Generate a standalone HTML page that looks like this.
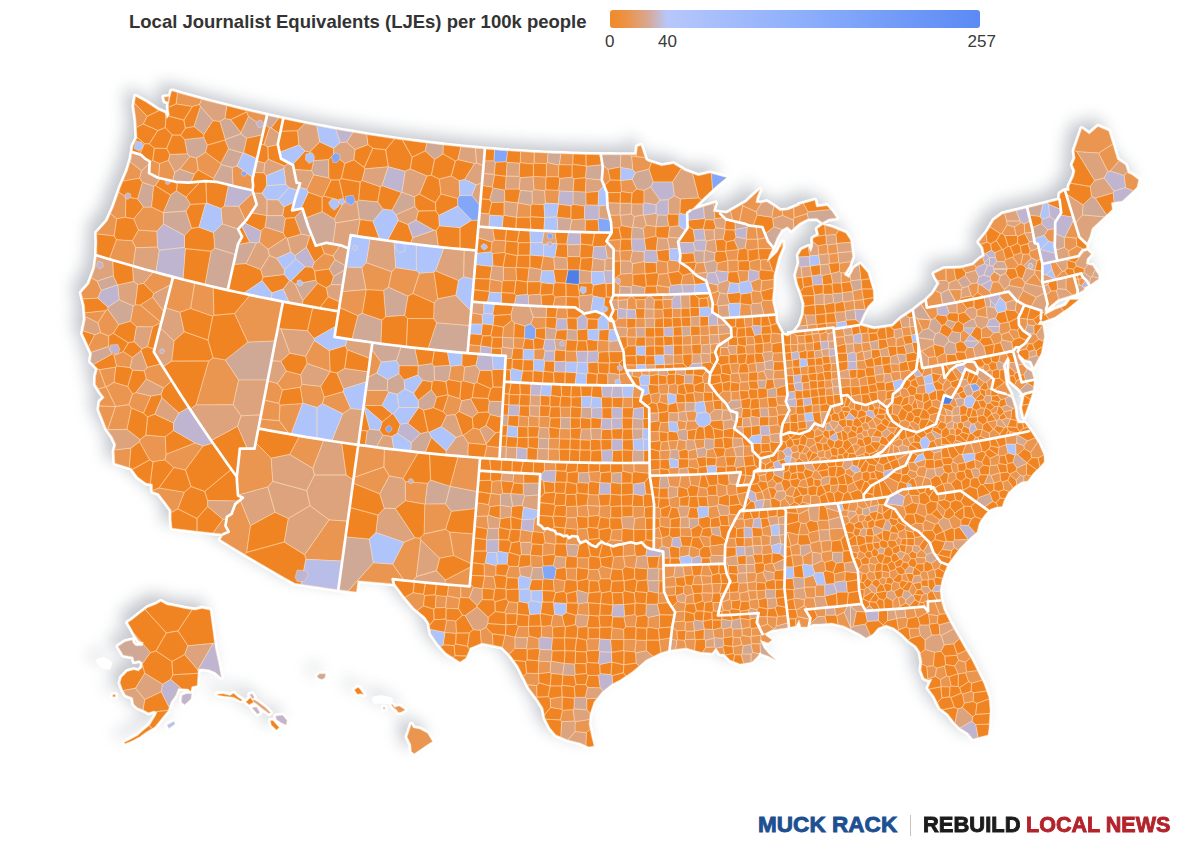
<!DOCTYPE html>
<html><head><meta charset="utf-8"><title>Local Journalist Equivalents per 100k people</title>
<style>
html,body{margin:0;padding:0;background:#fff;width:1200px;height:851px;overflow:hidden}
body{position:relative;font-family:"Liberation Sans",sans-serif}
.t{position:absolute;white-space:nowrap;line-height:1}
#title{left:129px;top:13.2px;font-size:18.5px;font-weight:bold;color:#333}
.tick{font-size:17px;color:#3a3a3a;top:33.2px}
.logo{font-weight:bold;font-size:22.5px;top:813.9px;-webkit-text-stroke:.9px currentColor;transform-origin:0 50%}
</style></head><body>
<svg width="1200" height="851" viewBox="0 0 1200 851" style="position:absolute;left:0;top:0"><defs><filter id="sh" x="-5%" y="-5%" width="110%" height="110%"><feGaussianBlur stdDeviation="8"/></filter><linearGradient id="lg" x1="0" x2="1" y1="0" y2="0"><stop offset="0" stop-color="#f08a2c"/><stop offset=".04" stop-color="#ee9142"/><stop offset=".10" stop-color="#d9a68e"/><stop offset=".155" stop-color="#b7c7fb"/><stop offset=".5" stop-color="#8fb0fb"/><stop offset="1" stop-color="#5b8af5"/></linearGradient></defs><g filter="url(#sh)" opacity=".33" transform="translate(-8,-7.5)"><path d="M172.6,91.1L181.6,93.7L190.7,96.3L199.7,98.7L208.8,101.2L217.9,103.5L227.7,106L237.5,108.5L247.3,110.8L257.1,113.1L267,115.4L283.2,119L291.7,120.7L300.1,122.5L308.5,124.2L317,125.8L325.4,127.4L333.9,129L342.4,130.5L350.9,131.9L359.3,133.3L367.7,134.7L376.1,136L384.5,137.3L392.9,138.5L401.3,139.7L409.7,140.8L418.2,141.9L427.7,143.1L437.2,144.2L446.7,145.3L456.3,146.3L465.8,147.3L475.4,148.2L484.9,149L493.5,149.7L502.1,150.4L510.7,151L519.3,151.5L527.9,152.1L536.5,152.5L545.1,153L553.7,153.4L563.1,153.7L572.5,154L581.9,154.3L591.3,154.5L600.8,154.7L609.6,154.7L618.4,154.8L627.3,154.8L636.1,154.7L636.3,156L637.5,146.5L641,145.5L645.8,160L649,161.7L661.7,165.8L673.3,163.7L685,170.8L698.3,175.8L710,173L726.7,177.5L716.7,185.8L703.3,198.3L690.8,210.8L699,208L712,204L715.5,203L714,208L713.3,211.5L720,212.5L726.7,213.3L746.7,201.7L756,193L760,189.5L757,197L755.8,202.5L761,203L766.7,201.7L775,207L780,210.8L788,210L800,205L799.4,204.5L814.8,200.2L816.5,207L827.1,205.7L832.2,211.5L836.6,217.9L828.7,219.1L822.3,222.5L817,218.5L808,218.7L799.6,223L791.3,230.3L787.4,226.8L781.4,229.9L776.8,238.1L773.1,247.4L769.3,255.5L767.1,262.1L771.3,257.9L777.2,252.2L782.5,241.9L783,246.5L778.5,257.2L775.8,267.8L773.8,275.7L773.7,286L772.2,300.4L775.3,314.3L775.9,322L780.5,330.7L782.3,334.4L787.6,336L794,332.8L799.9,325L803.5,314.2L804.3,303.8L801.4,293.7L797.6,283.8L795.8,274.9L799.2,263L798.4,255.3L801.5,249.8L808.4,246.5L810.8,251.9L812.9,246L812.9,238.3L818.9,235L817.3,228.8L822.6,224.8L832.4,227.4L845.8,233L850.4,240.1L852.6,256.6L849.3,266.1L843.9,274.6L849,277.8L854.2,268.1L860.1,264.1L867.8,272.7L873.1,290.1L873.6,300.4L867.8,306.5L863.3,314.9L859,325.1L867.9,327.3L873.9,329L887.1,327.1L892.7,326.3L901.1,318.5L912.9,310.8L920,304.9L925.8,300.8L933.2,293.5L939.4,283.2L935.5,277.4L934,273.5L943.9,268.8L960.8,268.2L973.3,264.9L979.7,259.1L984.7,256L982.9,247.2L978.9,241.9L987.1,231.8L993.9,220.3L1002.6,213.9L1014.9,210.9L1027.2,207.9L1038,205.2L1048.8,202.5L1059.6,199.7L1059.9,193.8L1065,190.5L1069.3,190.7L1069.1,186.3L1073.8,176.2L1075,170.6L1072.4,164.7L1075.2,158.1L1074.1,150.9L1081.8,128.6L1089.3,133.9L1098,126.5L1108.7,131L1113.1,145.2L1117.4,159.5L1125.5,165.1L1127.9,172.9L1131.6,174.4L1138.6,179.8L1137,187L1131.2,192.8L1122.3,200.9L1111.4,202.8L1112.3,209.2L1108.6,213L1098.1,222.7L1092,228.4L1090.1,235.6L1086.7,244L1086.2,249.5L1091.3,253.9L1086.9,259.1L1086.3,263.9L1092.6,265.6L1096.1,271.3L1098.7,275.2L1098.3,279.5L1095.7,280.8L1090,285L1084.7,287.2L1083.5,290.2L1077.2,293.5L1067.8,296.4L1058.3,299.3L1046,309.5L1044.4,315.2L1054.8,309.5L1065.7,305.5L1070.1,299.5L1078.8,299.4L1068.3,308L1054.7,317.2L1042.9,321.4L1040.6,320.1L1037.7,324.7L1042.7,324.9L1044.4,336.4L1041.3,353.1L1033.8,367.2L1031.1,361.2L1024.6,359.5L1019.6,354.8L1017.9,351.7L1018.1,356.9L1022.8,364.6L1026.2,368.4L1031.8,371.7L1034.2,379.8L1032.9,392.1L1028.5,404.9L1024,417.3L1021.9,407.7L1024.4,395.3L1018.8,388.5L1010.2,381.1L1009,370.8L1009.7,360.1L1008,356.5L1002.9,365.5L1004.4,373.1L1005.8,384.7L1010.9,394.2L1005.7,393.9L997.9,390.3L1011.7,398L1014.8,407.9L1015.7,416.9L1018,423.1L1024.8,422.9L1031.2,431.7L1039,443.7L1043.9,455L1044.2,462L1039,467.7L1033.3,473.3L1027.7,481L1022,481.8L1015,486L1008,493L1003.7,501.5L1002.3,506.5L996.7,507L990.3,509.3L985.4,514L981,520L979,524L977,532L970,538L960,548L954,556L948,564L944,574L942,580L940,590L941,600L944,610L950,622L958,636L966,650L971,658L978,672L984,684L989,698L990,710L989,728L988,735L980,737L973,739L968,733L960,728L954,722L948,714L940,708L934,696L928,688L932,679L928,680L924,678L921,670L922,662L920,652L916,646L909,641L902,634L894,628L886,625L878,628L873,634L866,638L860,634L854,631L844,626L832,623L820,624L813,624L808,627L801,627L799,620L796,626L786,628L772,630L764,634L772,640L768,643L760,640L764,648L769,654L776,660L768,656L762,654L760,652L758,656L752,662L740,664L730,660L724,654L720,654L716,648L712,653L700,652L686,648L670,650L660,653L646,660L632,672L620,680L612,684L602,692L594,702L590,714L589,724L592,738L594,746L589,747L580,743L568,740L556,735L550,728L545,718L543,708L538,700L529,688L524,678L518,666L510,655L502,647L492,645L482,643L470,648L466,658L460,662L446,653L438,644L431,634L429,623L425,617L414,608L404,596L395,584L357.9,580.7L356.4,592.1L338.3,589.7L327.4,588.2L316.5,586.6L305.6,584.9L294.7,583.2L283.9,577.2L273.2,571L262.5,564.8L251.9,558.6L241.3,552.3L230.8,545.9L220.4,539.5L223.5,534.1L210.6,532.7L197.8,531.3L185,529.8L172.1,528.2L171.2,519.5L171.2,510.3L165.4,502.3L158.7,493.6L152.7,491.6L152.3,484.1L146,483.1L137.8,477.1L131.3,468.3L114.9,463.2L114.2,451.1L115.9,444.8L112.5,437.2L106.4,428.4L98.9,409.4L100,401.7L104.3,397.5L100.4,392.4L95.4,384.2L95.6,376.2L97.7,368.8L90.5,361.3L91.7,353.6L82.6,333.4L85.4,319.4L84.5,305.6L81.3,292.7L89,284L94.8,268.3L96.6,255.3L97,242L96.7,232.7L107.3,220.9L113.6,206.7L120.4,187.3L127.4,170.7L131.1,158.4L131.9,152.5L132,154L133,146L137,138L136,120L134,106L135.6,96.4L146,102L158,110L165,113L167,118.5L169.3,115L168.3,106L169.5,99L171.6,91ZM160.9,601.4L167.1,604.9L172.3,605.8L184.6,608.4L195.1,610.1L202.1,608.4L210,610.1L212.6,628.5L215.2,647.8L218.7,663.6L221.4,677.6L215.2,672.3L209.1,669.7L202.1,668.8L198.2,669.2L197.2,685.5L191.9,686.7L190.7,691.6L188.1,689.1L178.4,688.4L177.6,690.7L175.8,695.1L173.7,698.2L170.9,702.1L167.9,710.9L163.6,716.1L160.1,720.5L154.8,727L146,732.2L139.9,736.8L132,741L125,743.8L124.2,742.4L131.2,738.9L137.6,735.4L142.5,731L149.5,725.2L155.2,716.1L157.1,712.3L153.9,710.9L148.7,713L143.4,710L137.6,707.7L133.8,704.2L132.6,697.7L125.6,695.1L122.6,689.8L120.1,682.8L121.5,677.6L127.3,671.6L133.8,669.7L138.5,670.9L142.2,667.4L142.5,662.7L139.4,660.4L134.1,661.5L133.1,656.9L123.3,655.2L118,646.4L125,641.7L132,639.9L133.3,643.4L135.9,645.7L142.5,645.7L143.4,642.5L139,641.3L135.9,636.9L131.3,628.5L127.8,622.6L132,619.8L140.8,612.8L147.8,607.5L156.6,604ZM164,97L169,96.5L168.2,102L165,101ZM182,695.4L186.3,693.7L191.6,693.7L190.9,698.9L184.6,704.7L181.4,702.1ZM167.1,724.9L173.7,721.4L175.1,724L168.8,728.4ZM112.8,694.7L115.4,694.7L115.4,696.8L112.8,696.8ZM217,694.2L223.1,693.7L230.1,695.4L233.6,693.3L238,697.2L242.4,700L240.6,700.9L233.6,697.2L226.6,696.5L218.7,695.4ZM245.9,702.1L250.3,697.7L253.8,702.1L249.4,704.7ZM249.7,694.7L252,693.7L254.3,697.2L252.5,698.9ZM253.8,699.5L258.1,702.1L265.1,707.3L270.4,712.6L269,713.5L262.5,708.7L256.4,703.8L252.9,701.2ZM252,707.7L256.4,707L259.9,712.6L257.3,714ZM270.4,720.5L273,720.5L279.2,727.5L276.5,730.1L271.3,724.9ZM275.7,716.1L282.7,715.2L287,720.5L286.2,724.9L281.8,723.1L276.5,719.6ZM317.2,675.8L319.7,673.8L325.4,673.7L325.1,677.6L321.9,679.5L318,678ZM354.3,690L358.1,687.2L359.9,688.9L363.7,694.5L360.6,693.8L357.5,694.3ZM383.2,707.2L385,707.2L385,708.9L383.2,708.9ZM391.3,704.5L393,704.8L394.2,707.2L397.3,706.5L399.4,706L405.2,709.8L401.5,711.9L398.4,712.6L396.3,709.6L393.3,707.6ZM411.4,724.1L413.1,727.7L419.8,729.1L427.6,733.3L432.5,741.5L427.6,744.6L422.6,748.1L414.2,753.7L411.4,751.6L410.9,744.6L407.1,736.8L409.3,730.5ZM374.7,698.8L381.1,697.8L390.2,699.5L389.5,701.6L381.8,701.2L375.4,701.2ZM98.8,660.9L104,659.7L109.6,663.2L108.4,667.1L102.3,665.7Z" fill="#4a5568" stroke="#4a5568" stroke-width="3" stroke-linejoin="round"/></g><path d="M172.6,91.1L181.6,93.7L190.7,96.3L199.7,98.7L208.8,101.2L217.9,103.5L227.7,106L237.5,108.5L247.3,110.8L257.1,113.1L267,115.4L283.2,119L291.7,120.7L300.1,122.5L308.5,124.2L317,125.8L325.4,127.4L333.9,129L342.4,130.5L350.9,131.9L359.3,133.3L367.7,134.7L376.1,136L384.5,137.3L392.9,138.5L401.3,139.7L409.7,140.8L418.2,141.9L427.7,143.1L437.2,144.2L446.7,145.3L456.3,146.3L465.8,147.3L475.4,148.2L484.9,149L493.5,149.7L502.1,150.4L510.7,151L519.3,151.5L527.9,152.1L536.5,152.5L545.1,153L553.7,153.4L563.1,153.7L572.5,154L581.9,154.3L591.3,154.5L600.8,154.7L609.6,154.7L618.4,154.8L627.3,154.8L636.1,154.7L636.3,156L637.5,146.5L641,145.5L645.8,160L649,161.7L661.7,165.8L673.3,163.7L685,170.8L698.3,175.8L710,173L726.7,177.5L716.7,185.8L703.3,198.3L690.8,210.8L699,208L712,204L715.5,203L714,208L713.3,211.5L720,212.5L726.7,213.3L746.7,201.7L756,193L760,189.5L757,197L755.8,202.5L761,203L766.7,201.7L775,207L780,210.8L788,210L800,205L799.4,204.5L814.8,200.2L816.5,207L827.1,205.7L832.2,211.5L836.6,217.9L828.7,219.1L822.3,222.5L817,218.5L808,218.7L799.6,223L791.3,230.3L787.4,226.8L781.4,229.9L776.8,238.1L773.1,247.4L769.3,255.5L767.1,262.1L771.3,257.9L777.2,252.2L782.5,241.9L783,246.5L778.5,257.2L775.8,267.8L773.8,275.7L773.7,286L772.2,300.4L775.3,314.3L775.9,322L780.5,330.7L782.3,334.4L787.6,336L794,332.8L799.9,325L803.5,314.2L804.3,303.8L801.4,293.7L797.6,283.8L795.8,274.9L799.2,263L798.4,255.3L801.5,249.8L808.4,246.5L810.8,251.9L812.9,246L812.9,238.3L818.9,235L817.3,228.8L822.6,224.8L832.4,227.4L845.8,233L850.4,240.1L852.6,256.6L849.3,266.1L843.9,274.6L849,277.8L854.2,268.1L860.1,264.1L867.8,272.7L873.1,290.1L873.6,300.4L867.8,306.5L863.3,314.9L859,325.1L867.9,327.3L873.9,329L887.1,327.1L892.7,326.3L901.1,318.5L912.9,310.8L920,304.9L925.8,300.8L933.2,293.5L939.4,283.2L935.5,277.4L934,273.5L943.9,268.8L960.8,268.2L973.3,264.9L979.7,259.1L984.7,256L982.9,247.2L978.9,241.9L987.1,231.8L993.9,220.3L1002.6,213.9L1014.9,210.9L1027.2,207.9L1038,205.2L1048.8,202.5L1059.6,199.7L1059.9,193.8L1065,190.5L1069.3,190.7L1069.1,186.3L1073.8,176.2L1075,170.6L1072.4,164.7L1075.2,158.1L1074.1,150.9L1081.8,128.6L1089.3,133.9L1098,126.5L1108.7,131L1113.1,145.2L1117.4,159.5L1125.5,165.1L1127.9,172.9L1131.6,174.4L1138.6,179.8L1137,187L1131.2,192.8L1122.3,200.9L1111.4,202.8L1112.3,209.2L1108.6,213L1098.1,222.7L1092,228.4L1090.1,235.6L1086.7,244L1086.2,249.5L1091.3,253.9L1086.9,259.1L1086.3,263.9L1092.6,265.6L1096.1,271.3L1098.7,275.2L1098.3,279.5L1095.7,280.8L1090,285L1084.7,287.2L1083.5,290.2L1077.2,293.5L1067.8,296.4L1058.3,299.3L1046,309.5L1044.4,315.2L1054.8,309.5L1065.7,305.5L1070.1,299.5L1078.8,299.4L1068.3,308L1054.7,317.2L1042.9,321.4L1040.6,320.1L1037.7,324.7L1042.7,324.9L1044.4,336.4L1041.3,353.1L1033.8,367.2L1031.1,361.2L1024.6,359.5L1019.6,354.8L1017.9,351.7L1018.1,356.9L1022.8,364.6L1026.2,368.4L1031.8,371.7L1034.2,379.8L1032.9,392.1L1028.5,404.9L1024,417.3L1021.9,407.7L1024.4,395.3L1018.8,388.5L1010.2,381.1L1009,370.8L1009.7,360.1L1008,356.5L1002.9,365.5L1004.4,373.1L1005.8,384.7L1010.9,394.2L1005.7,393.9L997.9,390.3L1011.7,398L1014.8,407.9L1015.7,416.9L1018,423.1L1024.8,422.9L1031.2,431.7L1039,443.7L1043.9,455L1044.2,462L1039,467.7L1033.3,473.3L1027.7,481L1022,481.8L1015,486L1008,493L1003.7,501.5L1002.3,506.5L996.7,507L990.3,509.3L985.4,514L981,520L979,524L977,532L970,538L960,548L954,556L948,564L944,574L942,580L940,590L941,600L944,610L950,622L958,636L966,650L971,658L978,672L984,684L989,698L990,710L989,728L988,735L980,737L973,739L968,733L960,728L954,722L948,714L940,708L934,696L928,688L932,679L928,680L924,678L921,670L922,662L920,652L916,646L909,641L902,634L894,628L886,625L878,628L873,634L866,638L860,634L854,631L844,626L832,623L820,624L813,624L808,627L801,627L799,620L796,626L786,628L772,630L764,634L772,640L768,643L760,640L764,648L769,654L776,660L768,656L762,654L760,652L758,656L752,662L740,664L730,660L724,654L720,654L716,648L712,653L700,652L686,648L670,650L660,653L646,660L632,672L620,680L612,684L602,692L594,702L590,714L589,724L592,738L594,746L589,747L580,743L568,740L556,735L550,728L545,718L543,708L538,700L529,688L524,678L518,666L510,655L502,647L492,645L482,643L470,648L466,658L460,662L446,653L438,644L431,634L429,623L425,617L414,608L404,596L395,584L357.9,580.7L356.4,592.1L338.3,589.7L327.4,588.2L316.5,586.6L305.6,584.9L294.7,583.2L283.9,577.2L273.2,571L262.5,564.8L251.9,558.6L241.3,552.3L230.8,545.9L220.4,539.5L223.5,534.1L210.6,532.7L197.8,531.3L185,529.8L172.1,528.2L171.2,519.5L171.2,510.3L165.4,502.3L158.7,493.6L152.7,491.6L152.3,484.1L146,483.1L137.8,477.1L131.3,468.3L114.9,463.2L114.2,451.1L115.9,444.8L112.5,437.2L106.4,428.4L98.9,409.4L100,401.7L104.3,397.5L100.4,392.4L95.4,384.2L95.6,376.2L97.7,368.8L90.5,361.3L91.7,353.6L82.6,333.4L85.4,319.4L84.5,305.6L81.3,292.7L89,284L94.8,268.3L96.6,255.3L97,242L96.7,232.7L107.3,220.9L113.6,206.7L120.4,187.3L127.4,170.7L131.1,158.4L131.9,152.5L132,154L133,146L137,138L136,120L134,106L135.6,96.4L146,102L158,110L165,113L167,118.5L169.3,115L168.3,106L169.5,99L171.6,91ZM160.9,601.4L167.1,604.9L172.3,605.8L184.6,608.4L195.1,610.1L202.1,608.4L210,610.1L212.6,628.5L215.2,647.8L218.7,663.6L221.4,677.6L215.2,672.3L209.1,669.7L202.1,668.8L198.2,669.2L197.2,685.5L191.9,686.7L190.7,691.6L188.1,689.1L178.4,688.4L177.6,690.7L175.8,695.1L173.7,698.2L170.9,702.1L167.9,710.9L163.6,716.1L160.1,720.5L154.8,727L146,732.2L139.9,736.8L132,741L125,743.8L124.2,742.4L131.2,738.9L137.6,735.4L142.5,731L149.5,725.2L155.2,716.1L157.1,712.3L153.9,710.9L148.7,713L143.4,710L137.6,707.7L133.8,704.2L132.6,697.7L125.6,695.1L122.6,689.8L120.1,682.8L121.5,677.6L127.3,671.6L133.8,669.7L138.5,670.9L142.2,667.4L142.5,662.7L139.4,660.4L134.1,661.5L133.1,656.9L123.3,655.2L118,646.4L125,641.7L132,639.9L133.3,643.4L135.9,645.7L142.5,645.7L143.4,642.5L139,641.3L135.9,636.9L131.3,628.5L127.8,622.6L132,619.8L140.8,612.8L147.8,607.5L156.6,604ZM164,97L169,96.5L168.2,102L165,101ZM182,695.4L186.3,693.7L191.6,693.7L190.9,698.9L184.6,704.7L181.4,702.1ZM167.1,724.9L173.7,721.4L175.1,724L168.8,728.4ZM112.8,694.7L115.4,694.7L115.4,696.8L112.8,696.8ZM217,694.2L223.1,693.7L230.1,695.4L233.6,693.3L238,697.2L242.4,700L240.6,700.9L233.6,697.2L226.6,696.5L218.7,695.4ZM245.9,702.1L250.3,697.7L253.8,702.1L249.4,704.7ZM249.7,694.7L252,693.7L254.3,697.2L252.5,698.9ZM253.8,699.5L258.1,702.1L265.1,707.3L270.4,712.6L269,713.5L262.5,708.7L256.4,703.8L252.9,701.2ZM252,707.7L256.4,707L259.9,712.6L257.3,714ZM270.4,720.5L273,720.5L279.2,727.5L276.5,730.1L271.3,724.9ZM275.7,716.1L282.7,715.2L287,720.5L286.2,724.9L281.8,723.1L276.5,719.6ZM317.2,675.8L319.7,673.8L325.4,673.7L325.1,677.6L321.9,679.5L318,678ZM354.3,690L358.1,687.2L359.9,688.9L363.7,694.5L360.6,693.8L357.5,694.3ZM383.2,707.2L385,707.2L385,708.9L383.2,708.9ZM391.3,704.5L393,704.8L394.2,707.2L397.3,706.5L399.4,706L405.2,709.8L401.5,711.9L398.4,712.6L396.3,709.6L393.3,707.6ZM411.4,724.1L413.1,727.7L419.8,729.1L427.6,733.3L432.5,741.5L427.6,744.6L422.6,748.1L414.2,753.7L411.4,751.6L410.9,744.6L407.1,736.8L409.3,730.5ZM374.7,698.8L381.1,697.8L390.2,699.5L389.5,701.6L381.8,701.2L375.4,701.2ZM98.8,660.9L104,659.7L109.6,663.2L108.4,667.1L102.3,665.7Z" fill="#fff" stroke="#fff" stroke-width="5.2" stroke-linejoin="round"/><path d="M159.7,163.4L152.7,160.4L149.7,162.2L149.1,173.1L158,177.8L158.6,177.9ZM174.8,172.2L168.5,160.3L159.7,163.4L158.6,177.9L166.7,179.8L172.7,181.2ZM198.2,170L196.5,158L190,156.4L179.7,169.1L194.5,174.2ZM205.6,152.3L196.5,158L198.2,170L213.7,178.6L221.2,164.7L220.7,163.3ZM237,165.9L232.1,167.4L233,185.8L238.7,187.2L250,189.8L252.5,190.3L252.5,190.3L253.1,186L252.5,179.1L252.8,177.6ZM147.2,116.3L134.5,103L134,106L136,120L136.4,127.6L143.4,124ZM176.1,104L192.4,106.5L199.6,104.5L201.6,99.2L199.7,98.7L190.7,96.3L181.6,93.7L177.4,92.5ZM246.5,112L248.4,116.5L264.2,127.4L267,115.4L257.1,113.1L247.3,110.8L246.6,110.7ZM335,259.7L333,255.8L324.2,253.5L314.4,262.2L312.2,267.2L314.6,271.1L329.2,269ZM259.4,242L268,249.4L285.9,237.7L283.2,232.8L264.9,226.9L261.1,231ZM324.2,253.5L333,255.8L340.5,245.2L326.5,242.8L321,244.3ZM331.3,179.9L328.9,177.9L313.7,174.7L306.8,189.4L308.3,192.3L322.1,197.2L323.6,196.1ZM439.2,179.1L440.9,194L457.7,198.6L459.8,195.7L459.2,180.7L451.3,175.8ZM518,202.8L517.9,202.9L516.4,217.3L516.5,217.4L530.2,217.2L530.6,216.7L530.9,205.3ZM559.4,191.1L558.8,190.3L545.8,189.7L544.6,190.7L545.3,203.2L558.3,203.8ZM544.6,190.7L545.8,189.7L546.1,177L533.4,176.3L533,176.8L534,189.7ZM558.9,165.1L547.5,162.6L546.3,163.6L546.3,176.9L558.3,176.8ZM520.2,162.8L533.4,164L534.2,163.3L534.3,152.4L527.9,152.1L520.6,151.6ZM534.2,163.3L546.3,163.6L547.5,162.6L548.1,153.1L545.1,153L536.5,152.5L534.3,152.4ZM572.9,164.3L573.2,154.1L572.5,154L563.1,153.7L560.8,153.6L559.3,164.7L572.1,165.1ZM620.1,286.1L613.6,279.6L613.4,279.6L613.4,279.8L613.4,295.2L619.5,295.2ZM669.3,287.4L657,285.4L656.2,286L657.3,294.8L661.7,294.7L669.3,294.5ZM632.9,274.5L631.9,273.4L620.6,274.1L613.6,279.6L620.1,286.1L630.9,287.1L633,285ZM669.3,287.4L671,285.4L667.9,273.3L658.7,274.4L657,285.4ZM681.5,284.8L694.9,284.6L695,284.4L692.4,272.7L682.6,275.4L681,284.4ZM644.6,262.2L644.1,261.5L632.5,263.7L631.9,273.4L632.9,274.5L645.2,273.8ZM667.9,273.3L668.2,273L667.4,261.9L658,260.6L656.2,262.7L656.6,272.7L658.7,274.4ZM669.6,259.9L667.4,261.9L668.2,273L678.7,271.4L680.2,262.4L679.7,262.1L679.8,261.4ZM620.5,261L620.6,260.9L619.9,251L613.6,250.5L613.5,261.6ZM630.3,261.2L632.6,250.8L632.1,250.1L620,250.9L619.9,251L620.6,260.9ZM619.9,251L620,250.9L620.8,239.5L607,240.3L606.4,241.2L613.6,249L613.6,250.5ZM656.1,226.9L655.8,226.6L646.3,225L643.1,228.4L644.4,238.8L655.9,236.1ZM621.5,225.5L620.5,215.3L620,214.9L609.3,215.2L611,222.1L611.4,228.1L619.1,227.9ZM620.7,180.5L621.2,191.7L632,193L636.9,189.1L632.2,179.3ZM610.3,179.9L608.1,169.4L602.4,164.5L602.8,167.3L601.8,180L604.2,186.1ZM631.5,156.1L632.7,169.6L635.3,172.5L649.1,169.2L651.6,162.5L649,161.7L645.8,160L645,157.6ZM645,157.6L641,145.5L637.5,146.5L636.3,156L636.1,154.7L629.9,154.8L631.5,156.1ZM750.8,304.9L740.3,303.5L739.6,317.1L743.3,316.9L751.7,316.3ZM763,300.2L760.9,303.1L764.1,315.4L764.6,315.4L775.3,314.6L775.3,314.3L772.2,300.4ZM716.8,304.9L719.8,292.9L718.1,291.2L710.2,293.8L712.7,303.1L712.6,304.7ZM752.2,303.7L760.9,303.1L763,300.2L760.6,291.7L752.9,290.7L750.9,292.7ZM718.1,291.2L717.7,285.1L706.6,282.4L710,293L710.2,293.8ZM752.9,290.7L760.6,291.7L760.8,291.5L761.8,280.6L759.1,278.7L750.5,282.2ZM761.8,280.6L760.8,291.5L773.5,287.9L773.7,286L773.8,279.5ZM738.4,270.5L737.5,271.5L739.9,282.5L748.2,280.7L748.6,270.9ZM706.7,272.4L704.1,262.7L704,262.5L696.2,262.8L693.9,272.9L694.8,273.8ZM717.2,263L716.7,270.7L728.1,272L727.7,260.5ZM727.7,260.4L727.7,260.5L728.1,272L728.2,272.2L737.5,271.5L738.4,270.5L738.2,260.9L737.3,260.1ZM758.9,271.6L760.8,270L760.4,259.9L759.1,259L749.5,261.5L749.8,269.6ZM772.7,271.1L768.9,260.3L767.1,262.1L768,259.3L760.4,259.9L760.8,270ZM738.3,249.5L725.8,250.9L725.5,251.4L727.7,260.4L737.3,260.1L738.5,249.6ZM745,248.1L747.8,250.3L758.3,248.6L758.3,248.6L757.7,239.3L757.6,239.2L746.5,239.3ZM757.7,239.3L758.3,248.6L772.4,248.8L773.1,247.4L768.1,241.4L766.5,237.6ZM782.9,245.6L782.5,241.9L779.7,247.3ZM757.6,239.2L756,226.4L749.7,225.7L749,225.4L747.2,227.3L746.1,238.7L746.5,239.3ZM757.6,239.2L757.7,239.3L766.5,237.6L762.3,227L756,226.4ZM807.2,213.6L794.1,217.8L793.3,220L793.8,228L799.6,223L808,218.7L808.5,218.7ZM732.7,220.9L735.2,221.5L739.3,222.4L742.7,205.8L741.9,204.5L730.5,211.1ZM756.1,211.7L742.7,205.8L739.3,222.4L744.2,223.6L749.7,225.7L753.1,226.1L757.2,215ZM771.8,217.3L772.7,218.6L782.7,215.5L782.4,210.6L780,210.8L775,207L773.6,206.1ZM782.7,215.5L793.3,220L794.1,217.8L793.6,207.7L788,210L782.4,210.6ZM794.1,217.8L807.2,213.6L808.2,211.8L803.4,203.4L799.4,204.5L800,205L793.6,207.7ZM742.7,205.8L756.1,211.7L761.7,202.8L761,203L755.8,202.5L757,197L760,189.5L756,193L746.7,201.7L741.9,204.5ZM770.7,441.8L769.5,435.2L761.6,435.5L760.7,443.6L760.9,443.9L769.7,443.3ZM778.1,424.8L769,425.8L770.1,434.5L781.2,433L782,428.3ZM768.7,425.5L769,425.8L778.1,424.8L777.3,416.2L769,416.8L768.8,416.9ZM776,407.1L768.6,407.3L767.9,408L769,416.8L777.3,416.2L778.1,415.3ZM787.4,414.5L789.5,410.2L787.4,405.3L777.5,405.2L776,407.1L778.1,415.3ZM758.8,398.9L759.7,408.1L759.7,408.1L767.9,408L768.6,407.3L767.7,397.6L767.5,397.4ZM777.5,405.2L787.4,405.3L785.8,401.5L787.2,396L777.1,396.1L776,397.4ZM731.1,400.3L731.1,391.7L730.2,390.9L722.9,391.1L718.2,395.3L725.8,403.2L726.8,405ZM731.1,391.7L731.1,400.3L740.6,399.9L739.3,390.8ZM748.2,381.6L740.8,382.1L739.6,383.3L739.5,390.6L748.3,390.9L749.8,388.9ZM740.8,382.1L738.8,373.1L738.5,372.9L731.6,373.6L730.3,374.9L730.2,381.2L730.8,382L739.6,383.3ZM748.2,381.6L748.6,381.1L748.8,372.8L738.8,373.1L740.8,382.1ZM757.9,380.2L766.5,380.1L767.2,379.4L763.8,371L757.6,372.5ZM786.1,378.6L785.4,369.7L774,370.8L773.1,379L773.3,379.2ZM739.7,364.3L737.8,362.9L729.6,363.9L731.6,373.6L738.5,372.9ZM755.9,363L755.3,362.6L747.6,364.5L749.1,372.5L756.8,372ZM773.2,353L772.1,360.1L773.9,361.7L784.7,361.9L783.9,352.5ZM720.8,347.6L719.9,355.8L728.9,355.7L729.8,354.4L727.6,347.3ZM746.1,353.5L746.9,354.2L754.4,354L755.3,353.3L754.6,344.6L746.5,344.9L745.3,346.3ZM763.2,352.3L772,351.6L772.1,343.9L770.5,342.5L763.3,343.2L763.1,343.4ZM746.1,336.7L746.5,344.9L754.6,344.6L755,344.1L753.8,336.4ZM770.5,342.5L772.1,343.9L783,341.9L782.3,334.4L782.2,334.1L771.6,333L770.9,333.9ZM752.8,325.6L752.6,316.3L743.9,316.8L745.2,327.5L745.3,327.6L751.7,326.7ZM805.3,420.9L804.6,413.8L797.2,414.3L797.8,422.3ZM789.6,415.2L796.2,413.6L796.2,406.9L787.7,406.1L789.5,410.2L787.7,413.8ZM819.3,404.6L812.1,404.9L812,412.5L812.4,412.8L820.3,411.9L819.9,405.1ZM833.2,395.3L833.6,394.8L832.4,387.6L825.6,388.4L825.5,395.9L825.6,396ZM809.2,381.8L802.3,383L802.8,390.2L809.9,389.7L810.3,389.3ZM824.9,380.2L824.8,380.3L824.7,387.7L825.6,388.4L832.4,387.6L832.9,386.8L831.6,379.7ZM839.2,378.5L838.4,371.3L831.3,371.9L831.9,379.4ZM785.3,368.5L785.9,375.7L793.4,375.8L793.7,375.4L792.7,367.6ZM808.3,366.3L807.7,365.8L800,367.1L801,374.6L801.3,374.8L807.9,374.5L808,374.3ZM823.9,371.7L822.6,365.1L815.5,365.1L814.9,365.7L816.3,373L817,373.6L823.3,372.5ZM838.4,371.3L838.1,369.1L837.5,363.2L831.4,363.8L830.8,371.4L831.3,371.9ZM792.7,367.6L793.2,367.1L792.3,360.2L792.1,360.1L784.6,360.5L784.9,364.6L785.3,368.5ZM797.8,351.6L797.5,344.5L790.4,344.4L790.2,344.6L791.1,352.4L791.4,352.6ZM806.1,350.5L805,343.6L798.1,344L797.5,344.5L797.8,351.6L798.8,352.4ZM805.4,343.2L805,343.6L806.1,350.5L807.1,351.3L813.6,350.4L813.4,342.6ZM790.4,344.4L797.5,344.5L798.1,344L796.9,335.6L793.4,333.1L790.5,334.5ZM796.9,335.6L798.1,344L805,343.6L805.4,343.2L804.8,335.5ZM820.5,341.5L820.5,341.5L819.8,333.9L819,333.4L812.4,334.1L811.8,334.7L813.5,342.5ZM827.8,341L828.1,333.8L825.8,332.2L819.8,333.9L820.5,341.5ZM805,335.2L811.8,334.7L812.4,334.1L811.8,329.9L810.9,330L804.7,330.7ZM819,333.4L818.5,329.2L811.8,329.9L812.4,334.1ZM825.8,332.2L828.1,333.8L834,332.2L833.6,329.1L833.5,327.5L825.8,328.4ZM807.8,330.4L810.9,330L817.4,329.3L817,324.5L816.2,323.9L807.4,325.3ZM836.8,322.7L836.6,322.6L826.1,323.1L826.1,323.1L827,328.3L833.5,327.5L833.6,329.1L836.9,328.6ZM803.6,313.5L803.5,314.2L799.9,325L799,326.2L807.2,325.2L805.6,315.1ZM845.4,311.2L854.8,309.5L854.1,300.7L853.8,300.4L843.7,302.1ZM854.8,309.5L854.8,309.5L865.1,309.4L863.3,299.6L854.1,300.7ZM853.8,300.4L854.1,300.7L863.3,299.6L863.5,299.3L861.8,289L852.9,291L852.5,291.6ZM841.1,272.9L841.1,282.9L841.2,282.9L850.3,281.8L851.1,280.6L850.2,275.5L849,277.8L843.9,274.6L845.2,272.5ZM845.2,272.5L849.3,266.1L850.9,261.5L839.5,263.3L839.5,271.6L841.1,272.9ZM828.8,254.2L829.3,263.4L838.9,262.8L837.9,253ZM827.5,245L826.5,244.2L817.8,245.7L818.9,254.9L828.1,253.7ZM838.1,252.7L836.6,243.5L827.5,245L828.1,253.7L828.8,254.2L837.9,253ZM825.5,235L826,235.4L835.8,234.5L839.1,230.2L832.4,227.4L824.6,225.3ZM886.1,399.2L882.6,404.2L886.9,407.5L892.2,402.1L892.6,398.4ZM850.2,397.9L854.2,402L862.4,404.2L861.3,394.7L860.6,394.1L851.5,396.1ZM877.7,390.9L876.9,392L878,400.8L882.6,404.2L886.1,399.2L886.4,391.3L885.3,390.3ZM850.1,386.7L850.5,378.8L850.2,378.6L839.1,377.9L839.6,382.4L840.2,387.6ZM850.5,378.8L850.1,386.7L850.6,387.1L860,386.6L860.1,386.3L858.8,378.8L856.7,377.4ZM858.8,378.8L860.1,386.3L867.9,385.2L866.9,376.6L866.2,376.2ZM876.4,382.4L883.9,382.1L884.3,373.8L884,373.6L875.2,375.2L874.8,375.9ZM892.8,381.4L900.8,379.2L900,371.6L899.8,371.4L892,372L890.5,373.6L892.7,381.3ZM909.1,370.2L900,371.6L900.8,379.2L904.2,381.8L905.7,379.2L912.8,372.7ZM890.2,363.8L892,372L899.8,371.4L899.2,364L890.3,363.7ZM856.3,361.5L857.1,369.2L865,369.5L866.8,367.3L864.4,360.3L856.7,361ZM863.5,351.7L862.6,351.1L856,353.4L856.7,361L864.4,360.3L864.6,359.9ZM854,352L856,353.4L862.6,351.1L861.5,343.3L854.1,343.1L853.5,343.7ZM871.1,350.5L871.6,349.9L869.5,342.1L861.9,342.9L861.5,343.3L862.6,351.1L863.5,351.7ZM896.2,338.6L894.2,337L886.7,338.5L886.1,339.2L888.1,346.6L896,346.3ZM896.5,346.8L904.4,345.7L905.3,344.5L902.8,336.8L896.2,338.6L896,346.3ZM844,336.6L834.6,337.5L835.1,342.4L835.6,346.8L845.6,343.9ZM869.5,342.1L868.9,333.5L867.9,332.7L861.6,333.8L861.9,342.9L869.5,342.1ZM911.5,335.2L909.9,326.8L909.8,326.7L902.1,327.6L901.6,328.4L903.1,336.3ZM911.5,335.2L916.7,334L915.7,327.8L915.4,326.1L909.9,326.8L911.5,335.2ZM844,336.6L844.7,335.6L843,327.6L833.6,329.1L834.6,337.5ZM928.4,357.3L928,367.2L932.4,366.4L938.3,365.4L936.9,357.2L935.4,356.6ZM936.9,357.2L938.3,365.4L942.3,364.7L942.5,364.7L947.3,363.9L946.3,354.6L944.5,353ZM973.2,347.6L967.3,347.4L964.8,352.1L967.1,360.2L972.8,359.1L975.7,358.6ZM933.4,345.3L921.4,351L928.4,357.3L935.4,356.6ZM993.7,332.9L990,337.2L993.7,344.1L994.4,344.4L1000.5,342.6L1001.9,339.9L1001.3,334.5L999,332.2ZM1011.7,342.2L1013.9,339.5L1008.8,332L1001.3,334.5L1001.9,339.9ZM1010.7,329.4L1008.8,332L1013.9,339.5L1019.8,337.5L1017.6,330.1ZM960.3,341.5L963.7,342.5L965.4,341L969.9,335L963.6,330L960.6,332.9ZM981.3,328.8L981.6,338.1L990,337.2L993.7,332.9L986.6,326.5L986.3,326.3ZM999,332.2L1001.3,334.5L1008.8,332L1010.7,329.4L1008.9,322.2L1008.1,322L999.8,323.5L999.4,326.5ZM922.5,330.3L917.4,318.7L913.7,315.7L915.7,327.8L917.1,336.5ZM930.9,319.9L917.4,318.7L922.5,330.3L928.6,328.3ZM987.2,317.7L986.4,307.1L985.6,306.6L976.7,310L976.8,315.8ZM1015.2,310.7L1019.5,315.6L1021.1,312.6L1024.3,305L1016.5,300.5ZM931,319.8L935.1,318.2L937.4,314.7L937,305.9L926.9,307.7L925.8,300.8L921.1,304.2ZM964.8,312.2L967.1,308.5L961.6,301.3L957.7,302.1L956.9,302.2L957.1,312.9L958.3,314.1ZM1015.6,299.4L1008.7,291.6L999.4,293.6L1000,297.2L1005.5,302.8ZM1044.8,313.7L1046,309.5L1043.9,312.5ZM1048.9,319.3L1054.7,317.2L1063.7,311.1L1061.1,307.2L1054.8,309.5L1045.5,314.6ZM1036.4,297.3L1023.1,290.4L1017.5,301.1L1024.3,305L1030.8,307.2ZM935.1,290.5L933.2,293.5L925.8,300.8L926.9,307.7L937.2,305.9L942.7,304.9L940.7,293.2ZM948.9,289.7L956,302.4L957.7,302.1L958.7,301.9L961,297.8L961.4,289.6ZM968,286.5L971.4,295.9L973,296.8L977.6,292.6L978.4,284.2L977.2,282.8L971.2,283.6ZM983.9,296.9L988.3,296L991.6,295.3L989.8,291.3L981,285L978.4,284.2L977.6,292.6ZM989.8,291.3L991.6,295.3L998.5,293.8L1003.8,292.7L1004.5,289.7L998.7,281.8L992.6,282ZM1009,285.4L1023,288.3L1025.3,283.3L1025.2,283L1022.4,279L1018,276.8L1010.2,280.1ZM1034.6,273.5L1025.2,283L1025.3,283.3L1043.6,287.3L1043,284.8ZM1034.9,270.1L1034.9,270.2L1034.6,273.5L1043,284.8L1042.4,282.5L1042.4,271.1ZM994.1,271.6L990,276.7L990.9,280.1L992.6,282L998.7,281.8L1000.4,275.7ZM945.8,268.7L943.9,268.8L934,273.5L935.5,277.4L937.7,280.7L946.2,280.5ZM946.2,280.5L949,283L956,279.7L953.9,268.4L945.8,268.7ZM965.8,273L975.7,270.5L976.2,267.4L974,264.3L973.3,264.9L962.2,267.8ZM1015.4,268.4L1018.5,265.1L1012.8,256.9L1005.7,259.4L1004.3,261.6L1007.4,268.7ZM1013.7,255.2L1012.8,256.9L1018.5,265.1L1020.8,264.6L1023.1,254L1021.2,252.6ZM1023.1,254L1020.8,264.6L1023.8,265.7L1031.4,258L1028.8,254.1ZM1030.3,250.9L1028.8,254.1L1031.4,258L1037.3,260.7L1041.2,258.7L1038.8,248.1ZM982.8,257.1L979.7,259.1L974,264.3L976.2,267.4L984.6,263.7L984.4,262.6ZM996.8,261.5L1004.3,261.6L1005.7,259.4L1003.1,249.5L1002.1,249.3L994.8,252.6L995.3,257.5ZM987.2,242.2L986,233.1L978.9,241.9L980.9,244.5ZM1014.3,226.9L1007.2,224.7L1001.9,233.5L1004.8,235.6L1016.1,235.4ZM1024.7,233.2L1024.3,223.8L1021.1,222.5L1014.3,226.9L1016.1,235.4L1017.7,236.4L1024.7,233.3ZM1024.3,223.8L1024.7,233.2L1032.8,232.2L1032.1,228.1L1030.3,220.7ZM1000.3,233.7L1001.9,233.5L1007.2,224.7L1006.7,221L1004.6,213.4L1002.6,213.9L993.9,220.3L990,226.9ZM1047.8,229.8L1044.1,235.3L1048.7,241.3L1054.8,243.1L1055.1,232.9L1055.1,228.5ZM1069.5,258.1L1078.4,256.1L1082.6,250.4L1085.1,249.8L1077,246.2L1068.4,251ZM1064.2,237.4L1064.6,247.4L1068.4,251L1077,246.2L1076.1,238.1L1064.9,237ZM1064.9,237L1076.1,238.1L1078.9,235.5L1074.6,221.6L1073.9,219.3ZM1077,151.7L1098.6,153.1L1112.7,144.1L1108.7,131L1098,126.5L1089.3,133.9L1081.8,128.6L1074.2,150.6ZM1098.6,153.1L1107.8,171.6L1110.1,171L1119.3,160.8L1117.4,159.5L1113.1,145.2L1112.7,144.1ZM1124.1,175.6L1125.5,187.6L1133.1,190.9L1137,187L1138.6,179.8L1131.6,174.4L1127.9,172.9L1127.6,171.7ZM1064.7,271L1062.1,271.3L1055.7,278.5L1055.4,279.4L1055.5,279.6L1063.3,277.9L1068.8,276.6ZM1062.1,271.3L1055,261.3L1050.2,262.3L1051.9,269.1L1055.7,278.5ZM1074.8,279.5L1076.7,287.1L1079.3,285.1L1078.5,279.1L1078.2,278.9ZM1078.5,279.1L1079.3,285.1L1081.8,285.5L1086,280.2L1083.8,277.9ZM1077.4,274.5L1073.7,275.4L1074.8,279.5L1078.2,278.9ZM1056.4,290.6L1050.9,291.1L1045.6,295.6L1047.6,303.8L1046,309.5L1058.3,299.3L1058.8,299.2ZM1066,289.5L1072.4,295L1077.2,293.5L1077.8,290.9L1073.7,275.4L1066,277.2ZM1026.4,348.9L1028.4,343.9L1026.6,341.3L1025.1,343.5L1019.6,347.4L1018.7,349.7L1018.2,351ZM1038.9,339.2L1036,334.5L1034.2,333.9L1027,333.4L1030.3,335.7L1026.6,341.3L1028.4,343.9L1032.6,344ZM1027.2,319.1L1027.2,319.1L1018.6,317.7L1019,325L1023.2,330.7L1024.7,331.7L1027.4,324.8ZM1036.6,324.1L1033.1,319.5L1027.2,319.1L1027.4,324.8L1033.9,325.8ZM1016.9,365.3L1017.3,366.6L1019.8,375.8L1023.8,374.6L1027.5,369.1L1026.2,368.4L1022.8,364.6L1022.5,364.1ZM993.8,390L997.1,391.7L1003.3,393.3L997.9,390.3L1005.7,393.9L1010.9,394.2L1005.8,384.7L1005.7,383.2L1004.9,382.4L1004.4,382.4ZM1027.3,383L1027.1,381.3L1021.6,382.4L1020.5,378.4L1016.3,381L1014.6,384.9L1018.8,388.5L1020.1,390.1ZM992.4,370.8L990.1,369.6L984.9,372.3L989.9,376L992.1,377.8ZM990.1,369.6L988.6,364.6L984.6,363.8L982.7,367.1L983.6,371.4L984.9,372.3ZM949.6,371.3L950.8,369.8L956.9,365.3L963.6,364L965.1,362.8L964.9,360.6L962.7,361L952.6,362.9L945.3,364.2ZM998.5,361L1003.8,363.8L1007.8,356.7L1005.9,352.4L1002.9,353.1L1000.5,353.6ZM1010.5,362.8L1009.7,360.9L1009.4,364.4ZM952.3,444.8L952.4,445.5L954.6,445.1L965.2,443.3L965.5,443.3L955.5,440.1ZM890.8,443.2L890.2,442.8L881.9,451.8L871.8,457.1L881.9,455.8L887.4,455.1ZM890.8,443.2L887.4,455.1L892,454.5L893.3,454.3L893.4,445.2L891.1,443.3ZM893.3,454.3L900.3,453.3L898.1,447.1L893.4,445.2ZM941.8,444.6L941.2,437.8L936.2,438.8L934,440.8L937.3,447.9L940.9,447.3ZM989.3,433L982.4,429.5L982.1,429.7L980.2,436L987.1,439.4L989.6,439ZM999.8,434L993.8,429.1L993.1,429.3L989.3,433L989.6,439L997,437.6L1000.3,437ZM898.9,438.5L891.1,443.3L893.4,445.2L898.1,447.1L902.2,444.8L902.5,440.3ZM906.5,437.4L902.5,440.3L902.2,444.8L908.5,446.9L910.4,444.3L910.6,443.7L907.5,438.1ZM907.5,438.1L910.6,443.7L913.9,442.1L914.1,436ZM930.2,441.7L934,440.8L936.2,438.8L931.2,431.7L926.4,434.1L925.8,436.2ZM949.9,434.1L955.2,435.3L955.2,430L952.9,428.3L948.6,429.1ZM974.3,423.7L976.8,429.7L982.1,429.7L982.4,429.5L983,424.7L977.7,421ZM996.7,425.5L996.6,420.7L995.8,420.3L987.5,421.9L993.1,429.3L993.8,429.1ZM952.9,428.3L955.2,430L957.6,427.8L957.5,423.3L953.9,422.2ZM991.5,413.9L995.8,420.3L996.6,420.7L999.3,419L999.9,415.8L996.6,412.7L991.6,413.6ZM1010.9,419.1L1011.7,410.1L1004.2,411.8L1003.7,413L1006.8,418L1010.4,419.4ZM940.5,421.6L945,423L945.2,415.9L939,414.1L937.9,417.6ZM947.3,415.2L945.2,415.9L945,423L946.4,424L952.1,420.8L952.2,416L952.1,415.8ZM984.9,408.1L981,407.8L976,410.4L977.5,416.5L983.5,415.2ZM996.6,412.7L998.4,406.3L994.8,406.6L990.5,410.6L991.6,413.6ZM945.2,415.9L947.3,415.2L945,408.9L941.4,405.8L940.5,408.9L939,414.1ZM953.3,397.8L949.7,404.1L953.9,407.5L957.7,406.4L955.2,399.1ZM997.7,395.3L1000.5,399.7L1005,398.8L1008.7,396.3L1003.3,393.3L998.4,392ZM973.3,392L971.7,395.7L975.3,399.4L980.9,394L979.4,389.4ZM988.3,388.6L985.5,390.3L985.9,395.6L990.9,395.6L991.1,389.7ZM975.9,383.6L979.9,387.9L984.4,382.2L978.5,377.7ZM992.1,389.2L991.5,388.9L993.8,379.2L992,377.7L986.5,382L988.3,388.6L991.1,389.7ZM1003.8,489.7L1009.2,491.8L1013.2,487.8L1007.8,480.1L1002.5,481.9ZM1026.5,474.5L1023.8,476.2L1023.7,481.6L1027.7,481L1031.2,476.2ZM943.4,483.9L945.6,492.8L949,492.3L955.8,491.3L951.1,483.5L947.2,482.7ZM994,482.9L994.1,483L1000.5,480.9L1000.1,472.9L999.9,472.8L990.8,475.5ZM1010,475.1L1016.2,480.3L1020.3,475.3L1016,470.8L1010,473.9ZM1020.3,475.3L1023.8,476.2L1026.5,474.5L1026.6,463.5L1016.9,467.9L1016,470.8ZM893,494.4L896.4,492.7L898.8,482.6L887.1,476.7L886.4,477.3L882.7,479.3ZM924.6,477.1L917.4,475.7L914.3,478.7L917.1,487.9L921.3,487.4ZM930.3,479.3L925,477L924.6,477.1L921.3,487.4L930.6,486.4L931,489L932.6,487.8ZM951.1,483.5L956.4,478.6L955.8,473.4L952.5,471.9L948.5,473.5L947.2,482.7ZM989.7,466.2L989.2,474.4L990.8,475.5L999.9,472.8L997.5,465.1L990.6,465.5ZM907.1,474.2L911.4,478.6L914.3,478.7L917.4,475.7L916.5,472.1L909.4,469.9ZM918.5,467.2L916.5,472.1L917.4,475.7L924.6,477.1L925,477L927,468.9L924.9,466.3ZM958.5,471.7L957.6,464.3L952.8,461.7L950.8,464.4L952.5,471.9L955.8,473.4ZM979,469.4L983.2,465.1L981.8,462.1L974.6,459.3L974.5,459.4L975.3,467.9ZM989.8,458.3L990.6,465.5L997.5,465.1L999,463.6L999.5,456.1L998.2,454.9L997.6,454.9ZM1030.7,452.4L1031.6,457.7L1038.1,458L1043.9,455L1043.9,455L1039,443.7L1037.8,441.9ZM901.3,474L901.2,467.2L895.7,469.5L892.4,472.2ZM909.4,469.9L916.5,472.1L918.5,467.2L914.8,463L913.7,462.2L907.9,462.4ZM925.5,459.1L914.8,463L918.5,467.2L924.9,466.3L925.8,459.6ZM957.6,464.3L965.3,462.4L962,454.5L962,454.5L959.2,454.3L953,459.1L952.8,461.7ZM999.5,456.1L1005.1,455.1L1008.2,452.9L1006,444.5L999.5,447L998.8,447.6L998.2,454.9ZM1015.9,454.6L1017.7,454.8L1024.3,448.8L1023.9,445.4L1016.7,443.2L1015.6,444.3ZM1027.5,440.8L1023.9,445.4L1024.3,448.8L1030.7,452.4L1037.8,441.9L1035.2,437.9ZM941.5,459.3L942.1,458L941.2,450.9L934.1,452.9L933.1,459.5L934.2,460.4ZM962,454.5L962,454.5L974.3,453.1L970.1,442.5L966.5,443.1ZM974.3,453.1L975.1,453.8L982.4,451.4L979.3,440.8L975.8,441.5L970.1,442.5ZM1006.2,444.1L1015.6,444.3L1016.7,443.2L1017.1,434.7L1016.8,433.8L1007.6,435.6L1005,436.1ZM917.8,455.6L923,453.5L923.9,449.9L922.8,450.1L912.1,451.7L911.8,452.4ZM923.5,530.8L922.9,523.5L916,522.9L909.7,526L912.6,528.3L918.4,531.4L921.6,534.5ZM922.9,523.5L923.5,530.8L932.6,530.3L935.4,524.2L925.1,520ZM954.3,528.9L959.5,527.2L961.1,525.3L961,520.2L954.1,515.4L948.6,519.2L951.8,527.7ZM935.4,524.2L938.2,523.1L939.8,520L931.3,513.9L927.1,514.3L925.1,517.3L925.1,520ZM906.3,514L904.3,507.3L902.6,506L885.7,503.4L884.9,504.8L895,509.2L903,520.6L903.2,520.8ZM915.7,513.1L925.1,517.3L927.1,514.3L925.5,504.7L919.5,503.5L918.4,504ZM945.6,510.4L937.4,502.3L936.7,509.1L943.3,517.4L943.4,517.4ZM910.7,495.4L908.8,493.4L904.4,496.8L902.6,506L904.3,507.3L912.6,502.8ZM918.4,504L919.5,503.5L919.1,495.4L910.7,495.4L912.6,502.8ZM944.7,499.7L946.4,492.7L938.3,493.8L938.9,500.9ZM909,488.7L902.7,489.3L896.2,492.7L904.4,496.8L908.8,493.4ZM900,606.4L898.4,597.5L896.5,596.9L892.7,600.7L893,609.1L898.3,608.7ZM901.9,596.6L898.4,597.5L900,606.4L905.8,603.1L905.8,599.8ZM922.1,595.2L919.3,602.4L919.4,602.5L923.4,602.7L928.2,599.7L927.4,594L924.7,593.6ZM937.3,600.7L939.8,600.5L941.1,600.4L941,600L940.2,591.7L932.5,591ZM913.2,583.4L912.5,583.2L908.6,591.1L911.8,595.1L913.2,595.5L914.7,594.4L917,589.9ZM872,592L868.2,587.5L866.1,587.5L864.1,589.7L863.8,596.9ZM899,583.1L893.6,581L891.7,584.3L891.2,590.5L894,591.6L900.5,587.9ZM881.9,577.5L878.7,580.1L880.3,583.7L883.3,585.2L885.7,583.4L886.6,578.3ZM901.8,574.8L902,580.3L907.9,582L909.4,581.7L905.5,573.3L905,573ZM920.1,575L922.4,580L928.1,580.1L928.9,579.5L927.2,571.8L923.8,570.6L921.2,572.4ZM933.8,579L935.9,577.2L934.8,570L933.4,569.1L927.2,571.8L928.9,579.5ZM860.7,582.2L862.4,573.1L857.9,570.7L858.6,582.5ZM866.3,573.8L867.3,578.3L872.3,581.5L876.1,579.2L874.2,572.3L869.5,571.5ZM889.8,576.9L889.5,572.2L882.2,571.2L881.9,577.5L886.6,578.3ZM890.1,571.4L889.5,572.2L889.8,576.9L893.2,579.7L898.6,574L895.4,569.2ZM938.8,568.4L941.6,562.4L940.4,561.9L938,558.6L931.3,563.4L933.4,569.1L934.8,570ZM862.4,573.1L866.3,573.8L869.5,571.5L868.4,564.1L862,564.5L857.9,570.5L857.9,570.6L857.9,570.7ZM868.4,564.1L869.5,571.5L874.2,572.3L874.8,571.8L875.9,564.5L869,563.4ZM915.1,558.8L917,564.1L923.9,563.8L926.1,561.2L925.5,557.9L916.6,557.3ZM869.3,558.8L869,563.4L875.9,564.5L878.8,562.7L876.1,556.7L872.6,556.4ZM908.1,562.9L910.9,558.4L908.5,554.3L905.5,553.3L901.6,559.3L903.2,561.9ZM925.5,557.9L926.4,554.5L923.6,550.9L920.9,549.6L916.7,553.4L916.6,557.3ZM856.8,557.8L860.3,559.7L865.6,556.5L864.8,553.7L859.4,550.8L858,553.2ZM906.4,545.3L905.1,552.8L905.5,553.3L908.5,554.3L912.3,551L913,546L906.7,545.1ZM859.4,550.8L858.8,545.9L857.4,545.1L849.5,546.3L851.1,551.8L858,553.2ZM898.3,536.7L895.3,540.5L897.6,545.2L899.1,545.5L900.8,544.6L901.4,539.1ZM919.2,546.5L925.2,538.1L923.1,536L915,537.5L914.2,538.5L914.4,545ZM875.6,535.1L874,535L873.4,536L872.5,542.9L879.1,542.2L881.3,540.4ZM895.3,540.5L898.3,536.7L897.8,533.2L890.8,532.6L889,540.3ZM898.9,532L897.8,533.2L898.3,536.7L901.4,539.1L906.8,538.4L905.8,530.5L904.7,529.2ZM905.8,530.5L912.9,532.2L915,529.6L912.6,528.3L906.9,523.7L905.2,525.8L904.7,529.2ZM864.4,520.1L861.7,522.3L864,527.9L866.8,528.9L868.4,528.4L867.5,522.1ZM849.4,522.3L849.4,519.6L847.8,516.5L841.1,516.2L841.2,516.4L843.8,525.9ZM849.4,519.6L849.4,522.3L853.8,524.2L858.6,521.4L857.9,515.3L856.5,514.2ZM858.6,521.4L861.7,522.3L864.4,520.1L866.1,515.9L862.7,514.3L857.9,515.3ZM847.8,516.5L848.3,511L847.7,510.2L843.5,509.8L839.9,511.9L841.1,516.2ZM857.9,515.3L862.7,514.3L862.5,508.9L857.9,506.2L855.5,511.4L856.5,514.2ZM881.8,504.7L879,504.3L878.6,504.8L877.1,511.4L877.8,512.2L882.6,514.2L883.1,513.4ZM856.9,500.8L850.7,501.6L849.9,501.7L847.7,510.2L848.3,511L855.5,511.4L857.9,506.2ZM857.9,506.2L862.5,508.9L868.3,507.7L863.9,500L856.9,500.8ZM868.3,507.7L868.9,508L870.4,506.7L871.5,499L863.9,500L863.9,500ZM870.4,506.7L878.6,504.8L879,504.3L876.5,498.3L871.5,499ZM964.3,703.3L973.3,701.5L973.5,692.8L971.2,691.3L962.4,694ZM949.1,676.7L946.8,675.9L940.4,679.5L941,686.7L949.9,687.1L951.3,686.1ZM982.2,680.3L978,672L977.3,670.5L966.5,671.9L965.5,672.9L968.6,681.7L971.6,683.3ZM926.7,666.6L927.8,679L935.3,676.5L936.5,668.1L933.4,665.7ZM935.3,676.5L940.4,679.5L946.8,675.9L944.5,666L936.5,668.1ZM958.4,673.9L965.5,672.9L966.5,671.9L965.6,662.2L958.5,660.3L954.6,666L958.1,673.7ZM926.7,666.6L933.4,665.7L934.6,652.2L925.1,649.4L920.2,653L922,662L921.8,664ZM957.2,654.3L956.7,655.3L958.5,660.3L965.6,662.2L970.7,657.5L966.1,650.2ZM920.5,635.7L918.8,627.9L908.9,628.5L910.2,638.3ZM898.5,629.9L906.5,626.9L907.7,618.8L905.8,617.2L896.7,618.2L896.5,618.6ZM928.5,614.3L929.8,624.3L937.4,623L938.1,615.7ZM850.8,627.9L850.5,627.2L844.2,612.2L836.7,615.8L838,624.5L844,626L850,629ZM916.3,616.8L914.2,607.5L912.4,607.7L904.7,608.3L905.8,617.2L907.7,618.8ZM916.3,616.8L918,617.7L926.9,612.9L927,610.1L924.1,606.7L914.2,607.5ZM939.5,614.4L934.5,600.9L927.8,601.5L928.1,611.3L927,610.1L926.9,612.9L928.5,614.3L938.1,615.7ZM945.8,613.7L944,610L941.1,600.4L939.8,600.5L934.5,600.9L939.5,614.4ZM817.2,616.8L825,616.3L825.8,615.3L825.5,607.7L816.5,608.5L814,608.8ZM836.7,615.8L844.2,612.2L848.3,605.3L839.2,606.3L834.5,606.7L835.4,615.2ZM797.5,616.6L795.5,618.7L795.6,626.1L796,626L799,620L801,627L808,627L808.8,626.5L810.1,619.3ZM804.1,605.8L796.2,610L797.5,616.6L810.1,619.3L810.4,618.1L805.2,609.6L808.3,609.3ZM793.6,598.8L795.5,609.5L796.2,610L804.1,605.8L804.3,599.5L794.3,597.9ZM804.1,605.8L808.3,609.3L816.4,608.5L814.1,598L806.2,597.7L804.3,599.5ZM806.2,597.7L814.1,598L815.5,596.4L815.2,587L804.4,587.3L804,587.8ZM817,584.9L815.2,587L815.5,596.4L824.7,596.4L825,596L824.7,585ZM804.4,587.3L815.2,587L817,584.9L813.5,575.4L804.1,577.9L804,578ZM834.2,574L834.8,582.2L845,580.8L845.2,571.5L845.1,571.3ZM812.3,565.4L814.7,573L823.3,572.4L825.7,570.7L824.8,562.5L822.1,560.7L812.3,565.3ZM802.3,564.9L803.3,564.1L802.5,556.5L800.5,554.9L791.8,555.1L791.6,555.5L793.4,566.9ZM812.3,565.4L812.3,565.3L812.3,552.2L811.4,551.4L802.5,556.5L803.3,564.1ZM822.1,560.7L824.8,562.5L832.4,560.2L832.6,552.3L831.2,550.7L822.2,552.3L821.1,553.5ZM800.2,545.2L798,543.8L790.9,545.9L790.1,546.9L791.8,555.1L800.5,554.9ZM821.1,553.5L822.2,552.3L820.8,541.3L819.9,540.8L810.7,543.3L809.9,544.6L811.4,551.4L812.3,552.2ZM831.8,541.3L830.3,540.2L820.8,541.3L822.2,552.3L831.2,550.7ZM787.2,532L790.9,545.9L798,543.8L798.6,535L798.4,534.8ZM808,534.7L810.7,543.3L819.9,540.8L818.7,530.2L809.3,532.4ZM840.7,539.9L846,533.8L844.9,529.8L844.4,528L829.6,529L829.1,529.6L830.3,540.2L831.8,541.3ZM798.6,535L808,534.7L809.3,532.4L805.9,523.5L800.7,523.1L798.4,534.8ZM828.7,520.1L818.7,520.2L817.3,521.7L818.8,530.1L829.1,529.6L829.6,529ZM805.9,523.5L809.9,520.4L808.4,509.4L798.5,514.3L798.5,521.5L800.7,523.1ZM826.3,508L828.8,520L841.2,516.5L841.2,516.4L839.9,512ZM797.5,513.4L798.5,514.3L808.4,509.4L810.3,505.7L805.2,506.2L796.3,507ZM702.6,652.2L712,653L715.9,648.1L714.7,646.9L705.7,647.3ZM722.9,646.7L716.1,648.2L720,654L724,654L724.9,654.9ZM732.8,646.8L733.4,653.5L734.8,654.8L741.2,655L742,654.1L743.4,645.7L742,644.7ZM760.1,643.7L751.5,643.8L750.9,644.5L752.7,652.5L759.1,653.8L760,652L760.5,652.5ZM684.6,640.2L677.5,639.7L676.8,640.3L675.6,649.3L686,648L686.2,648.1ZM695.2,639.3L685.2,639.6L684.6,640.2L686.2,648.1L694.7,650.5L695.5,639.7ZM732.6,646.5L732.8,646.8L742,644.7L740.1,637.7L733,637.2ZM740.1,637.7L742,644.7L743.4,645.7L750.9,644.5L751.5,643.8L750.9,637L742.3,635.3ZM751.5,643.8L760.1,643.7L761.2,642.9L761.1,642.3L760,640L761,640.4L760.7,635.3L751.5,636.2L750.9,637ZM761.6,633.9L760.7,635.3L761,640.4L768,643L772,640L764,634L764.2,633.9ZM676.8,640.3L677.5,639.7L677,631L672.3,626.7L672.2,627.3L671.3,635L670.8,639.4ZM686,631.3L685.2,639.6L695.2,639.3L694.4,631.1ZM723.6,637.8L723.3,629L721.3,627.6L712.9,629.8L714.1,637.8L723.1,638.4ZM732.7,629L731.1,627.2L723.3,629L723.6,637.8L732.7,636.8ZM733,637.2L740.1,637.7L742.3,635.3L741.9,628.8L741.8,628.7L732.7,629L732.7,636.8ZM750.9,637L751.5,636.2L751.6,628.3L750.2,627.1L741.9,628.8L742.3,635.3ZM760.7,635.3L761.6,633.9L759.4,627.5L751.6,628.3L751.5,636.2ZM759.9,626.7L759.4,627.5L761.6,633.9L764.2,633.9L772,630L773.9,629.7L773.9,629.4L767.7,624ZM677,631L685,630.4L685.4,622L684.4,621.2L673.3,621.8L672.3,626.7ZM693.4,621.6L685.4,622L685,630.4L686,631.3L694.4,631.1L694.6,631ZM741.8,628.7L741.9,628.8L750.2,627.1L750,619.5L740.1,618.4ZM767,616.5L757.8,616.8L757.3,617.4L759.9,626.7L767.7,624L767.1,616.6ZM767.1,616.6L767.7,624L773.9,629.4L776.2,626.3L777,617.1ZM777.8,616.3L777,617.1L776.2,626.3L788.5,622.7L787.6,615.6ZM675.1,612L673.3,621.8L684.4,621.2L684.9,611.4L684.6,611ZM684.6,611L685.8,604.2L684.9,603L677.5,601.4L671.9,607L675.1,611.9L675.1,612ZM721.9,602.4L712.8,602.5L713.4,610.9L722,611.8L723.2,610.6ZM731.8,608.7L731.3,601L729.6,599.5L722.3,602L721.9,602.4L723.2,610.6L729.3,610.7ZM756.9,609.7L759.2,607.3L758.5,599.8L757.3,599L749.9,600.1L748.9,601.3L750.1,608.2ZM686.2,595.8L684.9,603L685.8,604.2L694.2,603.5L693.3,593.9ZM702.7,601L704.8,602.6L711.8,601.5L712.9,593.2L702,592.8L701.6,593.2ZM729.7,592.4L719.9,593.3L722.3,602L729.6,599.5ZM739.9,600L739.6,593.2L738.2,591.8L729.8,592.3L729.7,592.4L729.6,599.5L731.3,601ZM748.9,601.3L749.9,600.1L747.9,591.4L739.6,593.2L739.9,600L741.1,601.4ZM747.9,591.4L749.9,600.1L757.3,599L756.6,590.8L756.3,590.5L748.2,590.8ZM756.6,590.8L757.3,599L758.5,599.8L765.9,597.9L765.5,590ZM675.6,595.1L675.6,586.5L663.9,587.5L664,591.5L665.8,595.7ZM685.8,584.8L683.5,586.6L683.7,593.2L686.2,595.8L693.3,593.9L693.5,593.6L691.3,585.6ZM712.9,593.2L712.9,593.2L711.9,583.7L711.9,583.6L702.6,584.6L702.4,584.9L702,592.8ZM712.9,593.2L719.7,593.1L721.7,583.4L721.5,583.3L711.9,583.7ZM747.9,591.4L748.2,590.8L747.2,582.8L747.1,582.7L739,583.1L738.2,591.8L739.6,593.2ZM748.2,590.8L756.3,590.5L756.6,582.3L755.7,581.5L747.2,582.8ZM675.6,586.5L676.3,585.8L675.3,577.7L673.9,576.5L663.7,578.1L663.7,578.4L663.9,587.5ZM702.4,584.9L702.6,584.6L700.9,575.6L700.6,575.3L694.3,575.9L692.5,584.7ZM702.6,584.6L711.9,583.6L711.6,576.1L700.9,575.6ZM747.1,582.7L747.2,582.8L755.7,581.5L756.6,573.7L755.1,572.5L746.6,572.7L746.5,572.8ZM766.7,581.1L762.9,572.2L756.6,573.7L755.7,581.5L756.6,582.3L765.2,583.2ZM673.9,576.5L675.4,565.1L663.5,565.3L663.7,578.1ZM684.5,576.1L692.8,574.9L691.4,564.7L688,564.8L682.5,565ZM711.6,576.1L712.4,574.9L708.1,564.2L702.7,564.4L700.6,575.3L700.9,575.6ZM764.6,564.6L764.1,570.6L774,572.8L775.7,570.4L773.3,563.9L771.8,563ZM772.8,552.9L771.3,545.8L770.2,544.7L762.2,545.8L761.8,554L762.7,554.9L772.1,553.6ZM736,547.2L736.5,546.6L735.3,538.2L727.3,537.7L725.2,545.5L725.2,547.5ZM752.1,537.5L744.3,537.8L744,546.5L744.9,547.3L752.8,545.9L752.9,545.7ZM761.7,545.4L760.7,536.6L752.7,536.8L752.1,537.5L752.9,545.7ZM762.2,545.8L770.2,544.7L770.4,536.4L762.5,535L760.7,536.6L761.7,545.4ZM761.7,528.1L762.5,535L770.4,536.4L771.8,535.3L770.6,525.7L770.2,525.4ZM736.7,528.6L744,527.9L745,527.1L744,519.8L743.1,518.9L735.5,519L735.4,519.1L732.5,525ZM752.5,527.4L754,519L752.6,518.1L744,519.8L745,527.1L751.8,528ZM744.4,510.8L740.1,511.1L735.5,519L743.1,518.9ZM575.1,721.7L574.9,731.7L586.3,732.6L590.1,729.3L589,724L589.5,719.4ZM561.7,721.7L574.6,721.1L573.2,709.7L562.5,710.1L560.4,719.9ZM562.1,709.5L562.4,697L562.1,696.7L550.2,698.6L550.7,707.4ZM537.1,697.2L536.7,685.7L527.4,684.7L529,688L536.4,697.8ZM538.4,673.8L538,673.5L526.6,673L523.1,676.3L524,678L527.4,684.7L536.7,685.7L539.1,682.9ZM538,673.5L538.4,673.8L550.2,672.4L550.9,661.8L538.8,661.1ZM492.4,633.9L486,627.4L480.4,630.2L481.1,643.4L482,643L492,645L493.2,645.2ZM515,637.2L505.5,634.9L504.9,635.4L502.2,647.2L509.3,654.3L515.1,648.3L515,637.2ZM526.5,648.6L527.2,649.3L539,648.5L539,638.6L529.2,636L527.4,637.8ZM586.5,640.1L587.2,650.9L598.6,650.4L599.9,639L599.5,638.6L588.1,638.7ZM623.8,639.7L623.6,650.5L624.1,650.9L634.9,652.1L636.1,639.9L635.6,639.4L624,639.4ZM635.7,652.9L646.4,650.8L646.3,640.4L636.1,639.9L634.9,652.1ZM659.5,639.7L659.2,640.1L660.8,652.8L669.5,650.2L671,637.8ZM446.7,620L444.5,632.3L444.9,632.6L456.2,633.4L456.5,633.1L455.9,620.9ZM529.2,636L528.3,626.5L518.3,626.5L515,637.2L515,637.2L527.4,637.8ZM541.6,626.4L541.2,636.9L552.4,638.3L553,637.8L552.5,627.3L551,625.5ZM623.7,629.3L612.1,627.7L610.9,639.4L623.8,639.7L624,639.4ZM554.6,614.2L552.6,615.7L551,625.5L552.5,627.3L564.6,626.1L562.1,615.6ZM623.8,616.9L625.8,626.9L635.5,627L636.8,616.3L634.8,614.6L624.5,616ZM648.1,617.4L647.9,627.2L658.4,629L659.6,627.8L659.5,615ZM423.5,605.9L424.6,595.5L423.6,594.3L413.1,592.6L405,597.2L414,608L417.2,610.6ZM446.6,596.4L436,595.4L435.3,607.9L445.6,607.6ZM446.2,608.3L458.5,608.8L459.7,598.4L447.3,595.9L446.6,596.4L445.6,607.6ZM505.8,613.8L517.1,613.9L517.8,602.6L508.6,601.7L504.6,612.6ZM588.3,602.8L587.7,602.3L578.3,603.9L577.4,614.5L588.8,615.6L589.1,615.3ZM447.3,595.9L459.7,598.4L460.8,597.5L460.6,585.6L458.7,585.5L448.5,584.7ZM460.8,597.5L469.3,597.9L473.4,587.5L469.9,583.5L469.7,586.3L460.6,585.6ZM658.5,593.2L658,603.4L669.1,602.8L668.4,601.7L664.5,592.7L658.7,593ZM493.8,576.6L484.6,576.1L482.5,588.2L494.6,589.4L495.9,588.2ZM554.5,578.7L553.3,579.5L554.1,591L555.6,592.7L563.9,591.4L565.2,580.8ZM495.9,574.9L496.1,565.6L485.3,562.9L483.9,564.1L484.4,575.9L484.6,576.1L493.8,576.6ZM520.3,575.8L519.5,567.6L518.4,566.4L509,566.3L506,576.1L506.9,577.5L518.2,578.3ZM566.8,579.7L576.3,580.5L576.7,568L565.8,568.1ZM598.5,569.4L588.7,569.5L587.4,578.9L589.3,580.6L598.5,581.2L600.6,578.9ZM601.2,566.2L598.5,569.4L600.6,578.9L610.1,578.8L611.9,568.9L611.7,568.5ZM658.9,569L658.6,580.6L659.2,581.1L663.8,581L663.7,578.4L663.5,568.8ZM543.3,566.1L542.2,556.1L530.5,555.2L530.8,565.8L532.7,567.6L542.2,567.4ZM588.5,569.2L588.8,557.7L577.4,557.7L577,567.7ZM611.7,568.5L611.9,568.9L622.3,569.7L625.2,566.7L623.4,556.4L623,556.1L613.6,556.9ZM625.2,566.7L634.5,568.4L635.3,567.7L637.2,556.5L635.3,555.1L623.4,556.4ZM663.5,568.8L663.5,565.3L663.2,553L659.2,556.3L657.5,568L658.9,569ZM555.2,544.3L545.1,542.7L542.7,544.7L542.6,555.6L554.3,554.5ZM623,556.1L623.4,556.4L635.3,555.1L634.3,543.1L631.2,542.2L626.9,543L623.4,543.9ZM520.6,542.3L531.1,542.4L532.6,531.8L521,529.6L520.6,529.9L519.5,541.4ZM556,543.8L555.9,532.9L554.6,530.8L550.4,529.6L547.7,528.4L543.5,532.9L545.1,542.7L555.2,544.3ZM579.1,545.2L583.7,541.7L580.5,543.1L578.5,540L577.5,536.6L572.3,536L569.1,538L567.8,536.5L566,544L566,544ZM475.4,516.4L474.9,522.1L474.6,526.5L487.6,529.1L488.5,528.3L487.3,516.1ZM534.4,519L533,531.5L543.5,532.9L547.7,528.4L547.3,528.2L544.1,529.1L541.1,525.9L538.1,524.2L538.4,514.9ZM487.3,516.1L488.4,515.3L490.1,506.7L488.5,504.6L476.5,502.6L476,509.3L475.4,516.4ZM490.5,493.6L488.5,504.6L490.1,506.7L500.3,505.4L500.3,505.3L500.5,494.8L491,493.3ZM500.9,480.5L491.9,481.2L491,493.3L500.5,494.8L502.7,493.1L501.1,480.7ZM512.8,481.9L513.7,483L523.2,483.8L524,483.1L523.5,473.4L519.8,473.2L513.9,472.9ZM392.7,564.1L373.4,562.7L348.1,591L356.4,592.1L357.9,580.7L393.8,583.9L392.7,579.2L403.7,580.4L404,580.4ZM445.3,580L444.7,584.3L447.7,584.6L458.7,585.5L469.7,586.3L470.8,573.5L471.3,566.6ZM416.4,576.6L420.8,540.1L420,538L414.8,537.7L403.9,542.3L392.7,564.1L404,580.4L412.4,581.3ZM449.6,532L453.6,555.6L471.5,564L471.8,560.7L472.9,547.8L473.9,535L474,533.9ZM424,534L445.7,529.2L451.4,511.4L445.6,503.8L425.2,503.9L424.8,504.2ZM424.8,504.2L425.2,503.9L427.5,483.3L405.2,481.6L405.4,500.8ZM450,486.2L450.1,486.4L477.4,491.7L478.1,483.5L479.1,470.7L480.1,457.8L469.9,457L459.7,456.2L458.1,456ZM383.9,466.9L384.5,448.3L378.5,447.6L368.4,446.2L358.3,444.9L356.4,458.1L354.6,471.3L353.7,477.6ZM379.8,493.9L389.4,475.9L383.9,466.9L353.7,477.6L353,483.2ZM418.6,452.2L408.9,451.2L398.8,450L388.6,448.8L384.5,448.3L383.9,466.9L389.4,475.9L403.1,478.6ZM449.6,532L445.7,529.2L424,534L420,538L420.8,540.1L439.6,558.2L453.6,555.6ZM246.7,552.4L250.5,525.5L240.2,500L235.2,504.1L231.6,513.9L226.9,516.9L225.5,525.8L228.7,531.7L223.5,534.1L220.4,539.5L230.8,545.9L241.3,552.3L245,554.5ZM329,519.8L304.7,554.7L305.9,559.3L342.2,561.1L343.7,550.3L345.5,537.1L347.3,524L347.7,521.1ZM271.2,458.2L255.7,442.6L254.5,448.7L239.9,448.5L238.4,462.6L236.8,476.8L237,482.1L238,495L238.2,495.1L267.8,487L272.8,481.4ZM289.6,454.5L312.9,468.4L323.9,439.8L318.2,438.9L308.2,437.3L299.6,435.8ZM212.9,533L223.5,534.1L228.7,531.7L225.5,525.8L226.6,519.1L222.9,519.2ZM177.8,508.9L184.4,492.2L159,487.9L152.6,490.5L152.7,491.6L158.7,493.6L165.4,502.3L171.2,510.3L171.2,512.8ZM164.9,459.9L173.7,467.6L185.5,470L203.2,445.9L195.1,442.9L166.2,454.2ZM99.3,406L98.9,409.4L106.4,428.4L107.4,429.9L107.7,429.7L115.5,406.6ZM115.6,406.5L115.5,406.6L107.7,429.7L127,429.4L131.5,408.1L128.9,404.6ZM115.5,406.6L115.6,406.5L106.3,386.9L105.6,386.8L98.4,389.1L100.4,392.4L104.3,397.5L100,401.7L99.3,406ZM115.6,406.5L128.9,404.6L132.5,393.7L127.8,386.6L114.1,382.3L106.3,386.9ZM131.5,408.1L143.5,413.3L151,396L136,392.5L132.5,393.7L128.9,404.6ZM105.6,386.8L99.4,369.6L97.4,368.5L97.7,368.8L95.6,376.2L95.4,384.2L98.4,389.1ZM114.1,382.3L115.8,367.1L99.4,369.6L105.6,386.8L106.3,386.9ZM132.4,357.4L123.2,351.5L113.8,355.1L116.5,366L130.2,367.7ZM146.3,379.1L163.5,388L171.7,380.9L169.4,377.1L161.5,364.5L161,363.8L147.2,367.3L144.2,370.8ZM108.5,346.5L108.7,336.1L100.5,332.6L94.7,334.7L88.6,346.6L91.2,352.4ZM97.9,322.8L106,310.5L85,312.8L85.2,316.6ZM118.8,324.7L107.6,309.1L106,310.5L97.9,322.8L100.5,332.6L108.7,336.1L113.4,333.3ZM152.5,326.9L161.1,322.5L140.3,304.9L135.2,304.7L133.2,305.9L130.4,321.2L136.5,326.7ZM97.9,298.2L101.2,290.5L97.2,281.1L91.3,277.8L89,284L81.3,292.7L82.8,298.9ZM171.2,284.5L173.1,276.9L163.5,274.4L153.9,271.8L153.5,271.7L143.5,283.4L153.7,293.5ZM161.1,322.5L161.4,322.4L163.5,314.4L164.1,312L152.7,297L140.3,304.9ZM114.5,449.9L114.2,451.1L114.9,463.2L129.3,467.7L130.9,448.1ZM149.6,459.9L153,461.8L164.9,459.9L166.2,454.2L165.3,436.7L145.9,435.1L140,439.6L139.5,441.7ZM114.2,236L116.7,218.7L110.5,213.7L107.3,220.9L96.7,232.7L96.7,233.9ZM157.5,247.1L157,231.3L138.4,230.1L132.3,240.7L135.7,247.7ZM116.7,218.7L125.5,217.3L125.9,196.8L118.8,192.1L113.6,206.7L110.5,213.7ZM163.4,212.6L163.3,212.6L151.6,207L143.4,207.1L133.7,218.8L138.4,230.1L157,231.3L163.5,224ZM139.6,178.3L141.5,170.8L130.1,161.7L127.4,170.7L123,181.1ZM238.8,206.2L245.5,220.8L246.9,219.3L256.7,204.4L253.2,192.6ZM135.7,247.7L132.3,240.7L116.4,239.6L109.2,259.1L115.6,261L125.2,263.8L133.1,266.1ZM190.6,308.6L194.8,282.3L184,279.7L173.1,276.9L169.9,289.4L166.7,301.9L165.2,307.8L179.8,312.3ZM190.6,308.6L212.7,316.3L214,315.3L213.2,286.7L205.8,285L194.9,282.4L194.8,282.3ZM234.5,313.5L247.7,342.2L275.3,341L275.6,339.6L278.1,326.9L280.5,314.2L283,301.6L271.9,299.4L260.8,297.2L250.1,294.9ZM208.6,361L196,404.9L233.2,404.8L238.7,380L225.3,359.9L213.1,357.8ZM260.2,419.1L258.4,428.4L268.3,430.3L278.3,432.1L288.3,433.9L289.1,434L279.2,420.7ZM279.2,420.7L279.9,405.1L279,403.4L263.9,400L263.3,403L260.9,415.7L260.2,419.1ZM302.4,403.5L279.9,405.1L279.2,420.7L289.1,434L291.1,434.4ZM279,403.4L282.5,390L277.4,383.5L267.6,380.8L265.8,390.3L263.9,400ZM320.7,386.3L302,384.3L300.2,387.4L302.8,403.2L317,407.5L322.4,403.7L324.3,397ZM324.3,397L322.4,403.7L342.7,413.7L350.7,408.5L343.2,391.6ZM329.3,350.4L314.3,340.5L305.6,356.3L307.1,363.5L330.2,371.6L330.3,371.6ZM300.2,387.4L302,384.3L300.8,374.7L286.2,371L277.4,383.5L282.5,390ZM365.9,289.5L341.7,291.6L341.1,295.6L339.2,307.4L357.8,315.7L362.4,313.3L366.3,289.8ZM388.5,287.3L391.7,271.7L366.2,262.6L361.8,267.6L365.9,289.5L366.3,289.8L383.6,290.5ZM412.9,293.6L419.4,273.2L416.4,270.7L395.8,267.6L391.7,271.7L388.5,287.3L408,296.2ZM434.2,303L437.8,298.9L433.9,272L419.4,273.2L412.9,293.6ZM486.8,445.9L484.1,458L499.5,459.1L500.2,447.6ZM468.2,443.1L486.2,444.7L486.3,443.9L479.7,429.3L473.2,428.1L463.2,435.4ZM443,411.7L446.6,415.5L455.3,414.6L459,411.4L461.7,400.8L459.8,398.6L448.4,395.1ZM376.8,373L381.2,362.1L371.5,349.1L370.6,355.3L368.9,368.1L367.6,377.6ZM461.2,382L463.5,380.7L464.6,367L461.8,365.1L451,366.2L448.7,379.7ZM382,405.5L388.7,392.1L387.3,390.5L365.8,390.3L365.3,393.7L363.7,405.5ZM566.4,296.5L566.1,296.3L555.1,297L552.9,306.7L556.4,306.9L565.7,307.2L566,307.2ZM489,291.4L489.6,292.2L501.5,292.8L501.7,292.6L502.3,281.5L490.1,279.2ZM503.2,280.7L515.8,280.9L516.6,280.2L516,267.7L503.4,267.3ZM543.4,256.1L540.8,269.4L541.8,270.8L553.5,270.7L554.8,269.2L553.8,257.5L543.5,256ZM505.6,241.1L505.2,240.6L494.5,240.1L492,242L490.8,251.9L492.4,253.6L505,252.5ZM619.5,374.3L619.2,374.6L619.7,385.4L625,385.4L635.1,385.4L628.4,375.1L627.5,373ZM480.6,345.9L480.6,345.8L468.3,344.6L467.6,353.1L477.2,353.9L480.2,354.1ZM534,349.4L533.8,349.6L534,359.6L543.6,359.9L545.2,351L543.3,348.7ZM565.3,361.3L565.9,362.1L577.4,362L576.4,351.3L576.2,351.1L565.7,350.9L565.6,350.9ZM524.4,337.9L513.9,337.7L513.4,338.1L513.7,348L522.8,348.8L524.8,338.4ZM597.3,350.9L598.7,352.2L608.8,351.7L609.1,341.4L608.7,341L598.6,340.1L597.9,340.7ZM513.9,337.7L514.4,322.8L511.9,320.3L503.4,327.1L502.5,337.3L513.4,338.1ZM482.1,314.7L471,312.7L470.9,314.5L470.1,324.2L482.3,324L482.5,323.8ZM535.4,328.6L545.4,328L545.9,327.4L546,317.4L533.3,317.2L530.7,323.9ZM608.6,329.3L609.3,329.8L615.4,329.6L615.1,328.7L613.2,321.2L610.4,320.9L608,318.5ZM555.8,317.7L557,318.8L566.8,318.8L567.6,317.9L566.9,307.2L565.7,307.2L557.5,306.9ZM636.6,364.9L624.5,364.8L624.6,366.1L626.4,370.5L635.8,370.3L636.5,370.3ZM673.6,354.9L673.5,354.9L673.4,363.9L673.4,363.9L683.4,363.7L682.6,354.6ZM692.3,354L691.7,344.8L682.5,345.2L682.9,354.4ZM710.3,344.3L710.9,352.9L715.6,353.1L715.2,352L717.8,346L720.4,344.3L719.3,343.3ZM627.3,346.1L635.8,345.9L636.4,337.3L636.4,337.2L626.9,336.9ZM645.6,346.1L645.7,346.3L654.4,346L654.6,345.8L654.7,337L645.2,336.9L645,337.1ZM690.8,335.3L682.5,336.2L682.5,345.2L682.5,345.2L691.7,344.8L691.7,344.7L691.3,335.8ZM700.1,335.1L691.3,335.8L691.7,344.7L700.3,344.2L700.6,335.6ZM700.3,344.2L701.3,345.1L710,344L709.2,335.2L700.6,335.6ZM718.5,334.4L719.3,343.3L720.4,344.3L731.6,336.9L731.3,333.2ZM635.7,327.5L627.4,328L626.7,336.6L626.9,336.9L636.4,337.2L636,327.8ZM709.2,335.2L709.5,334.9L708.8,325.9L708.6,325.7L699.8,326.2L699.8,326.2L700.1,335.1L700.6,335.6ZM718,325.2L717.9,325.1L708.8,325.9L709.5,334.9L718.5,334.4ZM627,327.6L626.9,318.3L626.6,318L617.9,318.4L613.7,323L614.7,327.1ZM636.2,318.2L635.9,318.6L635.7,327.5L636,327.8L645.3,327.6L645.4,327.5L645,318.5L644.6,318.1ZM654,318L654.8,318.8L663.4,318L663.6,317.8L662.9,309.2L653.9,309.1ZM681.1,317.4L681.1,308.4L672.3,308.4L672.4,317.7L681.1,317.4ZM636.6,308.5L635.8,299.7L631.4,295.7L627.6,299.6L627.1,309.3L635.5,309.6ZM645.2,299.5L635.8,299.7L636.6,308.5L645.1,308.9L645.2,308.9ZM663.3,308.8L672,308.1L672.1,299.3L663.1,299.3L662.6,299.9ZM707.4,297.9L708.4,307L712.4,310.2L712.7,303.1L710.4,294.5ZM617.8,300L618.2,300.4L627.6,299.6L631.4,295.7L631.4,295.2L623,295.2L618,295.2ZM559.2,449.3L559,449.1L548.6,449L548,461.6L553,461.8L559.7,462ZM548.7,438.7L548.6,449L548.6,449L559,449.1L559.8,439.1L559,438.2L549.3,438.2ZM559.9,428.6L559,438.2L559.8,439.1L570.3,439.2L570.7,438.8L570.3,428.9L560.3,428.3ZM518.3,426.4L527.9,427L528.4,426.5L528.6,416.9L518.9,415.8ZM529.8,415.8L528.6,416.9L528.4,426.5L538.9,426.9L539.2,416.9ZM539.2,416.9L538.9,426.9L539.4,427.5L548.7,427.9L549.5,427.2L550.3,417.9L549.1,416.5L539.6,416.6ZM560.7,417.7L570.3,417.6L570.9,407L560,407ZM623.1,397.3L622.5,407.9L632.8,407.7L632.5,397.2L632.4,397.2ZM632.4,397.2L632.5,397.2L641.1,397.8L643.1,390.5L635.1,385.4L633.6,385.4ZM745.8,475.2L745.8,475.2L743.1,485.2L750.2,484.6L753.5,477.9L753.7,476ZM659.6,469.1L649.7,470.2L649.8,475.7L660.2,475.5ZM668.4,469.6L669.8,475.3L672.6,475.2L678.6,475.1L679.3,468.6L678.3,467.5L670.2,467.7ZM688.8,459.4L688.3,467.2L698,468.8L699.2,467.3L696.6,458.7ZM724.2,455.9L716.9,457.5L716.3,458.2L715.7,465.6L716.8,467L726.1,467.1L727,466.1L725.4,457.1ZM660,450.8L659.5,451.2L659.9,459.6L660.1,459.8L669,459.2L669.9,458.4L670.2,450.2L669.9,450ZM688.1,450.9L688.4,458.9L688.8,459.4L696.6,458.7L697.6,457.5L696.5,448.9L696.3,448.8ZM716.3,458.2L716.9,457.5L713.4,448.4L706.9,449.7L705.9,456.9L706.2,457.3ZM733.8,447.7L732.9,447L725.2,449L724.2,455.9L725.4,457.1L736.2,456.4ZM753,455.7L754.9,453L752.6,450.7L752.3,445.9L743.6,445.9L743.3,456.5L743.5,456.6ZM661.1,442L660,450.8L669.9,450L668,441ZM669.9,450L670.2,450.2L676.5,449.2L678.1,440.3L668,441L668,441ZM678.8,451L686.1,449.2L686.1,440.7L678.9,439.6L678.1,440.3L676.5,449.2ZM694.2,440.1L696.3,448.8L696.5,448.9L704.6,447.6L704.6,439.2L694.7,439.7ZM658.7,431.4L649.4,431.7L649.4,435.4L649.5,442.1L659.7,440.9L659.2,431.8ZM669.4,431.3L668.4,422.1L660.5,422.6L658.7,431.4L659.2,431.8L667.9,432.6ZM685.5,429.1L686.6,421.7L678.7,420.4L677,422.1L678.5,430.3ZM695.3,420.9L687.7,420.9L686.6,421.7L685.5,429.1L687.3,430.7L696.4,429.2L699.2,426.4ZM694.8,410.8L685.7,411.5L687.7,420.9L695.3,420.9L696.9,413.4ZM685.2,411.2L685.4,402.6L676.5,402.8L678.5,412.5ZM704.2,401.6L706,412L709.6,414.3L714.3,409.8L713.1,400.9L712.8,400.7ZM721.8,399.9L721.8,409.5L722.7,410.2L729.7,409.9L725.8,403.2L722.1,399.5ZM650.4,394.3L651.4,402.7L656.9,403.6L659.1,402L660.5,394.2L659,392.7ZM659.1,402L668.2,404.5L667.5,393.9L660.5,394.2ZM694.3,391.6L693.5,392.6L695.1,402.4L695.3,402.6L703.9,401.3L703.6,392.8ZM659,392.7L660.5,394.2L667.5,393.9L668.3,393.2L668.7,385L667.1,383.7L658.8,384.8L658.4,385.2ZM668.3,393.2L676.1,394.7L677.5,393.6L678.1,385.3L675.4,383.6L668.7,385ZM704.6,383.6L704.2,392.2L712.5,392.4L714.4,390.5L709.1,383.4L709.1,383.3ZM702.3,376.2L703.1,382.3L704.6,383.6L709.1,383.3L710.2,373.5L706.6,370.3ZM631.9,376L639.4,377.6L642,374.7L640.9,370.2L635.8,370.3L632.7,370.4ZM642,374.7L649.2,375.6L649.2,370L645.6,370.1L640.9,370.2ZM649.2,375.6L649.7,376L658.1,374.4L658.4,369.8L655.3,369.9L649.2,370ZM621.9,540.8L610.2,539.8L605.6,543.9L609,544.8L613.2,546.4L618.5,544.6L622.7,544.1L624.4,543.6ZM576.9,536.5L577.5,536.6L578.5,540L580.5,543.1L585.9,540.7L587.1,541.7L588.9,539.6L587,528.2L578.1,528.9L577.4,529.5ZM610.2,539.8L621.9,540.8L622.2,529L611.7,530ZM578.1,528.9L576.5,517.5L566.8,517.8L565.1,528L577.4,529.5ZM633.3,529.2L633.6,529.6L645.6,529.5L645.5,518L644.2,516.8L634.7,518.4ZM577.6,516.3L577.2,506.4L576.8,506L566.5,506.6L565.9,516.7L566.8,517.8L576.5,517.5ZM577.6,516.3L588.1,517.2L588.9,516.4L587.3,505.5L586.9,505.1L577.2,506.4ZM598.9,515.6L599.9,506.2L587.3,505.5L588.9,516.4ZM611.1,506.6L609.6,505.4L600,506L599.9,506.2L598.9,515.6L600.1,517L609.7,518.6L610.7,517.8ZM634.7,518.4L644.2,516.8L644.6,507.3L643.6,506.3L632.9,506.6L632.8,516.6ZM600,506L598.4,494.9L588.4,494.5L586.9,505.1L587.3,505.5L599.9,506.2ZM599.8,482.7L599.9,482.7L600.8,472.8L599.5,471.4L588.7,472.1L588.5,472.4L590.1,481.5ZM555.7,461.8L553,461.8L544.3,461.4L544.5,470.9L556,470.6ZM622.9,471.2L632.3,473.4L634.1,471.8L633.8,462.9L628.2,463L622.5,463ZM634.1,471.8L649.8,473.5L649.6,462.8L638.9,462.9L633.8,462.9ZM681.6,545.8L679.5,547.7L679.7,557.2L688.9,555.2L690,546.4ZM690,546.4L688.9,555.2L692.1,558.1L699.3,555.8L699.9,549.4L690.6,545.9ZM711.3,555.3L724.9,555.7L725.2,545.5L725.7,543.8L710.4,546L709.6,546.8ZM662.1,546.1L661.6,538.5L653.9,537.7L653.8,549.5L657.2,550.3ZM661.6,538.5L662.1,546.1L669.2,548.1L671.7,546.2L672.4,538L669.3,535.4L662.1,537.9ZM703.9,546.4L709.6,546.8L710.4,546L710.1,537.2L700.5,535.8L699.2,537ZM661.6,538.5L662.1,537.9L659.1,527.5L654,528.9L653.9,534.3L653.9,537.7ZM680.1,527.8L680.5,536.3L691.8,536.6L691,529.2L689.2,527.5ZM659.6,518.4L660,526.4L669.9,528L670.2,527.6L670.4,519.2L668.2,517.2L661.2,516.9ZM731.1,527.6L735.4,519.1L737.8,515L729.4,514L727.9,515.3L729.1,525.7ZM659.6,518.4L661.2,516.9L660.4,508.8L658.3,507.1L654.1,507.5L654.1,517.8ZM710.5,518.8L719,516.9L720.2,515.4L717.1,505.8L708.7,507.1L708,516.4ZM677.5,496.2L668.7,498.4L669.7,505.5L671.4,507.2L677.7,508.2L679.8,506.2L679.7,497.8ZM706.9,496.8L708.2,506.8L708.7,507.1L717.1,505.8L718.4,504.2L719.1,497.2L717,495.3L708.2,495.4ZM740.2,504.2L744.3,507.6L746.6,497.8L748.3,491.7L737.3,494.2L736.9,494.7ZM697.2,496.3L697.7,496.8L706.9,496.8L708.2,495.4L706.8,488.1L699,487ZM717,495.3L719.1,497.2L727.3,494.5L726.5,485.9L718,483.6L716.5,485.2ZM729.4,495.6L736.9,494.7L737.3,494.2L736.4,484.5L729.3,483.7L726.5,485.9L727.3,494.5ZM669.5,486.4L677.9,487.4L679.1,486.6L680.9,475L672.6,475.2L667.3,475.4ZM679.1,486.6L687.3,489L690.7,485.1L688.8,474.7L684,474.9L680.9,475ZM701.3,474.3L695.3,474.5L688.8,474.7L690.7,485.1L698.9,486.7ZM820.1,458L817.7,455.8L808.7,462.8L816.4,462.2L819.9,461.9ZM828.9,459.7L824.7,457.2L820.1,458L819.9,461.9L827.5,461.3L829,461.2ZM765.7,464.7L771.3,461.5L768.6,456.4L760.3,458.5L760.2,461.5ZM784.1,459.4L786,456L782.6,451.1L778.1,450.5L777.8,460.6L778.2,460.7ZM800.1,452.9L798.5,451.6L792.4,452.8L790.9,456L791.5,456.9L796.2,459.7L799.1,458.6ZM808.4,461.1L805.9,454.1L801.3,452.7L800.1,452.9L799.1,458.6L805.5,463L808.6,462.8ZM818.2,451.6L817.2,453.4L817.7,455.8L820.1,458L824.7,457.2L824.9,451L823.1,450.2ZM824.9,451L824.7,457.2L828.9,459.7L831.9,455.8L830.2,449.5ZM860.7,446.7L856.8,443.7L852.2,444.7L855,452.9ZM856.8,456.4L863.8,454L865.7,451.8L864.9,446.7L860.7,446.7L855,452.9L854.9,453.3ZM880.6,444.2L876.6,451.2L876.6,451.4L878.5,453.6L881.9,451.8L887.4,445.8ZM798.5,451.6L797.8,445.7L794.1,444.7L790.2,448.1L792.4,452.8ZM809.3,448.1L805.6,445.6L805.5,445.6L801.3,452.7L805.9,454.1L809.5,450ZM809.3,448.1L809.5,450L812.5,452.5L817.2,453.4L818.2,451.6L815.5,443.9ZM852.2,444.7L856.8,443.7L857.9,438.7L856.4,436.4L848.2,438.6L847.8,439.5L852.1,444.7ZM816,442.7L813.8,438.7L807.3,438.1L805.6,445.6L809.3,448.1L815.5,443.9ZM822.5,444.1L826.6,442.9L828.1,439L823.9,436L819,442.6ZM857.9,438.7L862.8,439.4L864.2,437.3L861.5,432.9L857,434.3L856.4,436.4ZM861.5,432.9L864.2,437.3L868.7,435.9L867.1,430.7L863.5,430ZM869.9,428.2L867.1,430.7L868.7,435.9L871.2,437.4L872.2,436.5L876.6,429.4L876.1,428.5ZM893.8,433.6L896.9,427.9L887.4,427L887.2,427.3L886.9,428.6L891.3,432.8ZM817.6,428.6L814.7,430.5L814.5,437.4L823.1,434.5L823.2,432ZM847.7,433.9L851.1,430.2L851.1,426.9L846.5,425.8L843.1,428.2L843,430.1ZM864.9,422.6L862,423.5L861.4,425.9L863.5,430L867.1,430.7L869.9,428.2L867.6,423ZM867.6,423L869.9,428.2L876.1,428.5L876.5,426.3L872.9,419.1ZM814.7,430.5L817.6,428.6L818.2,424.7L814.7,423.4L810.5,429ZM826.3,423.2L824.6,422.4L823,426.4L818.2,424.7L817.6,428.6L823.2,432L825.4,430.3ZM876.5,426.3L881.1,423L881.8,420.3L874.9,416.5L873,418.5L872.9,419.1ZM834.3,412.9L838.2,413.7L841.8,410.2L841.8,407.5L838.5,404.5L833.1,406ZM854.4,409.1L855,402.2L854.2,402L851.5,399.2L848.3,406.6L850.7,409.5ZM861,409.8L866,412L868.7,410.1L869,403.8L865.6,405L862,404.1ZM879.1,408L879.7,407.6L879.9,402.2L878,400.7L871.8,402.8L874.9,408.2ZM790,505.6L784.7,498L780.1,501.3L780.4,508.3L783.7,508L789.3,507.5ZM786,495.5L784.7,498L790,505.6L794.4,502L793.8,497.9L792.5,496.7ZM803.2,495.8L801.9,502.1L810.5,504.2L810.5,495.8L808,494.2ZM810.5,504.2L811.1,505.7L816,505.2L821.2,504.7L819.2,496.7L816.3,495L810.5,495.8ZM762.1,491.6L755.4,493L756.5,500.5L764.3,499.4L764.5,499.3ZM768.1,487.6L768.1,487.6L762.1,491.5L762.1,491.6L764.5,499.3L770.3,499.6L771.5,498.7ZM791.3,486L784.9,491.4L786,495.5L792.5,496.7L795.8,487.7ZM830.7,485.4L830.3,491.8L833.6,493.5L837.7,490.7L838.7,484.7ZM847.7,491.7L849.6,493L858.4,489.7L853.9,482.4L853.6,482.3L847.6,485.2ZM767,482.4L768.1,487.6L768.1,487.6L774.5,488.1L776.8,483.5L772.5,478.8ZM805.9,478.8L805.8,478.7L800.4,480.3L798,486.5L807.8,488L808.3,487.1ZM853.9,482.4L862.2,479L862.2,472.7L860.4,471.2L855,473.1L852.3,477.2L853.6,482.3ZM759,475.7L760,481L766.4,482L765.7,474.4ZM822.3,477.7L817.8,471.3L816.4,470.3L815.2,470.4L813.7,471.6L811.4,476.7L813.8,479.1L820.9,480.1ZM855,473.1L849.6,468.3L845.3,470.1L845,473.3L852.3,477.2ZM884.2,471.1L883.4,464.9L878.2,462.9L878.1,463L875.6,465.6L875.4,470.5L883.5,472.7ZM897.5,459.5L900.3,467.6L905.5,465.4L912.1,451.7L910.9,451.8ZM759,475.7L765.7,474.4L768.4,470.3L755.6,471.3ZM896.5,459.1L897.5,459.5L910.9,451.8L902,453.1L894.3,454.2ZM898.3,425.3L902.7,428.2L906.3,429.3L909.9,425.3L909.7,422.2L905.2,419.6L900.5,421.3ZM918.8,424.9L912.8,421.2L909.7,422.2L909.9,425.3L916.9,432.3L920.6,430.8ZM929.8,415L929.1,419.1L929.4,420L936,423.9L939.5,412.2ZM892.2,413.7L897.6,415.9L902,407.6L901.5,406.3L900.4,405.2L892.8,403.9ZM917.9,408.3L922.6,409.1L923.1,408.9L923.7,403.2L922.7,401.9L915.8,399.2ZM936.8,399.6L931.6,400.5L932,406L940.4,409.4L940.5,408.9L942.2,402.5ZM910.1,395.3L908.9,396.3L908.7,403.7L911.8,405.4L915.3,398.7L914.1,395.6ZM951.4,386.2L944.7,391.4L946.8,396L951.7,397.7L956.8,389.1ZM901,395.5L899.4,389L893,394.1L892.5,398.7ZM901,395.5L903.5,398L908.9,396.3L910.1,395.3L906.8,389L901.3,387.2L901,387.7L899.4,389ZM916.7,387.8L916,393.7L922.9,394.1L926.1,392.6L924.8,384.8L918.6,385.8ZM946.8,379L943,385L942.5,389.8L944.7,391.4L951.4,386.2L950.5,382ZM918.6,385.8L924.8,384.8L925.2,384.2L923.6,376.9L922,375.6L916.3,377.1L915.4,378.9ZM941.4,374.9L937.2,381.1L943,385L946.8,379L946.1,376.1L944.6,378L943.9,374ZM961.5,373.5L955.2,366.5L951.6,369.2L957.9,379.7L960.7,381L962.7,375.9ZM931.5,374.1L932,373.3L931.1,366.7L924.8,367.7L922,375.1L922,375.6L923.6,376.9ZM932,373.3L941.4,374.9L943.9,374L942.3,364.7L942.3,364.7L932.4,366.4L931.1,366.7ZM966.7,368.3L969.8,370.8L976.9,373.9L978.1,368.6L974.2,362L967.1,361.3L963.6,364L962.8,364.2ZM164,97L169,96.5L168.2,102L165,101ZM391.3,704.5L393,704.8L394.2,707.2L397.3,706.5L399.4,706L405.2,709.8L401.5,711.9L398.4,712.6L396.3,709.6L393.3,707.6ZM411.4,724.1L413.1,727.7L419.8,729.1L427.6,733.3L432.5,741.5L427.6,744.6L422.6,748.1L414.2,753.7L411.4,751.6L410.9,744.6L407.1,736.8L409.3,730.5Z" fill="#ea9550" stroke="#ffdcb8" stroke-opacity=".58" stroke-width=".8" stroke-linejoin="round"/><path d="M194.5,174.2L179.7,169.1L174.8,172.2L172.7,181.2L175.5,181.8L188.2,182.6L190.8,182.4ZM232.1,167.4L221.2,164.7L213.7,178.6L214.1,181.7L216.1,181.8L227.4,184.5L233,185.8ZM225.3,139.4L241.1,133.9L240.9,132.5L230.7,119.6L224.8,118.4L219.8,121.4ZM246.7,138.3L262.5,134.9L264.1,128.1L264.2,127.4L248.4,116.5L240.9,132.5L241.1,133.9ZM213.1,120.6L200.4,106.4L193.9,126.5L203.8,134.5ZM184.6,139.5L187.3,153.9L190,156.4L196.5,158L205.6,152.3L207.4,145.1L203.7,137.4ZM228.5,148.8L242.9,153.2L243.6,152.8L246.7,138.3L241.1,133.9L225.3,139.4L225,140ZM220.7,163.3L221.2,164.7L232.1,167.4L237,165.9L242.9,153.2L228.5,148.8ZM315.8,280.1L295,284.1L302.8,300.8L317.6,283.3ZM342.8,285.1L343.6,279.8L345.3,269.6L333.4,276.6L331.2,284.5ZM237.9,244.6L234.6,259.4L233.4,264.5L246.1,263.7L256.4,243L249.8,242.3ZM345.3,269.6L345.8,265.9L335,259.7L329.2,269L333.4,276.6ZM282.6,215.6L266.8,215.6L264.9,226.9L283.2,232.8L285.5,218.4ZM294.7,217.5L301.1,234.2L309.7,235.8L311.6,235L308.2,226.5L302.8,209.6ZM269.5,128L271.2,127.9L278.9,118L267,115.4L264.9,124.7ZM377.7,201.8L358.6,200L356.9,201.7L359.4,219.1L360,219.6L373,221.3L383.2,209.2ZM414.5,196.7L401.9,192.1L401.4,192.4L391.9,210.2L396,214.8L415,206.6ZM313.7,160.6L311.5,170.6L313.7,174.7L328.9,177.9L328.7,159.5ZM443.3,144.9L437.2,144.2L427.7,143.1L426.6,143L425.2,150.9L434.5,159.6L443.1,153.9ZM335.9,222.9L334.3,218.9L322.2,211.6L305.5,218L308.2,226.5L313.3,239.2L315.8,245.7L326.5,242.8L332.9,243.9ZM557.1,217.3L557.8,231.4L564,231.6L569.5,231.8L571.9,219.8L570.8,218.4ZM491.7,202.5L504.2,202.3L504.9,201.6L504.5,190L492.9,187.9L489.5,199.7ZM518,202.8L530.9,205.3L532.4,204L532.1,191.3L520.2,190.3ZM584.7,206.2L586.1,205L585.9,192.3L585.5,191.9L573.1,191.4L573,191.5L573,204.3ZM586.4,166.3L585.4,177.7L586.1,178.4L601.9,180.2L601.8,180L602.8,167.3L602.4,164.6ZM547.5,162.6L558.9,165.1L559.3,164.7L560.8,153.6L553.7,153.4L548.1,153.1ZM619.5,295.2L623,295.2L631.5,295.2L630.9,287.1L620.1,286.1ZM645.3,287.4L633,285L630.9,287.1L631.5,295.2L632.7,295.2L642.4,295.1L644.6,295ZM631.3,239L644.3,239L644.4,238.8L643.1,228.4L632.7,226.9L632,227.5ZM667.1,215.3L657.4,214.8L655.8,226.6L656.1,226.9L668.8,226.1ZM608.1,169.4L620.3,167L620.9,154.8L618.4,154.8L609.6,154.7L600.8,154.7L602.4,164.5ZM653.3,182L649.1,169.2L635.3,172.5L632.2,179.3L636.9,189.1L644,190.5L650.7,187ZM714.6,260.3L704.1,262.7L706.7,272.4L707.5,273.2L715.3,272.2L716.7,270.7L717.2,263ZM704,262.5L704.4,251.1L695.3,250.6L693.5,252.8L695.2,262L696.2,262.8ZM705.4,250.3L704.4,251.1L704,262.5L704.1,262.7L714.6,260.3L715,252.8ZM745,248.1L746.5,239.3L746.1,238.7L736.1,236.9L734.1,240.1L738.3,249.5L738.5,249.6ZM735.1,229.5L747.2,227.3L749,225.4L744.2,223.6L735.2,221.5L735,221.5ZM704.3,218.5L705.4,219.8L713.8,220.1L715.1,218.6L714.5,211.7L713.3,211.5L714,208L714.2,207.5L713.8,203.5L712,204L703.5,206.6ZM773.8,226.8L765.1,233.9L768.1,241.4L773.1,247.4L776.8,238.1L781.4,229.9L782.1,229.6ZM808.5,218.7L817,218.5L822.3,222.5L828.7,219.1L836.6,217.9L832.2,211.5L830.3,209.4L808.2,211.8L807.2,213.6ZM768.8,416.9L769,416.8L767.9,408L759.7,408.1L760.2,417ZM740.8,400.1L740.6,399.9L731.1,400.3L726.8,405L729.7,410L741.6,407.5ZM767.5,397.4L767.7,397.6L776,397.4L777.1,396.1L776.3,388.4L774.8,387.4L767,389.7ZM757.9,380.2L757.3,380.9L758.5,388.3L765.4,388.2L766.5,380.1ZM764.4,362.2L765.2,369.3L773.3,370L773.9,361.7L772.1,360.1L764.7,361.8ZM809,430.6L809.4,430.4L814.7,423.4L819.6,425.2L813.6,420.4L805.8,421.3L806.4,428.3ZM799,326.2L794.8,331.7L799.5,331.2L807.8,330.4L807.4,325.3L807.2,325.2ZM846.3,320.2L856,319.8L854.8,309.5L854.8,309.5L845.4,311.2L845,311.8ZM833.1,293.6L832.6,294.2L833.7,302.6L834.8,303.5L843.2,301.6L842.3,292.8ZM850.3,281.8L852.9,291L861.8,289L861.8,289L861.2,280L860.8,279.6L851.1,280.6ZM899.8,363.2L906.4,361.4L906,354.1L897.2,354.1L896.8,354.7ZM879.1,349.4L878.3,340L869.5,342.1L869.5,342.1L871.6,349.9ZM943.9,346.9L944.5,353L946.3,354.6L955.3,354.4L956.7,351.9L955.5,343.6L948.8,341.3ZM985.6,306.6L986.4,307.1L990.5,307L990.5,300.5L988.2,296L984.1,296.9ZM917.4,318.7L930.9,319.9L931,319.8L921.1,304.2L920,304.9L912.9,310.8L913.7,315.7ZM931,319.8L930.9,319.9L928.6,328.3L935.4,333.7L939.7,332.5L941.8,325.6L935.1,318.2ZM947.6,319.8L945,324.4L951.9,329.2L956,322.3ZM933.4,339.9L935.4,333.7L928.6,328.3L922.5,330.3L917.1,336.5L917.3,337.7ZM947.8,337.4L939.7,332.5L935.4,333.7L933.4,339.9L934.1,344.5L943.9,346.9L948.8,341.3ZM917.4,318.7L930.9,319.9L931,319.8L921.1,304.2L920,304.9L912.9,310.8L913.7,315.7ZM952.1,331.4L947.8,337.4L948.8,341.3L955.5,343.6L960.3,341.5L960.6,332.9ZM974.2,319.3L971.5,319.3L963.1,324.3L963.8,328L974.9,328L977.1,326.5ZM948.3,289.3L940.7,293.2L942.7,304.9L947.4,304L956,302.4L948.9,289.7ZM993.7,269L994.1,271.6L1000.4,275.7L1005.7,273.5L1007.3,269ZM1034.9,270.1L1037.3,260.7L1031.4,258L1023.8,265.7L1026.2,268.4L1034.9,270.2ZM1007.4,268.7L1004.3,261.6L996.8,261.5L992.7,266.1L993.7,269L1007.3,269ZM948.3,289.3L940.7,293.2L942.7,304.9L947.4,304L956,302.4L948.9,289.7ZM993.7,269L994.1,271.6L1000.4,275.7L1005.7,273.5L1007.3,269ZM957.5,280.2L962.4,287.9L968,286.5L971.2,283.6L965.4,275.5ZM993.7,269L994.1,271.6L1000.4,275.7L1005.7,273.5L1007.3,269ZM1032,227.6L1032.1,228.1L1034,238.7L1044.1,235.3L1047.8,229.8L1041.6,223.6ZM1040.1,216.6L1043.3,203.9L1038,205.2L1027.2,207.9L1028.9,215.1ZM1055,233.4L1054.7,246.3L1055.4,250.4L1064.6,247.4L1064.2,237.4ZM1095.3,198.1L1091.7,196.4L1083,205L1082.3,215L1104.3,216.9L1106.6,214.8ZM1090.5,277.3L1084,272.4L1081.7,274.6L1082.2,276.4L1086.9,281L1089.4,285.2L1089.5,285.2ZM1092,276.6L1098.5,278.1L1098.7,275.2L1096.1,271.3L1095.1,269.8ZM1081.8,285.5L1079.3,285.1L1076.7,287.1L1077.8,290.9L1077.2,293.5L1083.5,290.2L1084.2,288.5ZM1027.4,360.2L1031.1,361.2L1033.8,367.2L1039.1,357.3L1036.8,355.4L1029.2,357.5ZM1034.2,333.9L1033.9,325.8L1027.4,324.8L1024.7,331.7L1027,333.4ZM1023.8,374.6L1025.9,381.5L1034.2,379.8L1031.8,371.7L1027.5,369.1ZM998.5,361L996.3,362.8L997.2,369.1L999.7,370.4L1003.6,369.1L1002.9,365.5L1003.8,363.8ZM1027.3,383L1020.1,390.1L1023.7,394.5L1025.1,393.8L1032.8,391.6L1032.9,391.5L1033.5,386.7ZM941.2,437.8L941.7,437.3L941.3,435L932.1,430.3L931.2,431.7L936.2,438.8ZM1005,398.8L1006.5,405L1013,408.7L1014.7,407.8L1011.7,398L1008.7,396.3ZM957.7,406.4L959.7,406.8L964,405L964.6,399L960.8,397.9L955.2,399.1ZM966.7,396.3L971.7,395.7L973.3,392L969.8,384.5L969.8,384.4L968.7,384.2L963.3,387.3L963.8,391ZM1023.9,445.4L1027.5,440.8L1017.1,434.7L1016.7,443.2ZM934.1,452.9L941.2,450.9L943.3,446.9L933.4,448.5L928.8,449.2ZM992.8,501.4L989.8,493.4L978.4,497.6L976.1,501.9L983.9,507.4ZM1012.8,462.3L1016.9,467.9L1026.6,463.5L1027.1,462.8L1027.1,462.8L1017.7,454.8L1015.9,454.6L1015,455ZM903.9,590.5L901.9,596.6L905.8,599.8L911.8,595.1L908.6,591.1ZM862.7,514.3L866.1,515.9L869.5,514.8L870.3,512.6L868.9,508L868.3,507.7L862.5,508.9ZM878.6,504.8L870.4,506.7L868.9,508L870.3,512.6L877.1,511.4ZM889.8,531.3L891.8,525.8L888.5,519.7L886,519.9L882.6,529L883.1,529.9ZM883.5,554L885.4,548.5L880.4,547.3L877.4,549.9L878.7,553.9ZM926.1,561.2L931.3,563.4L938,558.6L933.5,552.5L933.3,551.9L926.4,554.5L925.5,557.9ZM834.5,606.7L827.8,607.4L825.5,607.7L825.8,615.3L835.4,615.2ZM844.2,612.2L850.5,627.2L850.5,605.9L849.8,605.1L848.3,605.3ZM850.5,627.2L850.8,627.9L853.4,626.1L856.5,611.3L850.5,605.9ZM865.5,624.1L853.4,626.1L850.8,627.9L850,629L854,631L860,634L866,638L870.4,635.5ZM794,577.1L792.9,578.3L794.3,589.2L804,587.8L804.4,587.3L804,578ZM842.8,551.9L832.6,552.3L832.4,560.2L836.3,563.3L842.9,562.3ZM811.4,551.4L809.9,544.6L800.2,545.2L800.5,554.9L802.5,556.5ZM742,654.1L751.1,654.3L752.7,652.5L750.9,644.5L743.4,645.7ZM761.2,642.9L760.1,643.7L760.5,652.5L762,654L768,656L776,660L769,654L764,648L761.5,643ZM722.9,646.7L723.9,645.4L723.1,638.4L714.1,637.8L713.8,638.2L714.7,646.9L715.9,648.1L716,648L716.1,648.2ZM694.7,620L693.4,621.6L694.6,631L704.3,629.2L704.4,629.1L703,621.2L703,621.2ZM721.8,619.1L721.1,620.1L721.3,627.6L723.3,629L731.1,627.2L731.9,620.8ZM732.4,620.2L731.9,620.8L731.1,627.2L732.7,629L741.8,628.7L740.1,618.4L740,618.4ZM765.5,590L765.9,597.9L767.1,598.7L775.4,597.8L775.6,589.7L766.1,589.1ZM746.2,556.3L752.9,555.4L754.1,554.2L752.8,545.9L744.9,547.3L744.9,555.3ZM770.2,544.7L771.3,545.8L780.6,543L779.8,535.4L779.4,535.2L771.8,535.3L770.4,536.4ZM778.8,524L779.4,535.2L779.8,535.4L785.5,534.2L785.7,524.5ZM574.3,698.1L573.8,708.9L587,709.9L586.8,698.7L585.4,697.3L575.1,697.3ZM575.3,674.6L574.6,663.9L564.3,663.4L564.2,663.5L562.5,674.3L562.9,675L574.4,675.6ZM659.8,614.7L657.4,604.1L646.4,604.2L645.8,615.1L648.1,617.4L659.5,615ZM577.5,590.1L576.6,591.2L577.3,603.1L578.3,603.9L587.7,602.3L588.4,593.2ZM648.2,591.3L658.5,593.2L658.7,593L659.2,581.1L658.6,580.6L647.6,580.7ZM542.8,579.8L543.8,578.8L542.2,567.4L532.7,567.6L530.4,578.2L531.5,579.8ZM658.6,580.6L658.9,569L657.5,568L648.4,568.2L647.7,568.9L646.8,580L647.6,580.7ZM576.8,557L579.1,545.2L566,544L567.5,556ZM488.5,528.3L487.6,529.1L486.3,539.6L486.6,540L498.8,539.6L498.7,528.2ZM502.7,493.1L500.5,494.8L500.3,505.3L511.7,507.2L512.6,506.4L510.7,493.7ZM524.7,496.1L523.3,494.4L510.8,493.6L510.7,493.7L512.6,506.4L522.2,505.5ZM524,483.1L523.2,483.8L523.3,494.4L524.7,496.1L539.3,494.9L539.5,490.9L539.8,482.9ZM450.1,486.4L445.6,503.8L451.4,511.4L476,508.6L477,496.4L477.4,491.7ZM445.6,503.8L450.1,486.4L450,486.2L430.6,480L427.5,483.3L425.2,503.9ZM345.6,536.8L345.5,537.1L343.7,550.3L341.9,563.5L340.1,576.6L338.3,589.7L348.1,591L373.4,562.7L369.3,539ZM112.3,353.9L108.5,346.5L91.2,352.4L91.7,353.6L90.5,361.3L93.6,364.5ZM113.3,275.7L97.2,281.1L101.2,290.5L117.5,284.8ZM133.2,305.9L119.1,299.6L107.9,307.1L107.6,309.1L118.8,324.7L130.4,321.2ZM137.5,198.9L143.4,207.1L151.6,207L153.7,186.1L142.4,182.4ZM190.5,204.4L186.1,197L176.4,190.8L170.6,195.1L163.3,212.6L163.4,212.6L186,211.1ZM186,211.1L163.4,212.6L163.5,224L184.5,235.5L191.7,228.3ZM222.2,223.8L213.5,232.5L214.7,248.1L235.7,254.6L238,244.1L242.1,236.6L238.2,229.1L238.2,229.1ZM214.7,248.1L211,251.2L204.9,284.8L205.8,285L216.7,287.6L227.7,290.1L231.1,274.7L234.6,259.4L235.7,254.6ZM267.8,380L268.2,377.6L270.7,364.9L273.1,352.3L275.3,341L247.7,342.2L225.3,359.9L238.7,380ZM381.9,320.1L362.4,313.3L357.8,315.7L351.8,339.5L353.4,339.8L362.9,341.1L372.4,342.5L381,343.6ZM436.6,322.8L427.8,349.3L429.5,349.4L439,350.4L448.5,351.4L458.1,352.3L467.6,353.1L468.7,340.2L469.8,327.4L470,325.5ZM404.7,315.4L408,296.2L388.5,287.3L383.6,290.5L385.7,316.7ZM411.3,442.6L410.6,451.4L419.1,452.3L425,452.9L431.5,437.5L429.4,432.3L428,431.6L420.6,433.5ZM489.2,401.1L488.1,412L490.2,414.7L502,417.4L502.6,407.5L503,401.6ZM387.3,390.5L387.6,379.6L376.8,373L367.6,377.6L367.1,380.9L365.8,390.3ZM397.2,394.4L404.8,389L404.2,380.1L398.9,373.7L387.6,379.6L387.3,390.5L388.7,392.1ZM451,366.2L450,365.3L434,366.2L434.6,380.2L445.8,381.8L448.7,379.7ZM381.2,362.1L396.5,360.5L401.3,346.2L400.9,346.2L391.4,345L381.9,343.8L372.4,342.5L371.5,349.1ZM418.1,365.9L418.5,365.4L414.7,347.8L410.4,347.3L401.3,346.2L396.5,360.5L399.1,365.7ZM432.1,363.6L418.5,365.4L418.1,365.9L417.8,375.1L422.6,380.4L432.1,382L434.6,380.2L434,366.2ZM433.6,407.7L436.7,397.1L431.3,389.8L418.1,400.4L418.7,407.5L423.5,410.3ZM383,435.2L379.6,430.3L369.7,429.1L367.1,431L365.1,445.8L368.4,446.2L376.2,447.3ZM555.8,349.9L565.6,350.9L565.7,350.9L566.5,340.3L555,338.9L554.3,339.6ZM554.3,339.6L555,338.9L556.7,330.2L555.7,328.9L545.9,327.4L545.4,328L545.7,339.2ZM567.1,329.5L566.8,340L577.6,340.6L577.1,330.1L567.3,329.3ZM636.4,337.2L636.4,337.3L645,337.1L645.2,336.9L645.3,327.6L636,327.8ZM682.5,336.2L690.8,335.3L690.6,326.3L681.8,326.4L681.7,326.6L682.1,335.8ZM643.8,450.7L643.4,450.4L633.5,449.9L632.8,450.5L632.4,462.9L638.9,462.9L643.7,462.8ZM538.7,438.1L538.2,448.4L548.6,449L548.7,438.7ZM632.9,439.6L633.1,439.7L642.8,438.7L642.9,428.9L632.3,428.9L632.3,428.9ZM507.7,425.6L508.6,415.6L508.2,415.2L502.2,414.7L501.8,420.4L501.5,425.3ZM560.6,417.7L560.3,428.3L570.3,428.9L570.4,428.7L570.4,417.7L570.3,417.6L560.7,417.7ZM642.9,428.9L643.3,428.5L643,419.2L632.8,418.2L632.7,418.2L632.3,428.9ZM590.9,418.7L591.9,417.7L591.6,408.3L590.6,407.4L581.7,407.5L581.5,407.7L580.8,417.8ZM678.3,459.8L679.4,458.7L678.8,451L676.5,449.2L670.2,450.2L669.9,458.4ZM697.6,457.5L705.9,456.9L706.9,449.7L704.6,447.6L696.5,448.9ZM704.6,447.6L706.9,449.7L713.4,448.4L714.1,447.6L714.3,439.1L705.1,438.6L704.6,439.2ZM686.1,440.7L687.7,439.7L687.3,430.7L685.5,429.1L678.5,430.3L677,432.1L678.9,439.6ZM731.8,419.5L736.1,422.3L736.7,420.7L737.2,412.9L730.1,410.7L729.9,410.3ZM695.1,402.4L685.6,402.3L685.4,402.6L685.2,411.2L685.7,411.5L694.8,410.8L695.3,402.6ZM684.4,375.7L684.2,383.5L693,384.1L693.4,374.8L693.2,374.7L685.4,374.8ZM631.9,376L632.7,370.4L626.4,370.5L628.4,375.1L629.9,377.3ZM578,482.7L588.7,483.2L590.1,481.5L588.5,472.4L578.5,472.8ZM622,483.3L621.7,472.3L611.7,473L611.3,482.6L621.5,483.8ZM670.4,558.1L669.2,548.1L662.1,546.1L657.2,550.3L663.2,551.6L663.3,558.2ZM712.1,534.5L721.3,536.6L719.6,526.8L710.6,527.4ZM689.2,527.5L691,529.2L699,524.8L698.6,518.2L689.1,518.1ZM668.1,488.1L669.5,486.4L667.3,475.4L661.2,475.5L660.2,475.5L659.2,488L659.5,488.3ZM833,429.7L829.2,422.6L826.3,423.2L825.4,430.3L828.9,431.1ZM774,474.6L783.3,478.9L783.8,472.3L780.4,469.4L773,470ZM133.7,632.9L135.9,636.9L139,641.3L141.4,642ZM150.5,652.6L143,643.9L142.5,645.7L135.9,645.7L133.3,643.4L132,639.9L125,641.7L118,646.4L123.3,655.2L133.1,656.9L134.1,661.5L139.4,660.4L142.5,662.7L142.5,663.7ZM317.2,675.8L319.7,673.8L325.4,673.7L325.1,677.6L321.9,679.5L318,678Z" fill="#cfa996" stroke="#ffdcb8" stroke-opacity=".58" stroke-width=".8" stroke-linejoin="round"/><path d="M213.7,178.6L198.2,170L194.5,174.2L190.8,182.4L205.2,181.2L214.1,181.7ZM144.5,143.6L137,137.2L137,138L133,146L132.2,152.1L139.6,154.3ZM152.7,160.4L154.4,148.2L149.3,143.8L144.5,143.6L139.6,154.3L140.6,154.6L145,158.6L149.7,161.3L149.7,162.2ZM169.9,154.5L166.7,148.5L154.4,148.2L152.7,160.4L159.7,163.4L168.5,160.3ZM144.5,143.6L149.3,143.8L157.8,130.5L143.4,124L136.4,127.6L137,137.2ZM172.2,135L166.7,148.5L169.9,154.5L187.3,153.9L184.6,139.5L180.6,135.2ZM207.4,145.1L205.6,152.3L220.7,163.3L228.5,148.8L225,140ZM165.3,127.6L172.2,135L180.6,135.2L185.4,128.2L183.9,120.1L168.6,116.1L167,118.5L165.9,115.4ZM193.9,126.5L185.4,128.2L180.6,135.2L184.6,139.5L203.7,137.4L203.8,134.5ZM246.7,138.3L243.6,152.8L257.1,158.8L258.3,153.5L261.2,140.8L262.5,134.9ZM147.2,116.3L159.2,110.5L158,110L146,102L135.6,96.4L134.5,103ZM183.9,120.1L192.4,106.5L176.1,104L168.4,107.3L169.3,115L168.6,116.1ZM185.4,128.2L193.9,126.5L200.4,106.4L199.6,104.5L192.4,106.5L183.9,120.1ZM176.1,104L177.4,92.5L172.6,91.1L171.6,91L169.5,99L168.3,106L168.4,107.3ZM224.8,118.4L230.7,119.6L246.5,112L246.6,110.7L237.5,108.5L227.7,106L226.9,105.8ZM248.4,116.5L246.5,112L230.7,119.6L240.9,132.5ZM203.7,137.4L207.4,145.1L225,140L225.3,139.4L219.8,121.4L213.1,120.6L203.8,134.5ZM147.2,116.3L143.4,124L157.8,130.5L165.3,127.6L165.9,115.4L165,113L159.2,110.5ZM157.8,130.5L149.3,143.8L154.4,148.2L166.7,148.5L172.2,135L165.3,127.6ZM328.2,296.8L319.4,308.2L327.4,309.5L338.6,311.4L340.1,302ZM284.2,274.5L263,277L262.1,280.7L271.9,292.9L283.2,289.1L289.5,280.7ZM328.2,296.8L326.4,287.8L317.6,283.3L302.8,300.8L302.4,305.2L305.2,305.7L316.3,307.7L319.4,308.2ZM312.2,267.2L305.2,266.7L291.1,281L295,284.1L315.8,280.1L314.6,271.1ZM333.4,276.6L329.2,269L314.6,271.1L315.8,280.1L317.6,283.3L326.4,287.8L331.2,284.5ZM249.8,242.3L241.4,225.5L238.2,229.1L242.1,236.6L238,244.1L237.9,244.6ZM309.7,235.8L306.3,247.2L314.4,262.2L324.2,253.5L321,244.3L315.8,245.7L313.3,239.2L311.6,235ZM261.1,231L264.9,226.9L266.8,215.6L266.8,215.6L251.2,212.7L246.9,219.3L243.9,222.7ZM284,206.8L282.6,215.6L285.5,218.4L294.7,217.5L302.8,209.6L302.5,208.5L292.1,210.4L294.3,202.1ZM262,193.2L266.8,185.7L266.3,175.8L263.9,172.8L254,172.5L252.5,179.1L253.1,186L252.5,190.3L252.5,190.3L253.3,193.2ZM268.3,159.2L267.8,146.7L264,144.6L260.4,144.1L258.3,153.5L256.6,160.9L264.7,163.2ZM268.3,159.2L284.8,166.3L288.7,162.8L281,158.7L277.9,144.6L267.8,146.7ZM264,144.6L269.5,128L264.9,124.7L264.1,128.1L261.2,140.8L260.4,144.1ZM271.2,127.9L280,133.9L280.5,131.6L283.2,119L278.9,118ZM301.1,234.2L294.7,217.5L285.5,218.4L283.2,232.8L285.9,237.7L287.3,238.3ZM262.1,280.7L263,277L260.7,269.5L246.1,263.7L233.4,264.5L231.1,274.7L227.7,290.1L238.7,292.5L243.4,293.5ZM373,221.3L360,219.6L357.1,236.2L359.7,236.6L368.6,237.9L377.6,239.2L379.7,239.5ZM412.8,237.7L408,224.5L398.2,220.5L387.4,240.6L395.5,241.7L404.4,242.9L410.3,243.6ZM322.1,197.2L308.3,192.3L300.6,208.9L302.5,208.5L305.5,218L322.2,211.6ZM323.6,196.1L322.1,197.2L322.2,211.6L334.3,218.9L344.2,201.4L344.1,201.3ZM415.9,220.1L434,230.3L436.1,230.4L439.4,225.8L438.8,215.4L435.8,210.7L418.4,211ZM339.1,179.9L331.3,179.9L323.6,196.1L344.1,201.3ZM344.2,201.4L356.9,201.7L358.6,200L360.2,182L341.3,178.6L339.1,179.9L344.1,201.3ZM382,185.6L380.4,186.7L377.7,201.8L383.2,209.2L391.9,210.2L401.4,192.4ZM418.4,211L435.8,210.7L435.4,202.7L419.4,194.1L414.5,196.7L415,206.6ZM435.8,210.7L438.8,215.4L457.9,205.9L457.7,198.6L440.9,194L435.4,202.7ZM311.5,170.6L313.7,160.6L309.7,152L305,151L292.5,164.7L293,165L293.9,169.5ZM341.3,178.6L344.8,163.4L333.7,154.5L328.7,159.5L328.9,177.9L331.3,179.9L339.1,179.9ZM364.3,167.5L353.8,159.8L344.8,163.4L341.3,178.6L360.2,182L362.2,180.4L365,168.9ZM297.7,130.7L280.6,131.3L280.5,131.6L277.8,144.2L279.6,152.4L298.9,144.9ZM333.6,148.3L319.7,141.8L309.7,152L313.7,160.6L328.7,159.5L333.7,154.5ZM353.8,159.8L364.3,167.5L372.8,148.3L367.9,144.6L355,149.5ZM458,159.6L455.4,161L451.3,175.8L459.2,180.7L464.6,179.5L474.6,163.5ZM297.7,130.7L305,123.4L300.1,122.5L291.7,120.7L283.2,119L280.6,131.3ZM372.8,148.3L385.7,149.8L394.7,138.8L392.9,138.5L384.5,137.3L376.1,136L367.7,134.7L366.6,134.5L367.9,144.6ZM412.1,157.2L425.2,150.9L426.6,143L418.2,141.9L409.7,140.8L402.3,139.8ZM443.1,153.9L455.4,161L458,159.6L460.9,146.8L456.3,146.3L446.7,145.3L443.3,144.9ZM385.7,149.8L372.8,148.3L364.3,167.5L365,168.9L388.4,166.8ZM385.7,149.8L388.4,166.8L388.4,166.8L405.1,171.3L410.2,169L412.1,157.2L402.3,139.8L401.3,139.7L394.7,138.8ZM425.2,150.9L412.1,157.2L410.2,169L426.9,176L431.4,175.2L434.5,159.6ZM426.9,176L419.4,194.1L435.4,202.7L440.9,194L439.2,179.1L431.4,175.2ZM434.5,159.6L431.4,175.2L439.2,179.1L451.3,175.8L455.4,161L443.1,153.9ZM360.2,182L358.6,200L377.7,201.8L380.4,186.7L362.2,180.4ZM436.1,230.4L438.4,246.9L440.3,247.1L449.3,248L458.3,248.9L460,249.1L460,227.6L439.4,225.8ZM471.7,220.2L460,227.6L460,249.1L467.3,249.7L476.3,250.5L477.4,237.8L478.4,226.5L478.5,225L478.9,220.2ZM516.5,217.4L516.4,217.3L504.1,215.3L503.2,216L502.1,228.4L506.9,228.7L515.8,229.3ZM516.5,217.4L515.8,229.3L516.4,229.3L525.9,229.9L530.8,230.2L530.2,217.2ZM530.2,217.2L530.8,230.2L535.4,230.4L543.9,230.8L544.7,217.6L530.6,216.7ZM585.1,232.2L592.6,232.4L599,232.5L598.1,219.5L585.3,219.8ZM488.9,213.9L491.7,202.5L489.5,199.7L480.7,198.7L480.6,199.6L479.6,212.3L479.5,213ZM488.9,213.9L489.9,215.2L503.2,216L504.1,215.3L504.2,202.3L491.7,202.5ZM530.9,205.3L530.6,216.7L544.7,217.6L544.8,217.5L544,204.4L532.4,204ZM556.7,216.9L557.1,217.3L570.8,218.4L571,205.8L558.5,204.1ZM571,205.8L570.8,218.4L571.9,219.8L584.5,219L584.7,206.2L573,204.3ZM489.5,199.7L492.9,187.9L492.2,187L481.9,185.4L481.7,186.9L480.7,198.7ZM505.6,189L504.5,190L504.9,201.6L517.9,202.9L518,202.8L520.2,190.3L519.1,189ZM598.2,205.3L598.6,191.4L585.9,192.3L586.1,205ZM494.5,174.9L492.2,187L492.9,187.9L504.5,190L505.6,189L506.2,176.3ZM546.3,176.9L546.1,177L545.8,189.7L558.8,190.3L559.8,178.5L558.3,176.8ZM585.5,191.9L586.1,178.4L585.4,177.7L573.9,178.8L573.1,191.4ZM494.1,174.4L494.5,174.9L506.2,176.3L506.4,176.1L507.2,162.5L506.3,161.7L495.3,162.1ZM533,176.8L533.4,176.3L533.4,164L520.2,162.8L519.7,163.2L519,176.4L520.2,177.7ZM546.1,177L546.3,176.9L546.3,163.6L534.2,163.3L533.4,164L533.4,176.3ZM559.8,178.5L572.1,177.2L572.1,165.1L559.3,164.7L558.9,165.1L558.3,176.8ZM572.1,177.2L573.9,178.8L585.4,177.7L586.4,166.3L586.1,166L572.9,164.3L572.1,165.1ZM494,160.9L494.6,149.8L493.5,149.7L484.9,149L483.9,161ZM506.3,161.7L507.2,162.5L519.7,163.2L520.2,162.8L520.6,151.6L519.3,151.5L510.7,151L507.4,150.7ZM586.1,166L585.9,154.4L581.9,154.3L573.2,154.1L572.9,164.3ZM586.1,166L586.4,166.3L602.4,164.6L600.8,154.7L591.3,154.5L585.9,154.4ZM656.2,286L646.4,286.2L645.3,287.4L644.6,295L652,294.9L657.3,294.8ZM645.2,273.9L645.2,273.8L632.9,274.5L633,285L645.3,287.4L646.4,286.2ZM656.2,286L657,285.4L658.7,274.4L656.6,272.7L645.2,273.9L646.4,286.2ZM681,284.4L682.6,275.4L678.7,271.4L668.2,273L667.9,273.3L671,285.4ZM706.8,283.2L706.1,280.8L696.6,275.6L692.9,272L692.4,272.7L695,284.4ZM613.6,279.6L620.6,274.1L620.5,261L613.5,261.6L613.5,264.4L613.4,279.6ZM656.6,272.7L656.2,262.7L644.6,262.2L645.2,273.8L645.2,273.9ZM692.4,272.7L692.9,272L689,268.2L680.2,262.4L678.7,271.4L682.6,275.4ZM656.5,250.7L658,260.6L667.4,261.9L669.6,259.9L669.1,249.3ZM620.8,239.5L620,250.9L632.1,250.1L631.2,239.1L621.3,239.1ZM655.9,236.1L644.4,238.8L644.3,239L645.7,250.1L656.4,250.6L657.7,237.9ZM620.8,239.5L621.3,239.1L619.1,227.9L611.4,228.1L611.7,232.6L607,240.3ZM631.2,239.1L631.3,239L632,227.5L621.5,225.5L619.1,227.9L621.3,239.1ZM668.5,237.2L669.7,226.9L668.8,226.1L656.1,226.9L655.9,236.1L657.7,237.9L667.4,238.4ZM669.7,226.9L678.8,225.8L679,214.2L668.3,214.1L667.1,215.3L668.8,226.1ZM698.7,197.8L680.3,198.9L679.8,213.4L687.1,214.8L687.1,213L690.3,210.5L693.3,208.3L701.6,200ZM606.8,192.6L606.9,192.8L607.4,202.8L620.2,203.2L620.5,192.5ZM620.2,203.2L620.3,203.3L631.2,203.3L632,193L621.2,191.7L620.5,192.5ZM644,190.5L636.9,189.1L632,193L631.2,203.3L631.8,204L643.1,204L644,202.8ZM610.3,179.9L604.2,186.1L606.8,192.6L620.5,192.5L621.2,191.7L620.7,180.5L620.6,180.4ZM698.7,197.8L701.6,200L703.3,198.3L712.6,189.6L711.5,173.4L710,173L698.3,175.8L692.5,173.6ZM620.3,167L608.1,169.4L610.3,179.9L620.6,180.4L620.8,167.6ZM649.1,169.2L653.3,182L672.5,182L681.3,168.6L673.3,163.7L661.7,165.8L651.6,162.5ZM718.1,305.9L716.8,304.9L712.6,304.7L712.3,312.2L718.8,316.2ZM727,294.2L729.3,303.6L740,303.1L740.9,294L739.6,292.3L727.5,293.8ZM740.3,303.5L750.8,304.9L752.2,303.7L750.9,292.7L740.9,294L740,303.1ZM760.8,291.5L760.6,291.7L763,300.2L772.2,300.4L772.2,300.4L773.5,287.9ZM738.9,283.6L739.9,282.5L737.5,271.5L728.2,272.2L727.4,280.3L730,282.7ZM772.7,271.1L760.8,270L758.9,271.6L759.1,278.7L761.8,280.6L773.8,279.5L773.8,275.7L774.6,272.6ZM695.2,262L681.6,263.3L689,268.2L693.9,272.9L696.2,262.8ZM749.8,269.6L749.5,261.5L748.3,260.6L738.2,260.9L738.4,270.5L748.6,270.9ZM779.7,247.3L777.2,252.2L771.3,257.9L768.9,260.3L772.7,271.1L774.6,272.6L775.8,267.8L778.5,257.2L783,246.5L782.9,245.6ZM695.2,262L693.5,252.8L680.1,253.6L680.4,255.7L679.7,262.1L681.6,263.3ZM725.5,251.4L716.8,251.3L715,252.8L714.6,260.3L717.2,263L727.7,260.5L727.7,260.4ZM737.3,260.1L738.2,260.9L748.3,260.6L747.8,250.3L745,248.1L738.5,249.6ZM759.1,259L758.3,248.6L747.8,250.3L748.3,260.6L749.5,261.5ZM758.3,248.6L758.3,248.6L759.1,259L760.4,259.9L768,259.3L769.3,255.5L772.4,248.8ZM725.8,250.9L726.3,242L723.1,239.1L715.3,239.9L716.8,251.3L725.5,251.4ZM734.1,240.1L726.3,242L725.8,250.9L738.3,249.5ZM693.3,242.7L695.2,240.3L693.2,229.7L687.6,225.6L687.6,227.7L678.1,241.7L678.3,242.4ZM723.1,239.1L726.3,242L734.1,240.1L736.1,236.9L734.7,230.1L725.2,229.6ZM693.2,229.7L703.3,229.1L705.4,219.8L704.3,218.5L687.3,220.2L687.6,225.6ZM713.8,220.1L705.4,219.8L703.3,229.1L703.9,229.8L714.1,230L715.9,227.8ZM724.6,228.9L725.2,229.6L734.7,230.1L735.1,229.5L735,221.5L726.1,219.4L725.5,218.8ZM715.1,218.6L724.3,217.6L720.1,213.6L718.8,212.3L714.5,211.7ZM714.2,207.5L715.5,203L713.8,203.5ZM757.2,215L753.1,226.1L762.3,227L765.1,233.9L773.8,226.8L772.7,218.6L771.8,217.3ZM808.2,211.8L830.3,209.4L827.1,205.7L816.5,207L814.8,200.2L803.4,203.4ZM770.6,451.3L761.4,452.2L757.9,456.1L760.3,458.5L773.2,455.2L774,454ZM761.4,452.2L760.9,443.9L760.7,443.6L751,443.2L752.2,444.3L752.6,450.7L757.9,456.1ZM760.9,443.9L761.4,452.2L770.6,451.3L769.7,443.3ZM770.6,451.3L774,454L781.4,443.4L781.3,442.9L770.7,441.8L769.7,443.3ZM751.7,435.8L751.3,426.5L742.8,427.1L743.4,435.6L743.6,435.8L748.1,440.2ZM751.6,426.2L751.3,426.5L751.7,435.8L760.5,434.5L760,426.1L759.2,425.4ZM742.3,426.6L742.7,418.2L741.5,417L736.9,417.3L736.7,420.7L734.6,427.1ZM759.2,425.4L760,426.1L768.7,425.5L768.8,416.9L760.2,417L759.5,417.8ZM778.1,415.3L777.3,416.2L778.1,424.8L782,428.3L782.7,423.8L787.4,414.5ZM750.9,409.4L749.9,408.5L742.5,408.4L741.5,417L742.7,418.2L749.9,417.7L751.1,416.3ZM760.2,417L759.7,408.1L759.7,408.1L750.9,409.4L751.1,416.3L759.5,417.8ZM749.4,398L740.8,400.1L741.6,407.5L742.5,408.4L749.9,408.5L751,399.1ZM749.9,408.5L750.9,409.4L759.7,408.1L758.8,398.9L757.9,398.3L751,399.1ZM776,407.1L777.5,405.2L776,397.4L767.7,397.6L768.6,407.3ZM739.5,390.6L739.3,390.8L740.6,399.9L740.8,400.1L749.4,398L748.3,390.9ZM748.3,390.9L749.4,398L751,399.1L757.9,398.3L757.6,389.3L749.8,388.9ZM757.9,398.3L758.8,398.9L767.5,397.4L767,389.7L765.4,388.2L758.5,388.3L757.6,389.3ZM776.3,388.4L777.1,396.1L787.2,396L787.5,394.8L786.7,385ZM721.3,382.3L710.3,385L717.4,394.6L718.2,395.3L722.9,391.1L722.2,383ZM730.2,381.2L722.2,383L722.9,391.1L730.2,390.9L730.8,382ZM730.8,382L730.2,390.9L731.1,391.7L739.3,390.8L739.5,390.6L739.6,383.3ZM757.6,389.3L758.5,388.3L757.3,380.9L748.6,381.1L748.2,381.6L749.8,388.9ZM765.4,388.2L767,389.7L774.8,387.4L773.3,379.2L773.1,379L767.2,379.4L766.5,380.1ZM710,375.4L709.1,383.4L710.3,385L721.3,382.3L720.2,374.8ZM730.3,374.9L721.8,373.2L720.2,374.8L721.3,382.3L722.2,383L730.2,381.2ZM756.8,372L749.1,372.5L748.8,372.8L748.6,381.1L757.3,380.9L757.9,380.2L757.6,372.5ZM720.9,365.2L716.3,362L710.2,373.5L710,375.4L720.2,374.8L721.8,373.2ZM731.6,373.6L729.6,363.9L729.1,363.6L720.9,365.2L721.8,373.2L730.3,374.9ZM748.8,372.8L749.1,372.5L747.6,364.5L745.7,363.1L739.7,364.3L738.5,372.9L738.8,373.1ZM773.9,361.7L773.3,370L774,370.8L785.4,369.7L784.9,364.6L784.7,361.9ZM717.2,358.6L717.6,359.7L716.3,362L720.9,365.2L729.1,363.6L728.9,355.7L719.9,355.8ZM728.9,355.7L729.1,363.6L729.6,363.9L737.8,362.9L737.2,354.5L736.7,354.1L729.8,354.4ZM737.2,354.5L737.8,362.9L739.7,364.3L745.7,363.1L746.9,354.2L746.1,353.5ZM754.4,354L746.9,354.2L745.7,363.1L747.6,364.5L755.3,362.6ZM755.9,363L764.4,362.2L764.7,361.8L762.2,353.4L755.3,353.3L754.4,354L755.3,362.6ZM719.9,355.8L720.8,347.6L718.5,345.5L717.8,346L715.2,352L717.2,358.6ZM737.2,354.5L746.1,353.5L745.3,346.3L737.8,344.8L736.9,345.6L736.7,354.1ZM762.2,353.4L763.2,352.3L763.1,343.4L755,344.1L754.6,344.6L755.3,353.3ZM772.1,343.9L772,351.6L773.2,353L783.9,352.5L783.6,349.5L783,341.9ZM736.9,345.6L737.8,344.8L737.4,337.5L736.7,336.9L731.4,337L728.2,339.1L728.9,345.7ZM737.4,337.5L737.8,344.8L745.3,346.3L746.5,344.9L746.1,336.7L745.8,336.5ZM753.8,336.4L755,344.1L763.1,343.4L763.3,343.2L761.4,334.4L761,334.1L754.9,335.2ZM763.3,343.2L770.5,342.5L770.9,333.9L761.4,334.4ZM736.7,336.9L737.3,328.1L735.5,326.6L730.6,327.5L731,327.9L731.6,336.9L731.4,337ZM745.2,327.5L737.3,328.1L736.7,336.9L737.4,337.5L745.8,336.5L745.3,327.6ZM745.3,327.6L745.8,336.5L746.1,336.7L753.8,336.4L754.9,335.2L751.7,326.7ZM761,334.1L761.4,334.4L770.9,333.9L771.6,333L770.4,325.7L761.4,326.4ZM771.6,333L782.2,334.1L780.5,330.7L776.7,323.4L770.7,325.2L770.4,325.7ZM735.5,326.6L735.9,317.3L732.6,317.5L721.9,318.1L730.6,327.5ZM745.2,327.5L743.9,316.8L743.3,316.9L735.9,317.3L735.5,326.6L737.3,328.1ZM752.8,325.6L760.9,325.9L761.2,315.7L754,316.2L752.6,316.3ZM770.4,325.7L770.7,325.2L767.7,315.2L764.6,315.4L761.2,315.7L760.9,325.9L761.4,326.4ZM770.7,325.2L776.7,323.4L775.9,322L775.3,314.6L767.7,315.2ZM795.8,433.3L799.7,434L809,430.6L806.4,428.3L798.5,429.4ZM790.1,422.3L783,423.3L782.7,423.8L780.7,435.6L789.5,432.3L790.4,432.5ZM790.1,422.3L790.1,422.3L790.4,432.5L795.8,433.3L798.5,429.4L797.6,422.6ZM797.6,422.6L798.5,429.4L806.4,428.3L805.8,421.3L805.3,420.9L797.8,422.3ZM797.2,414.3L796.2,413.6L789.6,415.2L790.1,422.3L797.6,422.6L797.8,422.3ZM820.5,412L820.3,411.9L812.4,412.8L813.6,420.4L819.6,425.2L821.7,425.9ZM796.5,406.6L796.2,406.9L796.2,413.6L797.2,414.3L804.6,413.8L805,413.3L803.6,406.1ZM803.7,406.1L803.6,406.1L805,413.3L812,412.5L812.1,404.9L811.8,404.6ZM819.9,405.1L820.3,411.9L820.5,412L828.9,411.5L830.9,406.6L831.2,406.5L826.8,403.7ZM796.1,399.3L796.5,406.6L803.6,406.1L803.7,406.1L803.1,398.4L803,398.3ZM811.8,404.6L812.1,404.9L819.3,404.6L819,396.4L819,396.4L810.8,397.7L810.8,397.8ZM825.6,396L825.5,395.9L819,396.4L819.3,404.6L819.9,405.1L826.8,403.7ZM833.2,395.3L825.6,396L826.8,403.7L831.2,406.5L834.5,405.6ZM833.6,394.8L833.2,395.3L834.5,405.6L842.1,403.5L841.1,395.8L841,394.2ZM795.2,398.6L796.1,399.3L803,398.3L802.1,390.8L795.4,390.5L794.9,391.2ZM803,398.3L803.1,398.4L810.8,397.8L810.8,397.7L809.9,389.7L802.8,390.2L802.1,390.8ZM809.9,389.7L810.8,397.7L819,396.4L817.4,388.6L810.3,389.3ZM817.6,388.3L817.4,388.6L819,396.4L819,396.4L825.5,395.9L825.6,388.4L824.7,387.7ZM794.9,391.2L795.4,390.5L793.9,383.6L786.6,384.1L787.3,392.3ZM816.7,380.6L809.7,380.9L809.2,381.8L810.3,389.3L817.4,388.6L817.6,388.3L817.2,381.1ZM817.2,381.1L817.6,388.3L824.7,387.7L824.8,380.3ZM793.4,375.8L785.9,375.7L786.2,379.7L786.6,384.1L793.9,383.6L794,383.4ZM802.3,383L809.2,381.8L809.7,380.9L807.9,374.5L801.3,374.8L801,382ZM808,374.3L807.9,374.5L809.7,380.9L816.7,380.6L817,373.6L816.3,373ZM823.3,372.5L817,373.6L816.7,380.6L817.2,381.1L824.8,380.3L824.9,380.2ZM831.9,379.4L831.3,371.9L830.8,371.4L823.9,371.7L823.3,372.5L824.9,380.2L831.6,379.7ZM793.2,367.1L792.7,367.6L793.7,375.4L801,374.6L800,367.1L799.9,367.1ZM814.9,365.7L808.3,366.3L808,374.3L816.3,373ZM831.4,363.8L830.4,363.1L823.2,364.3L822.6,365.1L823.9,371.7L830.8,371.4ZM793.2,367.1L799.9,367.1L799.8,358.8L799.6,358.6L792.3,360.2ZM815.5,365.1L815.1,358.3L814.9,358.1L807.1,358.6L806.7,359L807.7,365.8L808.3,366.3L814.9,365.7ZM815.5,365.1L822.6,365.1L823.2,364.3L822,357.3L815.1,358.3ZM823.2,364.3L830.4,363.1L829.6,356.6L829.1,356.1L822.8,356.2L822,357.3ZM792.1,360.1L791.4,352.6L791.1,352.4L784,353.4L784.6,360.5ZM799.6,358.6L799.8,358.8L806.7,359L807.1,358.6L807.1,351.3L806.1,350.5L798.8,352.4ZM814.3,351L813.6,350.4L807.1,351.3L807.1,358.6L814.9,358.1ZM783.3,345.1L783.6,349.5L784,353.4L791.1,352.4L790.2,344.6ZM821.1,350L821.4,349.5L820.5,341.5L813.5,342.5L813.4,342.6L813.6,350.4L814.3,351ZM790.5,334.5L787.6,336L782.3,334.4L783.3,345.1L790.2,344.6L790.4,344.4ZM804.8,335.5L805.4,343.2L813.4,342.6L813.5,342.5L811.8,334.7L805,335.2ZM804.7,330.7L799.5,331.2L794.8,331.7L794,332.8L793.4,333.1L796.9,335.6L804.8,335.5L805,335.2ZM825.8,332.2L825.8,328.4L822.2,328.8L818.5,329.2L819,333.4L819.8,333.9ZM826.1,323.1L817,324.5L817.4,329.3L822.2,328.8L827,328.3ZM856,319.8L846.3,320.2L845.7,321L847.1,327L859,325.1L859.9,322.9ZM815.7,314.8L815.5,315.1L816.2,323.9L817,324.5L826.1,323.1L826.1,323.1L825.8,313.8ZM826,313.5L825.8,313.8L826.1,323.1L836.6,322.6L834.7,312.8ZM805.6,315.1L815.5,315.1L815.7,314.8L814.9,304.7L814.9,304.7L804.1,306.2L803.6,313.5ZM814.9,304.7L815.7,314.8L825.8,313.8L826,313.5L824.2,304.5ZM826,313.5L834.7,312.8L835.3,312.2L834.8,303.5L833.7,302.6L824.2,304.5L824.2,304.5ZM845,311.8L845.4,311.2L843.7,302.1L843.2,301.6L834.8,303.5L835.3,312.2ZM865.1,309.4L865.9,310.1L867.8,306.5L873.6,300.4L873.5,297.6L863.5,299.3L863.3,299.6ZM802,295.9L804.3,303.8L804.1,306.2L814.9,304.7L814.2,295.5ZM863.5,299.3L873.5,297.6L873.1,290.1L872.7,288.9L861.8,289L861.8,289ZM814.2,295.5L814.6,295L812.6,285.7L803.6,287.3L800.5,291.3L801.4,293.7L802,295.9ZM823.1,293.7L823.3,284.9L822.8,284.4L813,285.1L812.6,285.7L814.6,295ZM832,283.9L823.3,284.9L823.1,293.7L824,294.4L832.6,294.2L833.1,293.6ZM842.5,292.6L841.2,282.9L841.1,282.9L832.9,283L832,283.9L833.1,293.6L842.3,292.8ZM852.5,291.6L852.9,291L850.3,281.8L841.2,282.9L842.5,292.6ZM872.7,288.9L869.6,278.7L861.2,280L861.8,289ZM802.1,277.3L796.4,278L797.6,283.8L800.5,291.3L803.6,287.3L802.2,277.4ZM802.2,277.4L803.6,287.3L812.6,285.7L813,285.1L811.7,276.1ZM832.9,283L830.9,273.7L830.8,273.6L821.9,275.5L822.8,284.4L823.3,284.9L832,283.9ZM860.8,279.6L861.2,280L869.6,278.7L867.8,272.7L860.1,264.1L859.2,264.8ZM820,264.6L810.1,266.1L811.7,276.1L820.7,274.6L820.2,264.8ZM830.8,273.6L830.9,273.7L839.5,271.6L839.5,263.3L838.9,262.8L829.3,263.4L828.7,264.1ZM809.3,256.6L809.9,255.9L808.2,246.6L801.5,249.8L798.4,255.3L798.6,257ZM816.3,236.4L812.9,238.3L812.9,241.8L817.8,245.7L826.5,244.2L826,235.4L825.5,235ZM835.8,234.5L836.7,243.4L850.7,242.3L850.4,240.1L845.8,233L839.1,230.2ZM824.6,225.3L822.6,224.8L817.3,228.8L818.9,235L816.3,236.4L825.5,235ZM868.6,393.8L861.3,394.7L862.4,404.2L865.6,405L871.7,402.9ZM871.7,402.9L878,400.7L878,400.8L876.9,392L869.5,392.6L868.6,393.8ZM894.7,390L886.4,391.3L886.1,399.2L892.6,398.4L893,394.1L896.6,391.3ZM850.1,386.7L840.2,387.6L841.1,395.8L847.4,395L850.2,397.9L851.5,396.1L850.6,387.1ZM851.5,396.1L860.6,394.1L860,386.6L850.6,387.1ZM860.6,394.1L861.3,394.7L868.6,393.8L869.5,392.6L868.2,385.3L867.9,385.2L860.1,386.3L860,386.6ZM869.5,392.6L876.9,392L877.7,390.9L875.7,383.7L868.2,385.3ZM875.7,383.7L877.7,390.9L885.3,390.3L885.2,383.2L883.9,382.1L876.4,382.4ZM885.2,383.2L885.3,390.3L886.4,391.3L894.7,390L892.8,381.4L892.7,381.3ZM866.9,376.6L867.9,385.2L868.2,385.3L875.7,383.7L876.4,382.4L874.8,375.9ZM848.8,370L850.2,378.6L850.5,378.8L856.7,377.4L857.1,369.2ZM857.1,369.2L856.7,377.4L858.8,378.8L866.2,376.2L865,369.5L857.1,369.2ZM875.2,375.2L873.9,367L866.8,367.3L865,369.5L866.2,376.2L866.9,376.6L874.8,375.9ZM890.5,373.6L892,372L890.2,363.8L882.4,365.4L884,373.6L884.3,373.8ZM899.8,363.2L899.2,364L899.8,371.4L900,371.6L909.1,370.2L907.2,362L906.4,361.4ZM909.1,370.2L912.8,372.7L916.1,369.7L917.4,360.1L907.2,362ZM847.9,369.4L848.1,361.5L847.7,361.2L837.4,362.3L838.1,369.1L838.5,371.8ZM864.4,360.3L866.8,367.3L873.9,367L874.5,366.2L873.3,358.9L871.8,357.7L864.6,359.9ZM873.3,358.9L874.5,366.2L882.1,365.2L881.4,356.7L880.8,356.2ZM882.1,365.2L882.4,365.4L890.2,363.8L890.3,363.7L890.4,356.8L889.5,356.2L881.4,356.7ZM914.2,352.2L906.5,353.6L906,354.1L906.4,361.4L907.2,362L917.4,360.1L918.2,354.5ZM847.7,361.2L847.4,353.8L846.5,353.1L836.4,353.4L836.6,355.7L837.4,362.3ZM873.3,358.9L880.8,356.2L879.7,349.7L879.1,349.4L871.6,349.9L871.1,350.5L871.8,357.7ZM890.4,356.8L896.8,354.7L897.2,354.1L896.5,346.8L896,346.3L888.1,346.6L887.6,347.3L889.5,356.2ZM906,354.1L906.5,353.6L904.4,345.7L896.5,346.8L897.2,354.1ZM912.7,342.5L912.1,343.4L914.2,352.2L918.2,354.5L918.4,353.6L918.5,344.7L918.1,342.2ZM846.5,353.1L846,344.2L845.6,343.9L835.6,346.8L836.4,353.4ZM879.1,349.4L879.7,349.7L887.6,347.3L888.1,346.6L886.1,339.2L878.7,339.5L878.3,340ZM902.8,336.8L905.3,344.5L912.1,343.4L912.7,342.5L911.5,335.2L911.5,335.2L903.1,336.3ZM878.7,339.5L876.7,332.8L868.9,333.5L869.5,342.1L878.3,340ZM886.1,339.2L886.7,338.5L885.5,327.4L879.2,328.3L876.7,332.8L878.7,339.5ZM886.7,338.5L894.2,337L894.1,329.7L890,326.7L887.1,327.1L885.5,327.4ZM860.4,333.1L859,325.1L859,325.1L851.4,326.3L852.4,334.8L853.2,335.3ZM860.4,333.1L861.6,333.8L867.9,332.7L868.1,327.4L867.9,327.3L859,325.1ZM879.2,328.3L873.9,329L868.1,327.4L867.9,332.7L868.9,333.5L876.7,332.8ZM894.1,329.7L901.6,328.4L902.1,327.6L900,319.5L892.7,326.3L890,326.7ZM909.4,317.8L914,317.3L912.9,310.8L906,315.3ZM947.3,363.9L952.6,362.9L958,361.9L955.3,354.4L946.3,354.6ZM964.8,352.1L956.7,351.9L955.3,354.4L958,361.9L962.7,361L967.1,360.2ZM994.4,344.4L993.7,344.1L983.6,346.2L986.2,356.5L992.9,355.1L993.1,355.1ZM1000.5,342.6L994.4,344.4L993.1,355.1L1002.9,353.1L1004.5,352.7ZM1011.7,342.2L1012.9,350.9L1013,350.9L1016,347.4L1019.6,347.4L1025.1,343.5L1026.9,340.7L1019.8,337.5L1013.9,339.5ZM943.9,346.9L934.1,344.5L933.4,345.3L935.4,356.6L936.9,357.2L944.5,353ZM960.3,341.5L955.5,343.6L956.7,351.9L964.8,352.1L967.3,347.4L963.7,342.5ZM981.6,338.1L979.4,341.6L983.6,346.2L993.7,344.1L990,337.2ZM1017.6,330.1L1019.8,337.5L1026.9,340.7L1030.3,335.7L1023.2,330.7L1020,326.4ZM974.9,328L970.4,335L978.3,341L979.3,341.6L979.4,341.6L981.6,338.1L981.3,328.8L977.1,326.5ZM1008.9,322.2L1010.7,329.4L1017.6,330.1L1020,326.4L1019,325L1018.6,317.3ZM951.9,329.2L945,324.4L941.8,325.6L939.7,332.5L947.8,337.4L952.1,331.4ZM958.4,321.1L956,322.3L951.9,329.2L952.1,331.4L960.6,332.9L963.6,330L963.8,328L963.1,324.3ZM999.8,323.5L1008.1,322L1005,311.1L997.7,312.8L995.5,318.2ZM1015.2,310.7L1006.6,309.7L1005,311.1L1008.1,322L1008.9,322.2L1018.6,317.3L1018.6,317.2L1019.5,315.6ZM946.6,315.9L937.4,314.7L935.1,318.2L941.8,325.6L945,324.4L947.6,319.8ZM958.4,321.1L958.3,314.1L957.1,312.9L949.2,312.8L946.6,315.9L947.6,319.8L956,322.3ZM971.5,319.3L964.8,312.2L958.3,314.1L958.4,321.1L963.1,324.3ZM967.1,308.5L973.9,306.8L974,298.9L967.9,300.1L961.6,301.3ZM973.9,306.8L976.7,310L985.6,306.6L984.1,296.9L978.1,298.1L974,298.9ZM1045.5,314.6L1044.4,315.2L1044.4,315.2L1044.8,313.7L1043.9,312.5L1041.2,312.8L1040.8,318.7L1040.8,320.2L1042.9,321.4L1048.9,319.3ZM1063.7,311.1L1068.3,308L1078.8,299.4L1070.1,299.5L1065.7,305.5L1061.1,307.2ZM961,297.8L958.7,301.9L967.9,300.1L973.5,299L973,296.8L971.4,295.9ZM973.5,299L978.1,298.1L983.9,296.9L977.6,292.6L973,296.8ZM1005.7,273.5L1010.2,280.1L1018,276.8L1015.4,268.4L1007.4,268.7L1007.3,269ZM1022.4,279L1026.2,268.4L1023.8,265.7L1020.8,264.6L1018.5,265.1L1015.4,268.4L1018,276.8ZM1037.3,260.7L1034.9,270.1L1042.4,271.1L1042.4,264L1041.2,258.7ZM956,279.7L957.5,280.2L965.4,275.5L965.8,273L962.2,267.8L960.8,268.2L953.9,268.4ZM1010.2,246.7L1008.1,246.2L1003.1,249.5L1005.7,259.4L1012.8,256.9L1013.7,255.2ZM1017.5,243.3L1010.2,246.7L1013.7,255.2L1021.2,252.6L1020.3,245.7ZM1020.3,245.7L1021.2,252.6L1023.1,254L1028.8,254.1L1030.3,250.9L1028.1,243.7ZM985.5,253.5L991.5,250.2L990.6,243.8L987.2,242.2L980.9,244.5L982.9,247.2L984.3,253.8ZM1002.1,249.3L996.3,240.7L990.6,243.8L991.5,250.2L994.8,252.6ZM1003.1,249.5L1008.1,246.2L1004.8,235.6L1001.9,233.5L1000.3,233.7L996.3,240.7L1002.1,249.3ZM1017.7,236.4L1016.1,235.4L1004.8,235.6L1008.1,246.2L1010.2,246.7L1017.5,243.3ZM1024.7,233.3L1017.7,236.4L1017.5,243.3L1020.3,245.7L1028.1,243.7L1029.4,241.7ZM987.2,242.2L990.6,243.8L996.3,240.7L1000.3,233.7L990,226.9L987.1,231.8L986,233.1ZM1041.6,223.6L1042.2,219.6L1040.1,216.6L1028.9,215.1L1032,227.6ZM1060.8,209.6L1059.6,199.7L1048.8,202.5L1047.3,202.9L1048.5,204.2ZM1076.1,238.1L1077,246.2L1085.1,249.8L1085.9,249.6L1086.2,249.5L1086.2,249.5L1086.7,244L1079.4,237.2L1078.9,235.5ZM1073.3,217.2L1069.8,206.1L1065,190.5L1059.9,193.8L1059.6,199.7L1061.2,212.8L1059.8,215ZM1113.3,192.7L1095.3,198.1L1106.6,214.8L1108.6,213L1112.3,209.2L1111.4,202.8L1114.2,202.3ZM1074.2,150.6L1074.1,150.9L1075.2,158.1L1072.4,164.7L1075,170.6L1073.8,176.2L1070.5,183.2L1090.2,186.5L1094.7,180.5L1077,151.7ZM1083,205L1091.7,196.4L1090.2,186.5L1070.5,183.2L1069.1,186.3L1069.3,190.7L1065,190.5L1066.1,193.9ZM1073.5,269.3L1067.2,268L1064.7,271L1068.8,276.6L1073.7,275.4L1074.7,275.2ZM1084,272.4L1084.4,268.7L1076.3,266L1073.5,269.3L1074.7,275.2L1081.4,273.4L1081.7,274.6ZM1073.5,269.3L1076.3,266L1075.4,262.5L1066.9,260.1L1067.2,268ZM1066.9,260.1L1075.4,262.5L1085.6,249.6L1082.6,250.4L1078.4,256.1L1067.8,258.5L1066.1,258.9ZM1078.2,278.9L1078.5,279.1L1083.8,277.9L1082.2,276.4L1081.4,273.4L1077.4,274.5ZM1047.9,284.6L1050.9,291.1L1056.4,290.6L1057.6,288.7L1056.8,279.3L1052.9,280.2L1049.7,280.9ZM1029.2,357.5L1029,351.6L1026.4,348.9L1018.2,351L1017.9,351.7L1019.6,354.8L1024.6,359.5L1027.4,360.2ZM1036.1,350.7L1036.8,355.4L1039.1,357.3L1041.3,353.1L1042.5,346.6ZM1034.7,349.8L1032.6,344L1028.4,343.9L1026.4,348.9L1029,351.6ZM1038.9,339.2L1032.6,344L1034.7,349.8L1036.1,350.7L1042.5,346.6L1043.5,341.2ZM1036.6,324.1L1033.9,325.8L1034.2,333.9L1036,334.5L1042.7,325.1L1040.8,324.8L1037.7,324.7L1038,324.3ZM1033.1,319.5L1036.6,324.1L1038,324.3L1040.6,320.1L1040.8,320.2L1040.8,318.7L1041.1,313.7ZM1030.3,307L1024.3,305L1021.1,312.6L1018.6,317.2L1018.6,317.7L1027.2,319.1ZM1027.2,319.1L1027.2,319.1L1033.1,319.5L1041.1,313.7L1041.3,310.6L1030.3,307ZM1023.8,374.6L1019.8,375.8L1021.6,382.4L1025.9,381.5ZM1027.3,383L1033.5,386.7L1034.2,379.8L1027.1,381.3ZM1004.4,382.4L999.6,378.3L993.2,378.7L993.8,379.2L991.5,388.9L993.8,390ZM1016.3,381L1013.9,375.6L1009.6,375.9L1010.2,381.1L1014.6,384.9ZM1004.9,382.4L1005.7,383.2L1005.4,381.3ZM1015.3,372.8L1013.9,375.6L1016.3,381L1020.5,378.4L1018.7,371.9ZM992.4,370.8L992.1,377.8L993.2,378.7L999.6,378.3L999.7,370.4L997.2,369.1ZM999.7,370.4L999.6,378.3L1004.4,382.4L1004.9,382.4L1005.4,381.3L1004.4,373.1L1003.6,369.1ZM1009.3,366.7L1009,370.8L1009.6,375.9L1013.9,375.6L1015.3,372.8ZM977.2,367.1L978.1,368.6L982.9,370.8L983.6,371.4L982.7,367.1ZM990.1,369.6L992.4,370.8L997.2,369.1L996.3,362.8L991.8,361.6L988.6,364.6ZM945.3,364.2L942.5,364.7L942.3,364.7L942.3,364.7L944.6,378L949.6,371.3ZM980.7,357.6L972.8,359.1L964.9,360.6L965.1,362.8L967.1,361.3L974.2,362L977.2,367.1L982.7,367.1L984.6,363.8ZM991.8,361.6L990.3,355.7L982.8,357.2L980.7,357.6L984.6,363.8L988.6,364.6ZM998.5,361L1000.5,353.6L992.9,355.1L990.3,355.7L991.8,361.6L996.3,362.8ZM1010.5,362.8L1016,362.1L1013,350.9L1005.9,352.4L1007.8,356.7L1008,356.5L1009.7,360.1L1009.7,360.9ZM1022.5,404.8L1021.9,407.7L1024,417.3L1028.5,404.9L1028.7,404.5ZM1024.3,395.5L1022.5,404.8L1028.7,404.5L1030.3,399.6ZM1030.3,399.6L1032.9,392.1L1032.9,391.5L1032.8,391.6L1025.1,393.8L1023.7,394.5L1024.4,395.3L1024.3,395.5ZM952.3,444.8L951.7,444.4L941.8,444.6L940.9,447.3L944,446.8L952.4,445.5ZM980.2,436L978,437.6L978.7,440.9L986.4,439.6L987.1,439.4ZM1009.6,431.7L1008.1,430.3L1005.5,436L1007.6,435.6L1010.4,435ZM1010.4,435L1018.1,433.5L1019.1,433.3L1009.6,431.7ZM1023.6,428.3L1019.7,431.4L1019.6,433.2L1028.7,431.3L1030.6,430.9L1027.8,427ZM910.4,444.3L908.5,446.9L908.8,452.1L912.1,451.7L919.9,450.5ZM913.9,442.1L910.6,443.7L910.4,444.3L919.9,450.5L922.8,450.1L922.8,450.1L919.7,442.6ZM934,440.8L930.2,441.7L927.1,449.5L933.4,448.5L937.3,447.9ZM951.7,444.4L945,437.5L941.7,437.3L941.2,437.8L941.8,444.6ZM949.9,434.1L945,437.5L951.7,444.4L952.3,444.8L955.5,440.1L955.7,435.9L955.2,435.3ZM955.5,440.1L965.5,443.3L966.5,443.1L966.5,441.7L959,434.9L955.7,435.9ZM966.5,441.7L969.1,434.2L962,432.2L959,434.9ZM975.6,436.8L971.6,433.4L970.3,433.3L969.1,434.2L966.5,441.7L966.5,443.1L973,442ZM971.6,433.4L975.6,436.8L978,437.6L980.2,436L982.1,429.7L976.8,429.7ZM1004.5,427.5L996.7,425.5L993.8,429.1L999.8,434ZM1000.3,437L1005.5,436L1008.1,430.3L1007,426.9L1006.1,426.8L1004.5,427.5L999.8,434ZM1019.7,431.4L1016.9,427.4L1007.2,426.8L1007,426.9L1008.1,430.3L1009.6,431.7L1019.1,433.3L1019.6,433.2ZM1019.7,431.4L1023.6,428.3L1022.7,423L1018,423.1L1017.2,421L1016.9,427.4ZM1023.6,428.3L1027.8,427L1024.8,422.9L1022.7,423ZM915.6,433.7L914.1,436L913.9,442.1L919.7,442.6L921.2,438.6ZM946.2,426.9L941.8,430.5L941.3,435L941.7,437.3L945,437.5L949.9,434.1L948.6,429.1ZM955.7,435.9L959,434.9L962,432.2L961.6,430L957.6,427.8L955.2,430L955.2,435.3ZM962,432.2L969.1,434.2L970.3,433.3L969.3,428.5L963.8,426L961.6,430ZM993.1,429.3L987.5,421.9L987.3,421.9L983,424.7L982.4,429.5L989.3,433ZM1010.9,419.1L1010.4,419.4L1007.2,426.8L1016.9,427.4L1017.2,421L1017,420.6ZM890.8,443.2L891.1,443.3L898.9,438.5L899.1,432.7L897,435.3L890.2,442.8ZM905,428.9L902.7,428.2L899.1,432.7L898.9,438.5L902.5,440.3L906.5,437.4ZM915.6,433.7L915.3,431.9L905,428.9L906.5,437.4L907.5,438.1L914.1,436ZM926.4,434.1L923,429.7L916.9,432.3L915.3,431.9L915.6,433.7L921.2,438.6L925.8,436.2ZM926.4,434.1L931.2,431.7L932.1,430.3L933,427.4L932,425.8L926.5,428.2L923,429.7ZM941.8,430.5L937.1,427.1L933,427.4L932.1,430.3L941.3,435ZM946.4,424L945,423L940.5,421.6L937.1,427.1L941.8,430.5L946.2,426.9ZM963.8,426L962.9,423L960.8,422.1L957.5,423.3L957.6,427.8L961.6,430ZM977.4,416.6L970.3,417.1L968.5,417.8L968.2,420.2L971.5,424L974.3,423.7L977.7,421ZM983,424.7L987.3,421.9L986.9,417.9L983.5,415.2L977.5,416.5L977.4,416.6L977.7,421ZM986.9,417.9L987.3,421.9L987.5,421.9L995.8,420.3L991.5,413.9ZM999.3,419L1001.7,420.2L1006.8,418L1003.7,413L999.9,415.8ZM1010.9,419.1L1017,420.6L1015.7,416.9L1014.8,407.9L1014.7,407.8L1013,408.7L1011.7,410.1ZM933,427.4L937.1,427.1L940.5,421.6L937.9,417.6L936,424L932,425.8ZM960.8,422.1L962.9,423L968.2,420.2L968.5,417.8L966.1,414.8L960.5,415.4ZM966.1,414.8L968.5,417.8L970.3,417.1L972.6,408.3L972,407.7L967.8,407.7ZM977.5,416.5L976,410.4L972.6,408.3L970.3,417.1L977.4,416.6ZM990.5,410.6L985.5,407.7L984.9,408.1L983.5,415.2L986.9,417.9L991.5,413.9L991.6,413.6ZM999.9,415.8L1003.7,413L1004.2,411.8L1001.2,407.4L998.8,406L998.4,406.3L996.6,412.7ZM959.8,414.8L960.5,415.4L966.1,414.8L967.8,407.7L964,405L959.7,406.8ZM975.5,400L972,407.7L972.6,408.3L976,410.4L981,407.8L977.8,400.7ZM981,407.8L984.9,408.1L985.5,407.7L986.6,403.9L983.7,399.9L977.8,400.7ZM994.8,406.6L989.9,402.6L986.6,403.9L985.5,407.7L990.5,410.6ZM991.4,400.4L989.9,402.6L994.8,406.6L998.4,406.3L998.8,406L999.2,402.1ZM999.2,402.1L998.8,406L1001.2,407.4L1006.5,405L1005,398.8L1000.5,399.7ZM941.8,404.1L941.4,405.8L945,408.9L952,411.4L953.9,407.5L949.7,404.1ZM983.7,399.9L984.6,396.5L980.9,394L975.3,399.4L975.5,400L977.8,400.7ZM997.7,395.3L991.5,396.1L991.4,400.4L999.2,402.1L1000.5,399.7ZM964.6,399L966.7,396.3L963.8,391L958.2,393.7L960.8,397.9ZM979.8,388.8L979.4,389.4L980.9,394L984.6,396.5L985.9,395.6L985.5,390.3ZM991.1,389.7L990.9,395.6L991.5,396.1L997.7,395.3L998.4,392L997.1,391.7L992.1,389.2ZM963.8,391L963.3,387.3L958.9,385.4L958.7,386L954.8,392.6L958.2,393.7ZM986.5,382L984.4,382.2L979.9,387.9L979.8,388.8L985.5,390.3L988.3,388.6ZM969.8,384.4L975.9,373.5L969.7,370.7L967,379.7L968.7,384.2ZM977,373.3L976.9,373.9L975.9,373.5L969.8,384.4L969.8,384.5L975.9,383.6L978.5,377.7ZM969.7,370.7L965.5,368.9L961.6,378.7L967,379.7ZM996,502.8L992.8,501.4L983.9,507.4L987.8,510.1L988.7,510.8L990.3,509.3L996.7,507L998.3,506.9ZM1000.1,498.1L996,502.8L998.3,506.9L1002.3,506.5L1003.7,501.5L1005.2,498.6ZM992.8,501.4L996,502.8L1000.1,498.1L998.6,491.6L993.8,490.1L990.1,492.8L989.8,493.4ZM1000.1,498.1L1005.2,498.6L1008,493L1009.2,491.8L1003.8,489.7L998.6,491.6ZM978.4,497.6L977.1,488.8L969.9,486.4L962.9,490.4L962.1,491.9L974,500.4L976.1,501.9ZM977.1,488.8L978.4,497.6L989.8,493.4L990.1,492.8L983.1,484.7L980.5,484.5ZM984.6,483.6L983.1,484.7L990.1,492.8L993.8,490.1L994.1,483L994,482.9ZM994.1,483L993.8,490.1L998.6,491.6L1003.8,489.7L1002.5,481.9L1000.5,480.9ZM1016.2,480.3L1010,475.1L1007.8,480.1L1013.2,487.8L1015,486L1016.8,484.9ZM865.4,492.5L863.7,494.6L863.9,500L874.8,498.5L873.1,494.7ZM943.4,483.9L942.5,483.7L933.9,488.2L937.5,494L945.6,492.8ZM955.8,491.3L960.4,490.6L962.1,491.9L962.9,490.4L961.2,481.5L956.4,478.6L951.1,483.5ZM966.2,477.4L961.2,481.5L962.9,490.4L969.9,486.4L970.6,479.4ZM970.6,479.4L969.9,486.4L977.1,488.8L980.5,484.5L977.8,477.8L973.8,477.7ZM980.5,484.5L983.1,484.7L984.6,483.6L988.2,474.8L980.2,474.7L977.8,477.8ZM1007.6,472.2L1000.1,472.9L1000.5,480.9L1002.5,481.9L1007.8,480.1L1010,475.1L1010,473.9ZM1026.6,463.5L1026.5,474.5L1031.2,476.2L1033.3,473.3L1036.8,469.8L1027.1,462.8ZM873.1,494.7L874.4,483.9L870.9,485.9L865.4,492.5ZM873.1,494.7L874.8,498.5L876.5,498.3L882.5,497.4L879,481.4L874.4,483.9ZM882.5,497.4L889.1,496.5L893,494.4L882.7,479.3L879,481.4ZM906.8,483.7L900.4,481.6L898.8,482.6L896.4,492.7L902.7,489.3L909.2,488.7ZM914.3,478.7L911.4,478.6L906.8,483.7L909.2,488.7L916.7,487.9L917.1,487.9ZM930.3,479.3L932.6,487.8L933.3,487.3L933.9,488.2L942.5,483.7L939.4,476.9L936.1,475.5ZM948.5,473.5L944.5,472.2L939.4,476.9L942.5,483.7L943.4,483.9L947.2,482.7ZM961.2,481.5L966.2,477.4L964.3,471L958.5,471.7L955.8,473.4L956.4,478.6ZM970.9,469.5L966.4,468.4L964.3,471L966.2,477.4L970.6,479.4L973.8,477.7ZM980.2,474.7L988.2,474.8L989.2,474.4L989.7,466.2L983.2,465.1L979,469.4ZM999.9,472.8L1000.1,472.9L1007.6,472.2L1006.6,464.8L999,463.6L997.5,465.1ZM1016,470.8L1016.9,467.9L1012.8,462.3L1007.6,463.8L1006.6,464.8L1007.6,472.2L1010,473.9ZM1038.1,458L1031.6,457.7L1027.1,462.8L1027.1,462.8L1036.8,469.8L1039,467.7L1039.9,466.7ZM1038.1,458L1039.9,466.7L1044.2,462L1043.9,455ZM892.4,472.2L887.1,476.7L898.8,482.6L900.4,481.6L902.1,475.1L901.3,474ZM900.4,481.6L906.8,483.7L911.4,478.6L907.1,474.2L902.1,475.1ZM952.5,471.9L950.8,464.4L943.6,464.9L942.6,466.7L944.5,472.2L948.5,473.5ZM966.4,468.4L965.7,462.7L965.3,462.4L957.6,464.3L958.5,471.7L964.3,471ZM975.3,467.9L974.5,459.4L965.7,462.7L966.4,468.4L970.9,469.5ZM983.2,465.1L989.7,466.2L990.6,465.5L989.8,458.3L985.6,454.4L981.8,462.1ZM1006.6,464.8L1007.6,463.8L1005.1,455.1L999.5,456.1L999,463.6ZM1007.6,463.8L1012.8,462.3L1015,455L1008.2,452.9L1005.1,455.1ZM1017.7,454.8L1027.1,462.8L1031.6,457.7L1030.7,452.4L1024.3,448.8ZM901.3,474L902.1,475.1L907.1,474.2L909.4,469.9L907.9,462.4L907.2,462L905.5,465.4L901.2,467.2ZM933.1,459.5L925.8,459.6L924.9,466.3L927,468.9L934.5,468.7L934.5,468.6L934.2,460.4ZM934.5,468.6L942.6,466.7L943.6,464.9L941.5,459.3L934.2,460.4ZM943.6,464.9L950.8,464.4L952.8,461.7L953,459.1L950.5,457.4L942.1,458L941.5,459.3ZM985.6,454.4L984.8,452.1L982.4,451.4L975.1,453.8L974.6,459.3L981.8,462.1ZM984.8,452.1L985.6,454.4L989.8,458.3L997.6,454.9L988.9,449ZM988.9,449L997.6,454.9L998.2,454.9L998.8,447.6L990.4,445.9ZM907.9,462.4L913.7,462.2L917.8,455.6L911.8,452.4L907.2,462ZM934.1,452.9L928.8,449.2L923.9,449.9L923,453.5L925.5,459.1L925.8,459.6L933.1,459.5ZM941.2,450.9L942.1,458L950.5,457.4L946.9,446.4L944,446.8L943.3,446.9ZM950.5,457.4L953,459.1L959.2,454.3L952.8,445.4L946.9,446.4ZM966.5,443.1L965.2,443.3L954.6,445.1L952.8,445.4L959.2,454.3L962,454.5ZM989.8,438.9L986.4,439.6L979.3,440.8L982.4,451.4L984.8,452.1L988.9,449L990.4,445.9ZM990.4,445.9L998.8,447.6L999.5,447L995.2,437.9L989.8,438.9ZM1006,444.5L1006.2,444.1L1005,436.1L997,437.6L995.2,437.9L999.5,447ZM1017.1,434.7L1027.5,440.8L1035.2,437.9L1031.2,431.7L1030.6,430.9L1028.7,431.3L1018.1,433.5L1016.8,433.8ZM949.8,557.6L937.7,554.7L935.6,555.4L940.4,561.9L947.4,564.7L947.7,564.8L948,564L951.4,559.5ZM949.8,557.6L951.8,550.5L942.3,549.3L937.7,554.7ZM949.8,557.6L951.4,559.5L954,556L958.4,550.1L954.3,547.6L951.8,550.5ZM937.7,554.7L942.3,549.3L945.4,541.9L934.7,539.5L930.1,543.5L933.5,552.5L935.6,555.4ZM934.7,539.5L935.6,535L932.6,530.3L923.5,530.8L921.6,534.5L929.8,542.7L930.1,543.5ZM946.3,541.3L943.8,531.3L943.5,531.2L935.6,535L934.7,539.5L945.4,541.9ZM952.8,541.8L954.5,540.1L954.3,528.9L951.8,527.7L943.8,531.3L946.3,541.3ZM968.3,539.6L959.5,527.2L954.3,528.9L954.5,540.1ZM935.4,524.2L932.6,530.3L935.6,535L943.5,531.2L938.2,523.1ZM961,520.2L961.1,525.3L968.4,525.5L971.5,518.7L964,517ZM975.3,516.7L971.5,518.7L968.4,525.5L975.5,533.3L977,532L979,524L981,520L981.6,519.2ZM903.2,520.8L909.7,526L916,522.9L913.8,514L906.3,514ZM925.1,517.3L915.7,513.1L913.8,514L916,522.9L922.9,523.5L925.1,520ZM939.8,520L943.3,517.4L936.7,509.1L931.3,513.9ZM954.1,515.4L954.7,513L950,507.1L945.6,510.4L943.4,517.4L948.6,519.2ZM954.1,515.4L961,520.2L964,517L963.8,506.8L954.7,513ZM964,517L971.5,518.7L975.3,516.7L970.9,506.4L964.1,506.3L963.8,506.8ZM970.9,506.4L975.3,516.7L981.6,519.2L985.4,514L988.7,510.8L987.8,510.1L976,501.8ZM904.3,507.3L906.3,514L913.8,514L915.7,513.1L918.4,504L912.6,502.8ZM931.3,513.9L936.7,509.1L937.4,502.3L937.4,502.2L930.4,501.1L925.5,504.7L927.1,514.3ZM937.4,502.2L937.4,502.3L945.6,510.4L950,507.1L950.5,502.2L944.7,499.7L938.9,500.9ZM963.8,506.8L964.1,506.3L960.7,501.4L955.6,500L950.5,502.2L950,507.1L954.7,513ZM960.7,501.4L964.1,506.3L970.9,506.4L976,501.8L974,500.4L964.8,493.8ZM919.5,503.5L925.5,504.7L930.4,501.1L929.2,496.9L924.8,492.3L920.1,493.5L919.1,495.4ZM938.3,493.8L937.5,494L934.5,489.2L929.2,496.9L930.4,501.1L937.4,502.2L938.9,500.9ZM944.7,499.7L950.5,502.2L955.6,500L953.8,491.6L949,492.3L946.4,492.7ZM955.6,500L960.7,501.4L964.8,493.8L960.4,490.6L953.8,491.6ZM908.8,493.4L910.7,495.4L919.1,495.4L920.1,493.5L916,488L909,488.7ZM924.8,492.3L926.4,486.9L916.7,487.9L916,488L920.1,493.5ZM924.8,492.3L929.2,496.9L934.5,489.2L933.3,487.3L931,489L930.6,486.4L926.4,486.9ZM898.3,608.7L900.7,608.6L910.5,607.8L909.7,605.6L905.8,603.1L900,606.4ZM915,599.7L909.7,605.6L910.5,607.8L912.4,607.7L918.2,607.2L919.4,602.5L919.3,602.4ZM923.4,602.7L919.4,602.5L918.2,607.2L924.1,606.7L926.9,609.9ZM928.2,599.7L923.4,602.7L926.9,609.9L928.1,611.3L927.8,601.5L930.2,601.3ZM863,598.9L860.9,599.6L861.8,603.8L864.9,609.5L869.6,605.3L869.1,601.8ZM876.2,602.3L869.3,601.7L869.1,601.8L869.6,605.3L873.8,610.3L877.4,610.1L879.9,610ZM883.8,600.3L878.9,598.5L876.2,602.3L879.9,610L884.3,609.7ZM892.7,600.7L886.5,597.3L883.8,600.3L884.3,609.7L889,609.4L893,609.1ZM913.2,595.5L915,599.7L919.3,602.4L922.1,595.2L914.7,594.4ZM932.5,591L932.1,590.8L930.8,590.9L927.4,594L928.2,599.7L930.2,601.3L937.3,600.7ZM872,592L863.8,596.9L863,598.9L869.1,601.8L869.3,601.7L875.2,593.5ZM875.2,593.5L869.3,601.7L876.2,602.3L878.9,598.5L875.9,593.4ZM878.9,598.5L883.8,600.3L886.5,597.3L887.1,592.1L885.5,591.1L876.5,592.7L875.9,593.4ZM900.5,587.9L894,591.6L896.5,596.9L898.4,597.5L901.9,596.6L903.9,590.5L902.3,588.8ZM914.7,594.4L922.1,595.2L924.7,593.6L921,589.3L917,589.9ZM863,598.9L863.8,596.9L864.1,589.7L859,589.1L859.1,589.9L860.9,599.6ZM885.5,591.1L883.3,585.2L880.3,583.7L876.8,588.2L876.5,592.7ZM891.7,584.3L885.7,583.4L883.3,585.2L885.5,591.1L887.1,592.1L891.2,590.5ZM899,583.1L900.5,587.9L902.3,588.8L907.9,582L902,580.3ZM902.3,588.8L903.9,590.5L908.6,591.1L912.5,583.2L911.8,582.3L909.4,581.7L907.9,582ZM921,589.3L921.9,586.3L920.7,582.3L913.2,583.4L917,589.9ZM928.1,580.1L922.4,580L920.7,582.3L921.9,586.3L928.4,586.7ZM932.1,590.8L935.3,585.4L933.8,579L928.9,579.5L928.1,580.1L928.4,586.7L930.8,590.9ZM940.9,585.4L942,580L942.5,578.5L935.9,577.2L933.8,579L935.3,585.4ZM864.1,589.7L866.1,587.5L863.4,582.8L860.7,582.2L858.6,582.5L859,589.1ZM872.3,581.5L867.3,578.3L863.4,582.8L866.1,587.5L868.2,587.5L871.7,583.8ZM880.3,583.7L878.7,580.1L876.1,579.2L872.3,581.5L871.7,583.8L876.8,588.2ZM893.2,579.7L889.8,576.9L886.6,578.3L885.7,583.4L891.7,584.3L893.6,581ZM898.6,574L893.2,579.7L893.6,581L899,583.1L902,580.3L901.8,574.8ZM909.4,581.7L911.8,582.3L914,576L912.5,573.6L905.5,573.3ZM935.9,577.2L942.5,578.5L944,574L944.7,572.2L938.8,568.4L934.8,570ZM860.7,582.2L863.4,582.8L867.3,578.3L866.3,573.8L862.4,573.1ZM874.2,572.3L876.1,579.2L878.7,580.1L881.9,577.5L882.2,571.2L881.8,570.8L874.8,571.8ZM905.2,570.6L900.9,566.3L896.1,567.4L895.4,569.2L898.6,574L901.8,574.8L905,573ZM914.8,567.3L913.7,567.7L912.5,573.6L914,576L920.1,575L921.2,572.4ZM923.8,570.6L923.9,563.8L917,564.1L914.8,567.3L921.2,572.4ZM923.8,570.6L927.2,571.8L933.4,569.1L931.3,563.4L926.1,561.2L923.9,563.8ZM944.7,572.2L947.7,564.8L947.4,564.7L941.6,562.4L938.8,568.4ZM874.8,571.8L881.8,570.8L882.3,563.9L882,563.6L878.8,562.7L875.9,564.5ZM882.3,563.9L881.8,570.8L882.2,571.2L889.5,572.2L890.1,571.4L887.2,564.3ZM891.7,561.2L887.2,564.3L890.1,571.4L895.4,569.2L896.1,567.4L894.2,562.7ZM894.2,562.7L896.1,567.4L900.9,566.3L903.2,561.9L901.6,559.3L900,559ZM900.9,566.3L905.2,570.6L909.4,566.1L908.1,562.9L903.2,561.9ZM917,564.1L915.1,558.8L910.9,558.4L908.1,562.9L909.4,566.1L913.7,567.7L914.8,567.3ZM862,564.5L860.3,559.7L856.8,557.8L853.5,559.2L857.9,570.5ZM862,564.5L868.4,564.1L869,563.4L869.3,558.8L865.6,556.5L860.3,559.7ZM878.8,562.7L882,563.6L884.9,555.8L883.5,554L878.7,553.9L876.1,556.7ZM884.9,555.8L882,563.6L882.3,563.9L887.2,564.3L891.7,561.2L890.9,556.8ZM890.9,556.8L891.7,561.2L894.2,562.7L900,559L896.1,553.7L893.3,553.4ZM916.7,553.4L912.3,551L908.5,554.3L910.9,558.4L915.1,558.8L916.6,557.3ZM851.1,551.8L852.4,556.4L853.5,559.2L856.8,557.8L858,553.2ZM869.3,558.8L872.6,556.4L871.3,551.8L867.6,550.8L864.8,553.7L865.6,556.5ZM876.1,556.7L878.7,553.9L877.4,549.9L874.1,548L871.3,551.8L872.6,556.4ZM883.5,554L884.9,555.8L890.9,556.8L893.3,553.4L891.7,548.6L888.2,546.3L885.4,548.5ZM896.1,553.7L900.4,551.2L899.1,545.5L897.6,545.2L891.7,548.6L893.3,553.4ZM900.8,544.6L899.1,545.5L900.4,551.2L905.1,552.8L906.4,545.3ZM919.2,546.5L920.9,549.6L923.6,550.9L929.2,542L925.2,538.1ZM867.6,550.8L865.9,543.4L858.8,545.9L859.4,550.8L864.8,553.7ZM872.5,543L866,543.3L865.9,543.4L867.6,550.8L871.3,551.8L874.1,548ZM880.4,547.3L879.1,542.2L872.5,542.9L872.5,543L874.1,548L877.4,549.9ZM882.9,539.9L881.3,540.4L879.1,542.2L880.4,547.3L885.4,548.5L888.2,546.3L887.5,541.7ZM888.2,546.3L891.7,548.6L897.6,545.2L895.3,540.5L889,540.3L887.5,541.7ZM906.8,538.4L901.4,539.1L900.8,544.6L906.4,545.3L906.7,545.1L906.8,538.4ZM906.7,545.1L913,546L914.4,545L914.2,538.5L906.8,538.4ZM856.2,536.4L854.5,535.4L848,540.7L848.6,543.1L849.5,546.3L857.4,545.1ZM865.9,543.4L866,543.3L864.9,536.9L859.2,535.2L856.2,536.4L857.4,545.1L858.8,545.9ZM864.9,536.9L866,543.3L872.5,543L872.5,542.9L873.4,536L865.9,535.5ZM875.6,535.1L881.3,540.4L882.9,539.9L882.2,532.2ZM889,540.3L890.8,532.6L889.8,531.3L883.1,529.9L882.2,532.2L882.9,539.9L887.5,541.7ZM914.2,538.5L915,537.5L912.9,532.2L905.8,530.5L906.8,538.4L906.8,538.4ZM912.9,532.2L915,537.5L923.1,536L918.4,531.4L915,529.6ZM854.5,535.4L853.1,533L845.5,532L848,540.7ZM854.8,527.7L853.1,533L854.5,535.4L856.2,536.4L859.2,535.2L861.1,529.4ZM868.4,528.4L866.8,528.9L865.9,535.5L873.4,536L874,535L872.3,528.2ZM890.8,532.6L897.8,533.2L898.9,532L895.2,525.5L891.8,525.8L889.8,531.3ZM905.2,525.8L898.2,522.4L895.2,525.5L898.9,532L904.7,529.2ZM843.8,525.9L844.9,529.8L845.5,532L853.1,533L854.8,527.7L853.8,524.2L849.4,522.3ZM853.8,524.2L854.8,527.7L861.1,529.4L864,527.9L861.7,522.3L858.6,521.4ZM872.9,519.5L867.5,522.1L868.4,528.4L872.3,528.2L874.7,526L874.9,521.1ZM874.7,526L882.6,529L886,519.9L883.9,518.6L875.7,520.6L874.9,521.1ZM891.8,525.8L895.2,525.5L898.2,522.4L897,519.5L890.5,518.1L888.5,519.7ZM906.9,523.7L903,520.6L899.8,516L897,519.5L898.2,522.4L905.2,525.8ZM869.5,514.8L866.1,515.9L864.4,520.1L867.5,522.1L872.9,519.5ZM875.7,520.6L877.8,512.2L877.1,511.4L870.3,512.6L869.5,514.8L872.9,519.5L874.9,521.1ZM883.9,518.6L882.6,514.2L877.8,512.2L875.7,520.6ZM882.6,514.2L883.9,518.6L886,519.9L888.5,519.7L890.5,518.1L892.6,508.1L891.1,507.5L883.1,513.4ZM890.5,518.1L897,519.5L899.8,516L895,509.2L892.6,508.1ZM891.1,507.5L884.9,504.8L885.2,504.2L881.8,504.7L883.1,513.4ZM843.5,509.8L847.7,510.2L849.9,501.7L841.4,502.6ZM879,504.3L881.8,504.7L885.2,504.2L889.1,496.5L876.5,498.3L876.5,498.3ZM975.6,724.6L978.1,737.5L980,737L988,735L989,728L989.2,724.1ZM972.1,721.1L975.6,724.6L989.2,724.1L989.8,713.4L975.6,714.5L972.7,716.8ZM957.9,709L954.3,707.4L942.3,709.8L948,714L954,722L954.9,722.9ZM964.3,703.3L962.3,707.4L972.7,716.8L975.6,714.5L976.9,703.4L973.3,701.5ZM976.9,703.4L975.6,714.5L989.8,713.4L990,710L989.1,698.9ZM954.3,707.4L950.9,697.5L949.5,696.8L941.9,697.9L937.4,702.7L940,708L942.3,709.8ZM950.9,697.5L954.3,707.4L957.9,709L962.3,707.4L964.3,703.3L962.4,694L961.3,693.1ZM973.5,692.8L973.3,701.5L976.9,703.4L989.1,698.9L989,698L986.5,691ZM941.9,697.9L940.9,686.8L928.9,689.2L934,696L937.4,702.7ZM949.9,687.1L941,686.7L940.9,686.8L941.9,697.9L949.5,696.8ZM949.9,687.1L949.5,696.8L950.9,697.5L961.3,693.1L959.6,687.6L958.2,686.5L951.3,686.1ZM968.6,681.7L959.6,687.6L961.3,693.1L962.4,694L971.2,691.3L971.6,683.3ZM971.6,683.3L971.2,691.3L973.5,692.8L986.5,691L984,684L982.2,680.3ZM940.4,679.5L935.3,676.5L927.8,679L927.2,679.6L928,680L932,679L928,688L928.9,689.2L940.9,686.8L941,686.7ZM958.2,686.5L958.4,673.9L958.1,673.7L949.1,676.7L951.3,686.1ZM959.6,687.6L968.6,681.7L965.5,672.9L958.4,673.9L958.2,686.5ZM927.8,679L926.7,666.6L921.8,664L921,670L924,678L927.2,679.6ZM958.1,673.7L954.6,666L945.6,664.5L944.5,666L946.8,675.9L949.1,676.7ZM966.5,671.9L977.3,670.5L971,658L970.7,657.5L965.6,662.2ZM936.5,668.1L944.5,666L945.6,664.5L944.8,656.1L940.9,651.2L934.6,652.2L933.4,665.7ZM954.6,666L958.5,660.3L956.7,655.3L944.8,656.1L945.6,664.5ZM956.7,655.3L957.2,654.3L953.7,643.7L944.2,644.9L940.9,651.2L944.8,656.1ZM953.7,643.7L957.2,654.3L966.1,650.2L966,650L959.6,638.7ZM908.4,640.4L909,641L916,646L920,652L920.2,653L925.1,649.4L925.2,640L920.5,635.7L910.2,638.3ZM910.2,638.3L908.9,628.5L906.5,626.9L898.5,629.9L897.8,630.8L902,634L908.4,640.4ZM940,634.7L939.2,625L937.4,623L929.8,624.3L929.1,625L931.6,635.2ZM883.2,625L878.4,620.7L867.4,621.3L865.5,624.1L870.4,635.5L873,634L878,628L883.4,626ZM898.5,629.9L896.5,618.6L887.4,620.7L883.2,625L883.4,626L886,625L894,628L897.8,630.8ZM918.8,627.9L920.1,625.2L918,617.7L916.3,616.8L907.7,618.8L906.5,626.9L908.9,628.5ZM929.8,624.3L928.5,614.3L926.9,612.9L918,617.7L920.1,625.2L929.1,625ZM939.5,614.4L938.1,615.7L937.4,623L939.2,625L950,621.9L945.8,613.7ZM836.7,615.8L835.4,615.2L825.8,615.3L825,616.3L826.4,623.5L832,623L838,624.5ZM853.4,626.1L865.5,624.1L867.4,621.3L865.4,612L856.5,611.3ZM878.4,620.7L883.2,625L887.4,620.7L887.8,609.4L878.7,610ZM817.2,616.8L814,608.8L805.2,609.6L810.4,618.1L809.1,625.2ZM795.5,618.7L788,618.9L789,627.4L795.6,626.1ZM795.5,618.7L797.5,616.6L796.2,610L795.5,609.5L786.9,609.5L787.5,614.5L788,618.9ZM795.5,609.5L793.6,598.8L785.9,600.6L785.9,601.3L786.9,609.5ZM824.7,596.4L827.7,607.4L827.8,607.4L837.3,606.5L836.4,593.4L825,596ZM837.3,606.5L839.2,606.3L847.1,605.4L848.3,592.8L847.1,592L836.9,592.1L836.4,593.4ZM848.3,592.8L847.1,605.4L850.5,605L861.8,603.8L859.3,591ZM793.6,598.8L794.3,597.9L793.9,589.7L784.5,589.2L785.9,600.6ZM846.4,581.7L847.1,592L848.3,592.8L859.3,591L859.1,589.9L858.4,579.6ZM793.9,589.7L794.3,589.2L792.9,578.3L784.6,578.8L784.4,588.1L784.5,589.2ZM833.9,583.7L834.8,582.2L834.2,574L833.2,572.5L825.7,570.7L823.3,572.4L825.6,584.4ZM845,580.8L846.4,581.7L858.4,579.6L858.1,573L845.2,571.5ZM793.4,566.9L794,577.1L804,578L804.1,577.9L802.3,564.9L793.4,566.9ZM832.4,560.2L824.8,562.5L825.7,570.7L833.2,572.5L836.3,563.3ZM842.9,562.3L836.3,563.3L833.2,572.5L834.2,574L845.1,571.3L844.2,563.2ZM791.6,555.5L785.1,557.3L785,562.2L784.9,567L793.4,566.9L793.4,566.9ZM854.3,561.4L852.4,556.4L850.7,550.5L843.7,551L842.8,551.9L842.9,562.3L844.2,563.2ZM791.8,555.1L790.1,546.9L785.3,546.9L785.2,549.3L785.1,557.3L791.6,555.5ZM832.6,552.3L842.8,551.9L843.7,551L840.7,539.9L831.8,541.3L831.2,550.7ZM840.7,539.9L843.7,551L850.7,550.5L848.6,543.1L846,533.8ZM785.6,530.7L785.5,536.3L785.3,546.9L790.1,546.9L790.9,545.9L787.2,532ZM798,543.8L800.2,545.2L809.9,544.6L810.7,543.3L808,534.7L798.6,535ZM800.7,523.1L798.5,521.5L785.7,524.9L785.6,530.7L787.2,532L798.4,534.8ZM809.3,532.4L818.7,530.2L818.8,530.1L817.3,521.7L809.9,520.4L805.9,523.5ZM798.5,521.5L798.5,514.3L797.5,513.4L785.9,512.6L785.7,523.4L785.7,524.9ZM818.7,520.2L828.7,520.1L828.8,520L826.3,508L823.1,504.5L819.3,504.9ZM797.5,513.4L796.3,507L794.4,507.1L783.7,508L785.9,510.4L785.9,512.6ZM734.8,654.8L733.4,653.5L725.1,655.1L730,660L733.3,661.3ZM733.3,661.3L740,664L743.7,663.4L741.2,655L734.8,654.8ZM733.4,653.5L732.8,646.8L732.6,646.5L723.9,645.4L722.9,646.7L724.9,654.9L725.1,655.1ZM704.2,639.2L695.5,639.7L694.7,650.5L700,652L702.6,652.2L705.7,647.3L705.5,640.3ZM723.6,637.8L723.1,638.4L723.9,645.4L732.6,646.5L733,637.2L732.7,636.8ZM677,631L677.5,639.7L684.6,640.2L685.2,639.6L686,631.3L685,630.4ZM694.6,631L694.4,631.1L695.2,639.3L695.5,639.7L704.2,639.2L704.3,629.2ZM704.4,629.1L712.5,629.5L712.6,619.9L712.1,619.4L703,621.2ZM712.5,629.5L712.9,629.8L721.3,627.6L721.1,620.1L712.6,619.9ZM750.2,627.1L751.6,628.3L759.4,627.5L759.9,626.7L757.3,617.4L750.5,619.1L750,619.5ZM694.1,613.8L684.9,611.4L684.4,621.2L685.4,622L693.4,621.6L694.7,620ZM704.1,611.4L703.9,611.2L696.4,610.9L694.1,613.8L694.7,620L703,621.2ZM703,621.2L712.1,619.4L711.8,612.4L704.1,611.4L703,621.2ZM712.6,619.9L721.1,620.1L721.8,619.1L722,611.8L713.4,610.9L711.8,612.4L712.1,619.4ZM729.3,610.7L723.2,610.6L722,611.8L721.8,619.1L731.9,620.8L732.4,620.2ZM740.3,611.2L739.3,609.8L731.8,608.7L729.3,610.7L732.4,620.2L740,618.4ZM740.1,618.4L750,619.5L750.5,619.1L748.5,610L740.3,611.2L740,618.4ZM756.9,609.7L757.8,616.8L767,616.5L767.9,609L759.2,607.3ZM777.8,616.3L775.1,607.8L768.1,608.7L767.9,609L767,616.5L767.1,616.6L777,617.1ZM777.8,616.3L787.6,615.6L787.5,614.5L786.7,607.4L777.2,605.7L775.1,607.8ZM694.2,603.5L685.8,604.2L684.6,611L684.9,611.4L694.1,613.8L696.4,610.9L694.8,603.8ZM694.8,603.8L696.4,610.9L703.9,611.2L704.8,602.6L702.7,601ZM703.9,611.2L704.1,611.4L711.8,612.4L713.4,610.9L712.8,602.5L711.8,601.5L704.8,602.6ZM741.1,601.4L739.9,600L731.3,601L731.8,608.7L739.3,609.8ZM748.5,610L750.1,608.2L748.9,601.3L741.1,601.4L739.3,609.8L740.3,611.2ZM759.2,607.3L767.9,609L768.1,608.7L767.1,598.7L765.9,597.9L758.5,599.8ZM776,598.3L777.2,605.7L786.7,607.4L785.9,601.3L785.4,596.9ZM665.8,595.7L668.4,601.7L671.9,607L677.5,601.4L676.3,595.7L675.6,595.1ZM693.3,593.9L694.2,603.5L694.8,603.8L702.7,601L701.6,593.2L693.5,593.6ZM711.8,601.5L712.8,602.5L721.9,602.4L722.3,602L719.9,593.3L719.7,593.1L712.9,593.2L712.9,593.2ZM775.7,589.7L775.6,589.7L775.4,597.8L776,598.3L785.4,596.9L784.5,588.9ZM676.3,595.7L683.7,593.2L683.5,586.6L676.3,585.8L675.6,586.5L675.6,595.1ZM691.3,585.6L693.5,593.6L701.6,593.2L702,592.8L702.4,584.9L692.5,584.7ZM719.7,593.1L719.9,593.3L729.7,592.4L729.8,592.3L728.3,583.9L721.7,583.4ZM729.8,592.3L738.2,591.8L739,583.1L737.8,582.1L728.6,583.6L728.3,583.9ZM765.2,583.2L756.6,582.3L756.3,590.5L756.6,590.8L765.5,590L766.1,589.1ZM775.6,589.7L775.7,589.7L775.1,580.1L774,579.3L766.7,581.1L765.2,583.2L766.1,589.1ZM775.1,580.1L775.7,589.7L784.5,588.9L784.4,588.1L784.6,580ZM685.8,584.8L684.3,576.6L675.3,577.7L676.3,585.8L683.5,586.6ZM694.3,575.9L692.8,574.9L684.5,576.1L684.3,576.6L685.8,584.8L691.3,585.6L692.5,584.7ZM711.9,583.7L721.5,583.3L720.3,574.3L718.8,573.4L712.4,574.9L711.6,576.1L711.9,583.6ZM721.7,583.4L728.3,583.9L728.6,583.6L728.8,573.4L728.3,572.8L720.3,574.3L721.5,583.3ZM737.8,582.1L737.3,574.2L728.8,573.4L728.6,583.6ZM775.1,580.1L784.6,580L784.7,575.2L784.8,569.7L775.7,570.4L774,572.8L774,579.3ZM702.7,564.4L700.2,564.5L691.4,564.7L692.8,574.9L694.3,575.9L700.6,575.3ZM712.4,574.9L718.8,573.4L719,563.8L712.4,564.1L708.1,564.2ZM728.3,572.8L728.4,565.4L724.8,560.3L724.7,563.6L719,563.8L718.8,573.4L720.3,574.3ZM728.4,565.4L728.3,572.8L728.8,573.4L737.3,574.2L738.2,573.3L737.3,565.6ZM755.2,563.5L754.5,564.3L755.1,572.5L756.6,573.7L762.9,572.2L764.1,570.6L764.6,564.6L762.8,562.7ZM746.2,564.6L746.2,556.3L744.9,555.3L737.2,556.3L738.1,564.6L746.2,564.6ZM762.7,554.9L761.8,554L754.1,554.2L752.9,555.4L755.2,563.5L762.8,562.7ZM762.7,554.9L762.8,562.7L764.6,564.6L771.8,563L772.1,553.6ZM771.8,563L773.3,563.9L785.1,558.7L785.1,558L779.3,553.6L772.8,552.9L772.1,553.6ZM736,547.2L725.2,547.5L724.9,557.8L736.3,555.7ZM744.3,537.8L744.2,537.7L736.3,537.5L735.3,538.2L736.5,546.6L744,546.5ZM735.3,538.2L736.3,537.5L736.7,528.6L732.5,525L728.8,532.4L727.3,537.7ZM736.7,528.6L736.3,537.5L744.2,537.7L744,527.9ZM752.7,536.8L760.7,536.6L762.5,535L761.7,528.1L761.7,528.1L752.5,527.4L751.8,528ZM767.8,518L760.6,518.7L761.7,528.1L761.7,528.1L770.2,525.4ZM749.8,510.5L744.4,510.8L743.1,518.9L744,519.8L752.6,518.1ZM758.9,517.7L759.5,509.8L751,510.4L749.8,510.5L752.6,518.1L754,519ZM758.9,517.7L760.6,518.7L767.8,518L768.3,517.2L767.5,509.3L761.9,509.7L759.5,509.8ZM777,515.9L777.4,508.5L772.8,508.9L767.5,509.3L768.3,517.2ZM777,515.9L778.2,517.5L785.9,515.8L785.9,510.4L783.7,508L777.4,508.5ZM586.3,732.6L585.8,745.6L589,747L594,746L592,738L590.1,729.3ZM545.6,719.2L550,728L556,735L560.9,737L561.7,721.7L560.4,719.9ZM544.4,715L545,718L545.6,719.2L560.4,719.9L562.5,710.1L562.1,709.5L550.7,707.4ZM550.7,707.4L550.2,698.6L548.1,696.6L537.1,697.2L536.4,697.8L538,700L543,708L544.4,715ZM562.1,709.5L562.5,710.1L573.2,709.7L573.8,708.9L574.3,698.1L562.4,697ZM586.8,698.7L587,709.9L590.1,713.7L594,702L596.9,698.4ZM550.1,685.9L539.1,682.9L536.7,685.7L537.1,697.2L548.1,696.6ZM550.2,685.9L550.1,685.9L548.1,696.6L550.2,698.6L562.1,696.7L561.7,686ZM561.7,686L562.1,696.7L562.4,697L574.3,698.1L575.1,697.3L574.2,686.7L562.2,685.3ZM576.1,684.6L574.2,686.7L575.1,697.3L585.4,697.3L587.6,687.4L585.8,684.6ZM551.2,673.4L550.2,672.4L538.4,673.8L539.1,682.9L550.1,685.9L550.2,685.9ZM562.9,675L562.5,674.3L551.2,673.4L550.2,685.9L561.7,686L562.2,685.3ZM562.9,675L562.2,685.3L574.2,686.7L576.1,684.6L574.4,675.6ZM575.3,674.6L574.4,675.6L576.1,684.6L585.8,684.6L588.2,675.5L586.5,673.4ZM585.8,684.6L587.6,687.4L600.3,687.9L598.6,675.4L588.2,675.5ZM612.5,683.8L620,680L626,676L623.3,672.7L612.1,675.7ZM454.9,655.6L453.1,657.6L460,662L466,658L466.8,656ZM513.9,660.3L518,666L523.1,676.3L526.6,673L525.5,661.5ZM527.2,659.9L525.5,661.5L526.6,673L538,673.5L538.8,661.1L538.5,660.8ZM586.1,663.7L575.2,663.5L574.6,663.9L575.3,674.6L586.5,673.4ZM588.2,675.5L598.6,675.4L600.1,673.7L599.7,664.4L598.5,663.1L587.2,662.5L586.1,663.7L586.5,673.4ZM600.1,673.7L611,674.7L611.9,662.1L611.7,661.9L599.7,664.4ZM611.9,662.1L611,674.7L612.1,675.7L623.3,672.7L623.8,664.8ZM623.3,672.7L626,676L632,672L639.2,665.9L636.2,663.1L623.8,664.8L623.8,664.8ZM443.1,644.8L440.5,646.8L446,653L453.1,657.6L454.9,655.6L454.1,645.5ZM467.5,646.2L455.6,644L454.1,645.5L454.9,655.6L466.8,656L469.5,649.4ZM525.5,661.5L527.2,659.9L527.2,649.3L526.5,648.6L515.1,648.3L509.3,654.3L510,655L513.9,660.3ZM539.9,649.5L539,648.5L527.2,649.3L527.2,659.9L538.5,660.8ZM564.2,663.5L564.3,663.4L565,650.7L564.9,650.6L552.1,650.8L551.4,661.2ZM575.2,663.5L575.6,651.4L575.1,650.9L565,650.7L564.3,663.4L574.6,663.9ZM586.1,663.7L587.2,662.5L586.4,651.9L575.6,651.4L575.2,663.5ZM599.8,651.7L598.6,650.4L587.2,650.9L586.4,651.9L587.2,662.5L598.5,663.1ZM611.9,662.1L623.8,664.8L623.8,664.8L624.1,650.9L623.6,650.5L611.5,652.3L611.5,652.3L611.7,661.9ZM624.1,650.9L623.8,664.8L636.2,663.1L635.7,652.9L634.9,652.1ZM456.2,633.4L444.9,632.6L443.1,644.8L454.1,645.5L455.6,644ZM456.2,633.4L455.6,644L467.5,646.2L469.4,632.9L456.5,633.1ZM480.4,630.2L473.4,629.7L469.4,632.9L467.5,646.2L469.5,649.4L470,648L481.1,643.4ZM493.2,645.2L502,647L502.2,647.2L504.9,635.4L492.4,633.9ZM552.1,650.8L564.9,650.6L564.5,638L553,637.8L552.4,638.3L551.3,649.8ZM575.1,650.9L576.6,638.3L564.8,637.7L564.5,638L564.9,650.6L565,650.7ZM577.1,638L576.6,638.3L575.1,650.9L575.6,651.4L586.4,651.9L587.2,650.9L586.5,640.1ZM610.9,639.4L610.5,639.8L611.5,652.3L623.6,650.5L623.8,639.7ZM653.1,656.5L660,653L660.8,652.8L659.2,640.1L646.5,640.2L646.3,640.4L646.4,650.8ZM434.1,619.7L429.4,625.4L430.2,629.5L444.5,632.3L446.7,620L445.8,619.1ZM455.9,620.9L456.5,633.1L469.4,632.9L473.4,629.7L465.3,615.7L462.5,615.2ZM487.8,623.5L486,627.4L492.4,633.9L504.9,635.4L505.5,634.9L505.9,624.8ZM505.9,624.8L505.5,634.9L515,637.2L518.3,626.5L516.3,624.3L506,624.7ZM541.2,626L528.4,626.4L528.3,626.5L529.2,636L539,638.6L541.2,636.9L541.6,626.4ZM552.5,627.3L553,637.8L564.5,638L564.8,637.7L565.3,626.8L564.6,626.1ZM577.1,638L577.9,627.2L575.2,624.6L565.3,626.8L564.8,637.7L576.6,638.3ZM588.2,627.8L586.8,626.5L577.9,627.2L577.1,638L586.5,640.1L588.1,638.7ZM599.5,638.6L599.7,627.8L588.2,627.8L588.1,638.7ZM611.7,627.1L600,627.3L599.7,627.8L599.5,638.6L599.9,639L610.5,639.8L610.9,639.4L612.1,627.7ZM635.6,639.4L636.2,627.6L635.5,627L625.8,626.9L623.7,629.3L624,639.4ZM646.5,640.2L646.8,628.1L636.2,627.6L635.6,639.4L636.1,639.9L646.3,640.4ZM647.9,627.2L646.8,628.1L646.5,640.2L659.2,640.1L659.5,639.7L658.4,629ZM659.5,639.7L671,637.8L671.3,635L672.2,627.3L672.3,627L659.6,627.8L658.4,629ZM423.5,605.9L417.2,610.6L425,617L429,623L429.4,625.4L434.1,619.7L433.7,609.1ZM435.3,607.9L433.7,609.1L434.1,619.7L445.8,619.1L446.2,608.3L445.6,607.6ZM458.5,608.8L446.2,608.3L445.8,619.1L446.7,620L455.9,620.9L462.5,615.2ZM495.2,611.5L488.2,617.4L487.8,623.5L505.9,624.8L506,624.7L505.8,613.8L504.6,612.6ZM506,624.7L516.3,624.3L517.3,614.1L517.1,613.9L505.8,613.8ZM528.4,626.4L529,615.5L517.3,614.1L516.3,624.3L518.3,626.5L528.3,626.5ZM540.1,613.7L529.9,614.5L529,615.5L528.4,626.4L541.2,626ZM540.5,613.4L540.1,613.7L541.2,626L541.6,626.4L551,625.5L552.6,615.7ZM564.6,626.1L565.3,626.8L575.2,624.6L576.2,615.4L566.2,612.5L562.1,615.6ZM589.1,615.3L588.8,615.6L586.8,626.5L588.2,627.8L599.7,627.8L600,627.3L598.9,616ZM611.7,615.4L599.7,615.3L598.9,616L600,627.3L611.7,627.1L612.8,616.8ZM611.7,627.1L612.1,627.7L623.7,629.3L625.8,626.9L623.8,616.9L612.8,616.8ZM645.8,615.1L636.8,616.3L635.5,627L636.2,627.6L646.8,628.1L647.9,627.2L648.1,617.4ZM659.6,627.8L672.3,627L674.5,615.1L659.8,614.7L659.5,615ZM436,595.4L435.3,594.8L424.6,595.5L423.5,605.9L433.7,609.1L435.3,607.9ZM460.8,597.5L459.7,598.4L458.5,608.8L462.5,615.2L465.3,615.7L477.1,606.9L477.2,605.4L469.3,597.9ZM482.2,599.6L477.2,605.4L477.1,606.9L488.2,617.4L495.2,611.5L495,601.8L493.3,599.8ZM495,601.8L495.2,611.5L504.6,612.6L508.6,601.7L506.1,598.7ZM519.2,601.5L517.8,602.6L517.1,613.9L517.3,614.1L529,615.5L529.9,614.5L528,603.1ZM553.6,602.8L553.1,602.2L542.7,602L542,602.6L540.5,613.4L552.6,615.7L554.6,614.2ZM576.2,615.4L577.4,614.5L578.3,603.9L577.3,603.1L567,602.8L566.4,603.5L566.2,612.5ZM599.7,615.3L600.4,603.7L588.3,602.8L589.1,615.3L598.9,616ZM613,605L600.5,603.6L600.4,603.7L599.7,615.3L611.7,615.4L613,605ZM624.5,616L634.8,614.6L634.9,603.4L623.7,604.6ZM646.4,604.2L646,603.8L635.3,603L634.9,603.4L634.8,614.6L636.8,616.3L645.8,615.1ZM674.5,615.1L675.1,611.9L669.1,602.8L658,603.4L657.4,604.1L659.8,614.7ZM413.1,592.6L414.4,581.5L403.7,580.4L392.7,579.2L393.8,583.9L395,584L404,596L405,597.2ZM425.5,582.6L414.7,581.5L414.4,581.5L413.1,592.6L423.6,594.3ZM423.6,594.3L424.6,595.5L435.3,594.8L436.4,583.6L425.7,582.6L425.5,582.6ZM447.3,595.9L448.5,584.7L447.7,584.6L436.7,583.6L436.4,583.6L435.3,594.8L436,595.4L446.6,596.4ZM482.5,588.2L482,588.6L482.2,599.6L493.3,599.8L494.6,589.4ZM494.6,589.4L493.3,599.8L495,601.8L506.1,598.7L506.2,589.5L505.6,588.9L495.9,588.2ZM519.2,589.6L518.6,589.1L506.2,589.5L506.1,598.7L508.6,601.7L517.8,602.6L519.2,601.5ZM542.7,602L553.1,602.2L555.6,592.7L554.1,591L542.2,590.5ZM567,602.8L566.4,593.5L563.9,591.4L555.6,592.7L553.1,602.2L553.6,602.8L566.4,603.5ZM567,602.8L577.3,603.1L576.6,591.2L566.4,593.5ZM600.4,603.7L600.5,603.6L601.6,592.9L600.1,591.7L588.7,592.9L588.4,593.2L587.7,602.3L588.3,602.8ZM601.6,592.9L600.5,603.6L613,605L612.2,592.7L610.6,591.3ZM622.7,592.5L612.2,592.7L613,605L613,605L623.6,604.5ZM634.9,603.4L635.3,603L634.2,592.8L624.5,590.9L622.7,592.5L623.6,604.5L623.7,604.6ZM634.2,592.8L635.3,603L646,603.8L646.9,592.6L635.6,591.5ZM646.9,592.6L646,603.8L646.4,604.2L657.4,604.1L658,603.4L658.5,593.2L648.2,591.3ZM473.4,587.5L482,588.6L482.5,588.2L484.6,576.1L484.4,575.9L470.6,575.4L469.9,583.5ZM505.6,588.9L506.9,577.5L506,576.1L495.9,574.9L493.8,576.6L495.9,588.2ZM518.2,578.3L506.9,577.5L505.6,588.9L506.2,589.5L518.6,589.1ZM531,590.8L542.2,590.5L542.8,579.8L531.5,579.8L529,588.7ZM542.2,590.5L542.2,590.5L554.1,591L553.3,579.5L543.8,578.8L542.8,579.8ZM565.2,580.8L563.9,591.4L566.4,593.5L576.6,591.2L577.5,590.1L577,581.1L576.3,580.5L566.8,579.7ZM577.5,590.1L588.4,593.2L588.7,592.9L589.3,580.6L587.4,578.9L577,581.1ZM598.5,581.2L589.3,580.6L588.7,592.9L600.1,591.7ZM600.6,578.9L598.5,581.2L600.1,591.7L601.6,592.9L610.6,591.3L611.9,581.1L610.1,578.8ZM612.2,592.7L622.7,592.5L624.5,590.9L624,580.8L623.7,580.6L611.9,581.1L610.6,591.3ZM637.2,580.8L634.7,578.8L624,580.8L624.5,590.9L634.2,592.8L635.6,591.5ZM646.8,580L637.2,580.8L635.6,591.5L646.9,592.6L648.2,591.3L647.6,580.7ZM664.5,592.7L664,591.5L663.8,581L659.2,581.1L658.7,593ZM484.4,575.9L483.9,564.1L471.6,562.7L470.8,573.5L470.6,575.4ZM509,566.3L507,564L497.7,564.1L496.1,565.6L495.9,574.9L506,576.1ZM556.2,568.5L554.5,578.7L565.2,580.8L566.8,579.7L565.8,568.1L565.1,567.5ZM576.3,580.5L577,581.1L587.4,578.9L588.7,569.5L588.5,569.2L577,567.7L576.7,568ZM610.1,578.8L611.9,581.1L623.7,580.6L622.3,569.7L611.9,568.9ZM622.3,569.7L623.7,580.6L624,580.8L634.7,578.8L634.5,568.4L625.2,566.7ZM647.7,568.9L635.3,567.7L634.5,568.4L634.7,578.8L637.2,580.8L646.8,580ZM483.9,564.1L485.3,562.9L487.2,552.2L486.2,551L472.6,551.1L471.8,560.7L471.6,562.7ZM509.1,552.4L508,553.1L507,564L509,566.3L518.4,566.4L520,555.6ZM520,555.6L518.4,566.4L519.5,567.6L530.8,565.8L530.5,555.2L530.1,554.8L521.5,554.6ZM542.6,555.6L542.2,556.1L543.3,566.1L553.4,565.7L555.5,556.2L554.3,554.5ZM565.1,567.5L565.8,568.1L576.7,568L577,567.7L577.4,557.7L576.8,557L567.5,556L566,557.3ZM599.9,558L599,557.1L590.4,556.2L588.8,557.7L588.5,569.2L588.7,569.5L598.5,569.4L601.2,566.2ZM612.5,556L599.9,558L601.2,566.2L611.7,568.5L613.6,556.9ZM659.2,556.3L647,556.6L648.4,568.2L657.5,568ZM486.3,539.6L473.7,537.8L472.9,547.8L472.6,551.1L486.2,551L486.6,540ZM508.5,539.9L498.8,539.6L498.6,551.3L508,553.1L509.1,552.4L511.4,542.8ZM509.1,552.4L520,555.6L521.5,554.6L520.6,542.3L519.5,541.4L511.4,542.8ZM532.2,543.9L530.1,554.8L530.5,555.2L542.2,556.1L542.6,555.6L542.7,544.7ZM555.5,556.2L566,557.3L567.5,556L566,544L566,544L556,543.8L555.2,544.3L554.3,554.5ZM579.1,545.2L576.8,557L577.4,557.7L588.8,557.7L590.4,556.2L587.7,542.2L585.9,540.7L583.7,541.7ZM590.4,556.2L599,557.1L602.8,542.4L601.6,541.6L598.5,544.2L596.3,547L591.1,544.9L587.7,542.2ZM599,557.1L599.9,558L612.5,556L609.9,545.1L609,544.8L604.8,543.7L602.8,542.4ZM612.5,556L613.6,556.9L623,556.1L623.4,543.9L622.7,544.1L618.5,544.6L613.2,546.4L609.9,545.1ZM635.3,555.1L637.2,556.5L645.9,555.6L647.2,547.5L646,547L641.7,542.4L636.4,543.8L634.3,543.1ZM474.6,526.5L473.9,535L473.7,537.8L486.3,539.6L487.6,529.1ZM510.3,529.8L499.3,527.6L498.7,528.2L498.8,539.6L498.8,539.6L508.5,539.9ZM519.5,541.4L520.6,529.9L511.2,529.2L510.3,529.8L508.5,539.9L511.4,542.8ZM545.1,542.7L543.5,532.9L533,531.5L532.6,531.8L531.1,542.4L532.2,543.9L542.7,544.7ZM567.8,536.5L567,535.6L563.9,536.3L559.7,534.1L556.6,534L555.9,532.9L556,543.8L566,544ZM510.6,516.9L500.1,518.7L499.3,527.6L510.3,529.8L511.2,529.2ZM520.6,529.9L521,529.6L522.1,519.8L521.9,519.6L510.9,516.6L510.6,516.9L511.2,529.2ZM490.1,506.7L488.4,515.3L500.1,518.7L500.3,505.4ZM521.9,519.6L523.5,507.1L522.2,505.5L512.6,506.4L511.7,507.2L510.9,516.6ZM488.5,504.6L490.5,493.6L477.4,491.5L477,496.4L476.5,502.6ZM490.5,493.6L491,493.3L491.9,481.2L490.6,480.3L478.3,480.7L478.1,483.5L477.4,491.5ZM502.7,493.1L510.7,493.7L510.8,493.6L513.7,483L512.8,481.9L501.1,480.7ZM510.8,493.6L523.3,494.4L523.2,483.8L513.7,483ZM490.6,480.3L490.6,471.5L489.3,471.4L479.1,470.7L478.3,480.7ZM490.6,480.3L491.9,481.2L500.9,480.5L502.5,472.2L499.5,472L490.6,471.5ZM524,483.1L539.8,482.9L540.2,474.2L530,473.7L523.5,473.4ZM451.4,511.4L445.7,529.2L449.6,532L474,533.9L474.9,522.1L476,509.3L476,508.6ZM403.1,478.6L405.2,481.6L427.5,483.3L430.6,480L429.5,453.4L429.2,453.3L419.1,452.3L418.6,452.2ZM430.6,480L450,486.2L458.1,456L449.5,455.3L439.4,454.3L429.5,453.4ZM439.6,558.2L436.5,570.7L445.3,580L471.3,566.6L471.5,564L453.6,555.6ZM414.8,537.7L420,538L424,534L424.8,504.2L405.4,500.8L395.3,508.5ZM378,515.1L384.4,508.3L379.8,493.9L353,483.2L352.8,484.4L351,497.6L349.6,507.4ZM369.3,539L376,532.6L378,515.1L349.6,507.4L349.2,510.8L347.3,524L345.6,536.8ZM271.2,458.2L289.6,454.5L299.6,435.8L298.2,435.6L288.3,433.9L278.3,432.1L268.3,430.3L258.4,428.4L255.7,442.6ZM346.1,475L353.4,480.2L354.6,471.3L356.4,458.1L358.3,444.9L348.2,443.5L341.5,442.5ZM275,512.2L250.5,525.5L246.7,552.4L284.3,542L288.4,518.4ZM305.9,559.3L304.7,554.7L284.3,542L246.7,552.4L245,554.5L251.9,558.6L262.5,564.8L273.2,571L283.9,577.2L294.7,583.2L301,584.2ZM153,461.8L149.6,459.9L132.2,469.5L137.8,477.1L146,483.1L150.2,483.8ZM184.4,492.2L191,486.5L185.5,470L173.7,467.6L159,487.9ZM204.7,491.4L207.7,500.6L238.8,501.1L242.9,497.7L238,495.5L237,482.1L236.8,476.8L231.4,469.3ZM149.6,459.9L139.5,441.7L130.9,448.1L129.3,467.7L131.3,468.3L132.2,469.5ZM166.2,454.2L195.1,442.9L173.5,430.4L165.3,436.7ZM147.6,416.8L154.8,414.2L161.9,397.8L161,394.2L151,396L143.5,413.3ZM116.5,366L115.8,367.1L114.1,382.3L127.8,386.6L132.5,370.1L130.2,367.7ZM127.8,386.6L132.5,393.7L136,392.5L146.3,379.1L144.2,370.8L132.5,370.1ZM161.9,397.8L179,413L188.8,407.4L185.5,402.3L177.4,389.7L171.7,380.9L163.5,388L161,394.2ZM99.4,369.6L115.8,367.1L116.5,366L113.8,355.1L112.3,353.9L93.6,364.5L97.4,368.5ZM94.7,334.7L83.1,330.8L82.6,333.4L88.6,346.6ZM113.4,333.3L108.7,336.1L108.5,346.5L112.3,353.9L113.8,355.1L123.2,351.5L128.4,342.8ZM141,350.8L141.6,348.7L134,341.6L128.4,342.8L123.2,351.5L132.4,357.4ZM161,363.8L153.8,351.9L154.5,349.3L147.5,346.7L141.6,348.7L141,350.8L147.2,367.3ZM136.5,326.7L130.4,321.2L118.8,324.7L113.4,333.3L128.4,342.8L134,341.6ZM154.5,349.3L157,339.4L160.2,326.9L161.4,322.4L161.1,322.5L152.5,326.9L147.5,346.7ZM106,310.5L107.6,309.1L107.9,307.1L97.9,298.2L82.8,298.9L84.5,305.6L85,312.8ZM152.7,297L153.7,293.5L143.5,283.4L137.7,284.3L135.2,304.7L140.3,304.9ZM133.5,281.5L132.7,266L125.2,263.8L115.6,261L112.7,260.2L113.3,275.7L117.5,284.8L117.7,285.1ZM203.2,445.9L185.5,470L191,486.5L204.7,491.4L231.4,469.3L227.9,464.5L219.2,452.1L212.8,442.9ZM173.5,430.4L173.5,422.9L154.8,414.2L147.6,416.8L145.9,435.1L165.3,436.7ZM127,429.4L140,439.6L145.9,435.1L147.6,416.8L143.5,413.3L131.5,408.1ZM177.8,508.9L197,518.5L207.7,506.4L207.7,500.6L204.7,491.4L191,486.5L184.4,492.2ZM197,518.5L177.8,508.9L171.2,512.8L171.2,519.5L172.1,528.2L185,529.8L197,531.2ZM222.9,519.2L207.7,506.4L197,518.5L197,531.2L197.8,531.3L210.6,532.7L212.9,533ZM159,487.9L173.7,467.6L164.9,459.9L153,461.8L150.2,483.8L152.3,484.1L152.6,490.5ZM116.4,239.6L114.2,236L96.7,233.9L97,242L96.6,255.3L106.1,258.2L109.2,259.1ZM125.5,217.3L116.7,218.7L114.2,236L116.4,239.6L132.3,240.7L138.4,230.1L133.7,218.8ZM125.5,217.3L133.7,218.8L143.4,207.1L137.5,198.9L125.9,196.8ZM137.5,198.9L142.4,182.4L139.6,178.3L123,181.1L120.4,187.3L118.8,192.1L125.9,196.8ZM153.7,186.1L151.6,207L163.3,212.6L170.6,195.1L155.3,185.5ZM205.7,203.6L190.5,204.4L186,211.1L191.7,228.3L199,227.2ZM155.3,185.5L170.6,195.1L176.4,190.8L177.6,181.9L175.5,181.8L166.7,179.8L160.3,178.3ZM176.4,190.8L186.1,197L200.3,181.6L188.2,182.6L177.6,181.9ZM206.7,203.1L205.9,181.2L205.2,181.2L200.3,181.6L186.1,197L190.5,204.4L205.7,203.6ZM221,208.6L224.4,206L228.7,184.8L227.4,184.5L216.1,181.8L205.9,181.2L206.7,203.1ZM191.7,228.3L184.5,235.5L184.5,247.4L185.3,248.6L211,251.2L214.7,248.1L213.5,232.5L199,227.2ZM183,279.4L184,279.7L194.9,282.4L204.9,284.8L211,251.2L185.3,248.6ZM237.6,426.2L211.2,440.6L219.2,452.1L227.9,464.5L236.8,476.8L238.4,462.6L239.9,448.5L247.3,448.6ZM162.9,366.7L169.4,377.1L177.4,389.7L185.5,402.3L190.1,409.3L196,404.9L208.6,361L171.6,361.1ZM208.6,361L213.1,357.8L208,340.1L184.1,331.7L174,340.9L171.6,361.1ZM225.3,359.9L247.7,342.2L234.5,313.5L214,315.3L212.7,316.3L208,340.1L213.1,357.8ZM214,315.3L234.5,313.5L250.1,294.9L249.7,294.9L238.7,292.5L227.7,290.1L216.7,287.6L213.2,286.7ZM208,340.1L212.7,316.3L190.6,308.6L179.8,312.3L184.1,331.7ZM279,403.4L279.9,405.1L302.4,403.5L302.8,403.2L300.2,387.4L282.5,390ZM344.7,368.5L347.3,349.7L345.4,345.6L329.3,350.4L330.3,371.6L337,373ZM347.3,349.7L344.7,368.5L368.3,371.9L368.9,368.1L370.2,358.5ZM307.5,330.7L314.1,338.6L336.3,325.9L336.5,324.1L338.6,311.4L327.4,309.5L316.3,307.7L312.9,307.1ZM281,328.9L307.5,330.7L312.9,307.1L305.2,305.7L294.1,303.7L283,301.6L280.5,314.2L278.1,326.9L278,327.2ZM300.8,374.7L307.1,363.5L305.6,356.3L289.7,353.1L280.8,361.4L286.2,371ZM337,373L330.3,371.6L330.2,371.6L320.7,386.3L324.3,397L343.2,391.6L343.7,389ZM357.8,315.7L339.2,307.4L338.6,311.4L336.5,324.1L334.5,336.8L344,338.3L351.8,339.5ZM381,343.6L381.9,343.8L391.4,345L400.9,346.2L406.4,346.8L407.6,318.5L404.7,315.4L385.7,316.7L381.9,320.1ZM436.6,322.8L433.8,318.6L407.6,318.5L406.4,346.8L410.4,347.3L419.9,348.4L427.8,349.3ZM385.7,316.7L383.6,290.5L366.3,289.8L362.4,313.3L381.9,320.1ZM404.7,315.4L407.6,318.5L433.8,318.6L434.2,303L412.9,293.6L408,296.2ZM435.5,270.8L433.9,272L437.8,298.9L455.9,295.3L458.6,280.5ZM360.3,430.2L360,432.1L358.3,444.9L365.1,445.8L367.1,431ZM467.7,456.8L469.9,457L480.1,457.8L484.1,458L486.8,445.9L486.2,444.7L468.2,443.1ZM367.1,431L369.7,429.1L363.8,406.1L363.7,405.9L363.6,406.5L361.8,419.3L360.3,430.2ZM382.2,421.9L379.6,430.3L383,435.2L391.8,436.5L397.5,433.3L400.2,424.3L393.5,414L392.2,413.9ZM486.8,445.9L500.2,447.6L500.2,446.2L501,433.3L501.1,431.7L495.5,432.9L486.3,443.9L486.2,444.7ZM363.8,406.1L382.2,421.9L392.2,413.9L382,405.5L363.7,405.5L363.7,405.9ZM443,411.7L433.6,407.7L423.5,410.3L428,431.6L429.4,432.3L441.3,426.6L446.6,415.5ZM462.4,435.3L463.2,435.4L473.2,428.1L472.3,417.6L459,411.4L455.3,414.6ZM479.7,429.3L485.9,425.5L490.2,414.7L488.1,412L478,412.5L472.3,417.6L473.2,428.1ZM490.2,414.7L485.9,425.5L495.5,432.9L501.1,431.7L501.8,420.4L502,417.4ZM448,394.7L436.7,397.1L433.6,407.7L443,411.7L448.4,395.1ZM472.2,397.7L470.6,399L478,412.5L488.1,412L489.2,401.1L488,398.5ZM418.1,400.4L431.3,389.8L432.1,382L422.6,380.4L413.6,393.2ZM434.6,380.2L432.1,382L431.3,389.8L436.7,397.1L448,394.7L445.8,381.8ZM445.8,381.8L448,394.7L448.4,395.1L459.8,398.6L461.2,382L448.7,379.7ZM459.8,398.6L461.7,400.8L470.6,399L472.2,397.7L474.4,383.7L463.5,380.7L461.2,382ZM490.7,388.7L476.7,382.4L474.4,383.7L472.2,397.7L488,398.5ZM493,387L490.7,388.7L488,398.5L489.2,401.1L503,401.6L503.4,394.6L503.8,387.3ZM398.9,373.7L404.2,380.1L417.8,375.1L418.1,365.9L399.1,365.7ZM493,387L491.8,370.6L479.9,370.3L476.7,382.4L490.7,388.7ZM493.2,369.4L491.8,370.6L493,387L503.8,387.3L504.2,381.7L505,369.4ZM450,365.3L447.3,351.2L439,350.4L434.5,350L432.1,363.6L434,366.2ZM461.8,365.1L464.6,367L475.9,365.5L478.6,354L477.2,353.9L467.6,353.1L462.2,352.6ZM418.5,365.4L432.1,363.6L434.5,350L429.5,349.4L419.9,348.4L414.7,347.8ZM428,431.6L423.5,410.3L418.7,407.5L418.7,407.5L407.7,423.2L420.6,433.5ZM446.1,450.9L431.5,437.5L425,452.9L429.2,453.3L439.4,454.3L446.2,455ZM489.6,292.2L489,291.4L473,289.6L472,301.7L481.3,302.5L487.4,303ZM501.5,292.8L501.3,304L509.4,304.5L514.3,304.8L516.3,295.5L514.4,293.3L501.7,292.6ZM555.1,297L552.9,294.3L540.9,295.2L541.9,306.3L547,306.5L552.9,306.7ZM578.8,297L566.4,296.5L566,307.2L575.1,307.4L579.7,310.5ZM603.7,314.3L603.9,314.4L610.4,320.9L613.2,321.2L610.4,317L613.3,310.6L610.5,301.6L612.3,297.5L606.4,296.8L604.3,298.3ZM489,291.4L490.1,279.2L489.9,279L474,278.4L473.1,288.9L473,289.6ZM503.2,280.7L502.3,281.5L501.7,292.6L514.4,293.3L515.8,280.9ZM514.4,293.3L516.3,295.5L527.4,294.5L527.4,282L516.6,280.2L515.8,280.9ZM528.2,295.2L540.1,294.3L541.1,282.6L540.2,281.6L527.7,281.8L527.4,282L527.4,294.5ZM541.1,282.6L540.1,294.3L540.9,295.2L552.9,294.3L553.8,283.9ZM555.4,282.6L553.8,283.9L552.9,294.3L555.1,297L566.1,296.3L565.8,283.2L565.7,283.2ZM566.1,296.3L566.4,296.5L578.8,297L579.7,295.9L578.1,284.4L565.8,283.2ZM579.7,295.9L592.1,294.7L593.4,285.3L591.4,282.9L579.3,283.1L578.1,284.4ZM592.1,294.7L593.3,296.1L604.3,298.3L606.4,296.8L606,283.7L605.1,283L593.4,285.3ZM606,283.7L606.4,296.8L612.3,297.5L613.4,295.2L613.4,283.1ZM489.9,279L492,266.5L475.1,264.4L474.2,276.1L474,278.4ZM516.6,280.2L527.4,282L527.7,281.8L529.2,268.1L516.3,267.4L516,267.7ZM568.2,269.9L567.6,269.3L554.8,269.2L553.5,270.7L555.4,282.6L565.7,283.2ZM492.4,253.6L492.9,265.8L503.1,267L505.6,253.3L505,252.5ZM516,267.7L516.3,267.4L517.3,255.7L505.6,253.3L503.1,267L503.4,267.3ZM517.3,255.7L516.3,267.4L529.2,268.1L529.8,267.6L530,255.2L517.8,255.3ZM530.1,255.1L530,255.2L529.8,267.6L540.8,269.4L543.4,256.1ZM566.9,257.9L567.6,269.3L568.2,269.9L579.3,270.1L579.5,269.9L581,258.1L579.8,256.6L567.9,256.6ZM579.5,269.9L591.6,271.6L591.7,271.5L593.1,258L592.6,257.4L581,258.1ZM490.8,251.9L492,242L477.4,237.5L477.4,237.8L476.3,250.5L476.1,253.5ZM505.6,253.3L517.3,255.7L517.8,255.3L518.3,242.7L517.4,241.9L505.6,241.1L505,252.5ZM530,255.2L530.1,255.1L530.5,242.6L530.4,242.6L518.3,242.7L517.8,255.3ZM566.8,244.2L557.2,243.9L554.8,256.8L566.9,257.9L567.9,256.6L567.4,244.8ZM579.8,256.6L581,258.1L592.6,257.4L593.7,246.8L592.4,245.3L580.7,244L580.3,244.5ZM506.7,228.7L497.4,228L492.5,227.7L494.5,240.1L505.2,240.6ZM519.5,229.5L516.4,229.3L506.9,228.7L506.7,228.7L505.2,240.6L505.6,241.1L517.4,241.9ZM530.4,242.6L529.8,230.1L525.9,229.9L519.5,229.5L517.4,241.9L518.3,242.7ZM568.6,231.8L564,231.6L554.9,231.3L556.5,243.3L557.2,243.9L566.8,244.2ZM592.4,245.3L594.7,232.4L592.6,232.4L583.1,232.2L580.4,232.1L580.7,244ZM592.4,245.3L593.7,246.8L605.2,246.2L607.9,242.8L606.4,241.2L611.7,232.6L602.2,232.5L594.7,232.4ZM510.3,369.9L505,369.4L504.2,381.7L510.7,382.1ZM522.5,371L520.7,382.7L524.3,382.9L532.8,383.3L533.1,370.9L522.6,371ZM543.3,371.6L533.5,370.6L533.1,370.9L532.8,383.3L534.4,383.4L542.5,383.7ZM553.6,372.4L543.8,371.2L543.3,371.6L542.5,383.7L544.4,383.8L553.9,384.2ZM565.2,372.1L554.4,371.7L553.6,372.4L553.9,384.2L554.5,384.2L564.6,384.6L564.8,384.6ZM576.4,372.8L565.3,371.9L565.2,372.1L564.8,384.6L574.6,384.8L575.2,384.9ZM597.4,374.2L588,372.8L586.4,374.2L586.2,385.1L594.8,385.2L596.7,385.3ZM607.8,374L598.5,373.2L597.4,374.2L596.7,385.3L604.9,385.4L607.9,385.4ZM510.3,369.9L512,368.5L512.4,359.4L511.6,358.4L505.7,358.4L505,368.8L505,369.4ZM523,359.4L512.4,359.4L512,368.5L522.5,371L522.6,371L523.3,359.7ZM523.3,359.7L522.6,371L533.1,370.9L533.5,370.6L533.7,360ZM544.6,361L543.8,371.2L553.6,372.4L554.4,371.7L554.8,361.7L554.3,361.2ZM588,372.8L597.4,374.2L598.5,373.2L598.2,362.6L597.8,362.2L587.7,362.8ZM598.5,373.2L607.8,374L609,373L609.4,363.1L598.2,362.6ZM609,373L619.2,374.6L619.5,374.3L619.3,362.6L609.8,362.7L609.4,363.1ZM619.5,374.3L627.5,373L626.4,370.5L624.6,366.1L624,358.7L619.3,362.6ZM501.2,348.3L491.9,348.2L490.6,354.9L496.3,355.3L501.9,355.7ZM513.7,348L512.9,348.7L511.6,358.4L512.4,359.4L523,359.4L523.3,349.3L522.8,348.8ZM554.8,350.9L554.3,361.2L554.8,361.7L565.3,361.3L565.6,350.9L555.8,349.9ZM609.4,363.1L609.8,362.7L608.8,351.7L608.8,351.7L598.7,352.2L597.8,362.2L598.2,362.6ZM608.8,351.7L609.8,362.7L619.3,362.6L624,358.7L623.6,351.9L623.5,351.6ZM480.6,345.8L482.7,335.8L481.3,334.4L469.3,333.7L468.7,340.2L468.3,344.6ZM492.3,337.2L490.8,335.7L482.7,335.8L480.6,345.8L480.6,345.9L491.4,347.6ZM502.5,337.4L492.3,337.2L491.4,347.6L491.9,348.2L501.2,348.3L502.5,347.1ZM524.8,338.4L522.8,348.8L523.3,349.3L533.8,349.6L534,349.4L533.3,339.5ZM535.6,337.6L533.3,339.5L534,349.4L543.3,348.7L545,339.7ZM565.7,350.9L576.2,351.1L577.7,340.7L577.6,340.6L566.8,340L566.5,340.3ZM576.2,351.1L576.4,351.3L587.8,351.2L586.5,340.8L577.7,340.7ZM588.1,339.4L586.5,340.8L587.8,351.2L588,351.4L597.3,350.9L597.9,340.7ZM492.9,324.9L482.5,323.8L482.3,324L481.3,334.4L482.7,335.8L490.8,335.7L493,325ZM502.5,337.3L503.4,327.1L493,325L490.8,335.7L492.3,337.2L502.5,337.4ZM514.4,322.8L513.9,337.7L524.4,337.9L525,326ZM545.7,339.2L545.4,328L535.4,328.6L535.6,337.6L545,339.7ZM566.5,340.3L566.8,340L567.1,329.5L556.7,330.2L555,338.9ZM577.6,340.6L577.7,340.7L586.5,340.8L588.1,339.4L587.8,329.7L587,329L577.4,329.9L577.1,330.1ZM608.7,341L609.3,329.8L608.6,329.3L599.1,330.1L598.6,340.1ZM511,314.3L494,315.5L492.9,324.9L493,325L503.4,327.1L511.9,320.3ZM546.1,317.3L546,317.4L545.9,327.4L555.7,328.9L557,318.8L555.8,317.7ZM577.1,330.1L577.4,329.9L577.2,318.2L567.6,317.9L566.8,318.8L567.3,329.3ZM598,319.3L587.3,318.8L587,329L587.8,329.7L598.1,329.2ZM492.7,314.1L494,315.5L511,314.3L513.7,304.8L509.4,304.5L500.1,303.9L494.5,303.5ZM546.1,317.3L555.8,317.7L557.5,306.9L556.4,306.9L547,306.5L546.4,306.5ZM577.2,318.2L583.3,314L583.4,312.9L575.1,307.4L566.9,307.2L567.6,317.9ZM598,319.3L603.3,314.2L595.6,311.2L584.3,313.6L583.4,312.9L583.3,314L587.3,318.8ZM664.4,364.4L664.3,364.3L655.2,364.8L655.1,364.8L655.2,369.9L655.3,369.9L664.5,369.6ZM673.4,363.9L673.4,363.9L664.4,364.4L664.5,369.6L665,369.6L673.9,369.2ZM673.4,363.9L673.9,369.2L674.8,369.2L684.5,368.8L688,368.6L688,368.1L683.4,363.7ZM710.4,362L701.8,363.2L702.1,367.9L703.9,367.8L710.2,373.5L714.5,365.5ZM636.6,364.9L636.7,364.8L635.9,355.5L623.9,355.9L624.5,364.8ZM645.4,355.3L636.4,355L635.9,355.5L636.7,364.8L645.3,364.5L645.9,355.8ZM654.6,355.5L645.9,355.8L645.3,364.5L645.8,365L655.1,364.8L655.2,364.8ZM692.3,354.1L692.3,354L682.9,354.4L682.6,354.6L683.4,363.7L688,368.1L692,363.8ZM710.9,352.9L710.1,353.8L710.4,362L714.5,365.5L717.6,359.7L715.6,353.1ZM635.9,355.5L636.4,355L636.2,346.3L635.8,345.9L627.3,346.1L623,350.4L623.6,351.9L623.9,355.9ZM645.7,346.3L645.4,355.3L645.9,355.8L654.6,355.5L654.9,355.2L654.4,346ZM654.9,355.2L663.7,355L664.2,354.5L664,346.1L654.6,345.8L654.4,346ZM682.5,345.2L682.5,345.2L673.5,345.2L673.6,354.9L682.6,354.6L682.9,354.4ZM701.3,353.3L701.3,345.1L700.3,344.2L691.7,344.7L691.7,344.8L692.3,354L692.3,354.1L700.6,354ZM627.3,346.1L626.9,336.9L626.7,336.6L618.1,337L619.8,341.6L623,350.4ZM645.6,346.1L645,337.1L636.4,337.3L635.8,345.9L636.2,346.3ZM654.9,336.8L654.7,337L654.6,345.8L664,346.1L664.1,346L663.5,336.7ZM664,336.1L663.5,336.7L664.1,346L673.3,345L672.8,336.6ZM672.8,336.6L673.3,345L673.5,345.2L682.5,345.2L682.5,336.2L682.1,335.8L673.2,336.1ZM654.7,337L654.9,336.8L654.4,327.6L645.4,327.5L645.3,327.6L645.2,336.9ZM663.9,327.7L663.6,327.5L654.4,327.6L654.4,327.6L654.9,336.8L663.5,336.7L664,336.1ZM682.1,335.8L681.7,326.6L673.1,327.3L673.2,336.1ZM699.8,326.2L691,326L690.6,326.3L690.8,335.3L691.3,335.8L700.1,335.1ZM635.9,318.6L626.9,318.3L627,327.6L627.4,328L635.7,327.5ZM654.8,318.8L654.4,327.6L663.6,327.5L663.4,318ZM672.7,326.9L672.1,318.1L663.6,317.8L663.4,318L663.6,327.5L663.9,327.7ZM681.7,326.6L681.8,326.4L681.1,317.4L672.4,317.7L672.1,318.1L672.7,326.9L673.1,327.3ZM681.1,317.4L681.1,317.4L681.8,326.4L690.6,326.3L691,326L690.6,317.1L690.5,317ZM708.5,316.5L699.8,316.3L699.8,326.2L708.6,325.7ZM617.9,318.4L617.5,309.6L612.9,309.3L613.3,310.6L610.4,317L613.2,321.2L613.7,323ZM645.1,308.9L636.6,308.5L635.5,309.6L636.2,318.2L644.6,318.1ZM663.6,317.8L672.1,318.1L672.4,317.7L672.3,308.4L672,308.1L663.3,308.8L662.9,309.2ZM689.7,307.9L681.2,308.3L681.1,308.4L681.1,317.4L690.5,317ZM690.6,317.1L699.6,316.1L699.3,307.6L699.2,307.5L690,307.6L689.7,307.9L690.5,317ZM653.9,309.1L662.9,309.2L663.3,308.8L662.6,299.9L654.3,299.8L653.9,309.1ZM699.2,307.5L699,298.7L693.3,293.7L690.7,293.8L689.6,293.9L690,307.6ZM699.3,307.6L708.4,307L707.4,297.9L699,298.7L699.2,307.5ZM617.8,300L618,295.2L613.4,295.2L611.2,300.1ZM649.5,295L642.4,295.1L632.7,295.2L631.4,295.2L631.4,295.7L635.8,299.7L645.2,299.5L649.5,295.2ZM649.5,295.2L654.3,299.8L662.6,299.9L663.1,299.3L662.9,294.7L661.7,294.7L652,294.9L649.5,295ZM699,298.7L707.4,297.9L710.4,294.5L710,293L700.3,293.4L693.3,293.7ZM537.7,448.8L528.2,447.5L527.1,448.5L526.8,460.6L531.6,460.9L537.1,461.1ZM569.9,449.3L569.8,449.2L559.2,449.3L559.7,462L563.8,462.1L569.4,462.3ZM579.9,450.1L569.9,449.3L569.4,462.3L574.5,462.4L579.4,462.5ZM591,450.9L590.3,450.1L580.1,449.9L579.9,450.1L579.4,462.5L585.2,462.6L590.3,462.7ZM601.7,450.3L601.4,449.9L591,450.9L590.3,462.7L596,462.8L602.1,462.9ZM622.2,450.1L612.7,450.5L611.9,462.9L617.4,463L622.7,463ZM632.8,450.5L622.5,449.8L622.2,450.1L622.7,463L628.2,463L632.4,462.9ZM643.8,450.7L643.7,462.8L649.6,462.8L649.5,450.1ZM506,446.7L507,436.4L506.7,436L500.9,435.8L500.2,446.2L500.2,446.4ZM517.8,437.5L517.5,437.3L507,436.4L506,446.7L506.4,447.1L516.8,447.4ZM517.8,437.5L516.8,447.4L516.9,447.5L527.1,448.5L528.2,447.5L528.2,437.4L528.1,437.4ZM528.2,437.4L528.2,447.5L537.7,448.8L538.2,448.4L538.7,438.1L538,437.2ZM559,449.1L559.2,449.3L569.8,449.2L570.3,439.2L559.8,439.1ZM579.9,450.1L580.1,449.9L580.3,439.7L580.1,439.5L570.7,438.8L570.3,439.2L569.8,449.2L569.9,449.3ZM590.5,440.1L580.3,439.7L580.1,449.9L590.3,450.1ZM591,450.9L601.4,449.9L600.8,439.8L591.4,439.2L590.5,440.1L590.3,450.1ZM601.4,449.9L601.7,450.3L611.9,449.7L611.8,439.6L601,439.6L600.8,439.8ZM622.5,449.8L632.8,450.5L633.5,449.9L633.1,439.7L632.9,439.6L622.6,439.8ZM501.5,425.3L501,433.3L500.9,435.8L506.7,436L507.8,425.7L507.7,425.6ZM518.3,426.4L517.7,426.8L517.5,437.3L517.8,437.5L528.1,437.4L527.9,427ZM538.9,426.9L528.4,426.5L527.9,427L528.1,437.4L528.2,437.4L538,437.2L539.4,427.5ZM549.3,438.2L559,438.2L559.9,428.6L549.5,427.2L548.7,427.9ZM570.7,438.8L580.1,439.5L581.5,429L580.4,428L570.4,428.7L570.3,428.9ZM601,439.6L611.8,439.6L612.2,439.2L611.6,429.4L601.8,429.3ZM611.6,429.4L612.2,439.2L622.2,439.4L622.8,429.1L622.2,428.5L611.9,429.1ZM622.6,439.8L632.9,439.6L632.3,428.9L622.8,429.1L622.2,439.4ZM518.8,415.7L508.6,415.6L507.7,425.6L507.8,425.7L517.7,426.8L518.3,426.4L518.9,415.8ZM549.5,427.2L559.9,428.6L560.3,428.3L560.6,417.7L550.3,417.9ZM570.4,428.7L580.4,428L580.4,418.1L570.4,417.7ZM581.5,429L590.5,428.9L590.9,428.6L590.9,418.7L580.8,417.8L580.4,418.1L580.4,428ZM600.9,428.4L601.8,418.5L591.9,417.7L590.9,418.7L590.9,428.6ZM632.3,428.9L632.3,428.9L632.7,418.2L622.4,417.9L622,418.3L622.2,428.5L622.8,429.1ZM643.3,428.5L649.4,428.9L649.3,421.7L649.3,418.4L643.6,418.6L643,419.2ZM502.8,404.5L502.6,407.5L502.2,414.7L508.2,415.2L509,404.9L508.9,404.7ZM519.6,405.7L518.8,415.7L518.9,415.8L528.6,416.9L529.8,415.8L529.5,406ZM549.1,416.5L550.5,406.8L549.8,406L540.3,405.7L539.7,406.2L539.6,416.6ZM550.3,417.9L560.6,417.7L560.7,417.7L560,407L559.8,406.7L550.5,406.8L549.1,416.5ZM570.3,417.6L570.4,417.7L580.4,418.1L580.8,417.8L581.5,407.7L571.1,406.7L570.9,407ZM611.9,407.6L602,407.8L602,418.3L611.4,418.7L612,418.2ZM622.3,408L622.4,417.9L632.7,418.2L632.8,418.2L633.6,408.5L632.8,407.7L622.5,407.9ZM649.3,418.4L649.2,408L645.7,405.2L643.3,407.6L643.6,418.6ZM508.9,404.7L509.2,394.4L509,394.2L503.5,393.4L503.4,394.6L502.8,404.5ZM509,404.9L519.1,405.2L520,394.8L509.2,394.4L508.9,404.7ZM519.1,405.2L519.6,405.7L529.5,406L530.1,405.5L530.4,395L520.3,394.4L520,394.8ZM540.2,395.3L540.3,405.7L549.8,406L550.1,396.1ZM550.1,396.1L549.8,406L550.5,406.8L559.8,406.7L560.7,397L550.8,395.4ZM559.8,406.7L560,407L570.9,407L571.1,406.7L571.1,397.2L570.8,396.9L561.6,396.2L560.7,397ZM571.1,406.7L581.5,407.7L581.7,407.5L581.4,396.5L581.4,396.5L571.1,397.2ZM601.7,407.5L602,407.8L611.9,407.6L612.4,407.2L612.2,397.7L611.5,397L602.4,397L601.3,398ZM623,397.2L612.2,397.7L612.4,407.2L622.3,408L622.5,407.9L623.1,397.3ZM632.5,397.2L632.8,407.7L633.6,408.5L643.3,407.6L645.7,405.2L640.3,400.9L641.1,397.8ZM511.3,382.1L504.2,381.7L503.5,393.4L509,394.2ZM509,394.2L509.2,394.4L520,394.8L520.3,394.4L519.7,382.6L514.2,382.3L511.3,382.1ZM530.4,394.9L531,383.2L524.3,382.9L519.7,382.6L520.3,394.4L530.4,395ZM550.8,395.4L560.7,397L561.6,396.2L561.2,384.4L554.5,384.2L551.5,384.1ZM570.8,396.9L571.6,384.8L564.6,384.6L561.2,384.4L561.6,396.2ZM570.8,396.9L571.1,397.2L581.4,396.5L580.6,385L574.6,384.8L571.6,384.8ZM581.4,396.5L581.4,396.5L591.3,396.3L592.3,385.2L584.7,385.1L580.6,385ZM591.3,396.3L592,397L601.3,398L602.4,397L601.6,385.3L594.8,385.2L592.3,385.2ZM745.8,475.2L740.1,474.8L737.1,485.7L743.1,485.2ZM660,468.6L659.6,469.1L660.2,475.5L661.2,475.5L669.8,475.3L668.4,469.6ZM698,468.8L688.3,467.2L687.7,467.8L688.6,474.7L695.3,474.5L698,474.4ZM706.6,466.1L706.6,466.1L699.2,467.3L698,468.8L698,474.4L706.7,474L707.9,474ZM726.1,467.1L716.8,467L715.9,473.6L718.1,473.5L726.3,473.1ZM726.1,467.1L726.3,473.1L729.5,472.9L736.4,472.5L736.4,467.6L734.3,465.8L727,466.1ZM745.8,475.2L745.8,475.2L745,466.4L744.6,466.1L736.4,467.6L736.4,472.5L740.8,472.2L740.1,474.8ZM753.7,476L754.1,471.4L759,468.9L754.7,465.3L745,466.4L745.8,475.2ZM659.6,469.1L660,468.6L660.1,459.8L659.9,459.6L649.6,459.7L649.6,462.8L649.7,470.2ZM660.1,459.8L660,468.6L668.4,469.6L670.2,467.7L669,459.2ZM678.3,467.5L679.3,468.6L687.7,467.8L688.3,467.2L688.8,459.4L688.4,458.9L679.4,458.7L678.3,459.8ZM705.9,456.9L697.6,457.5L696.6,458.7L699.2,467.3L706.6,466.1L706.2,457.3ZM706.6,466.1L706.6,466.1L715.7,465.6L716.3,458.2L706.2,457.3ZM736.2,456.4L725.4,457.1L727,466.1L734.3,465.8L736.4,456.6ZM744.6,466.1L745,466.4L754.7,465.3L753,455.7L743.5,456.6ZM753,455.7L754.7,465.3L759,468.9L760,468.4L760.3,458.5L754.9,453ZM659.9,459.6L659.5,451.2L649.5,448.6L649.5,449.1L649.6,459.7ZM688.4,458.9L688.1,450.9L686.1,449.2L678.8,451L679.4,458.7ZM716.9,457.5L724.2,455.9L725.2,449L724,447.8L714.1,447.6L713.4,448.4ZM659.7,440.9L649.5,442.1L649.5,448.6L659.5,451.2L660,450.8L661.1,442ZM724,447.8L722.8,437.8L714.7,438.7L714.3,439.1L714.1,447.6ZM732.9,447L732.8,438.1L723.5,437.1L722.8,437.8L724,447.8L725.2,449ZM743.6,445.9L752.3,445.9L752.2,444.3L743.8,436L742.1,438.3L743.5,445.8ZM668,441L667.9,432.6L659.2,431.8L659.7,440.9L661.1,442L668,441ZM678.1,440.3L678.9,439.6L677,432.1L669.4,431.3L667.9,432.6L668,441ZM687.3,430.7L687.7,439.7L694.2,440.1L694.7,439.7L696.4,429.2ZM696.4,429.2L694.7,439.7L704.6,439.2L705.1,438.6L703.9,427.1L699.2,426.4ZM705.1,438.6L714.3,439.1L714.7,438.7L713,428.2L709.5,424.3L703.9,427.1ZM713,428.2L714.7,438.7L722.8,437.8L723.5,437.1L723.4,430.4ZM723.5,437.1L732.8,438.1L733.1,437.9L734.2,427.7L723.9,429.6L723.4,430.4ZM743.8,436L743.6,435.8L734.2,428.6L734.6,427.2L734.2,427.7L733.1,437.9L742.1,438.3ZM658.7,420.7L649.3,422.4L649.4,431.7L658.7,431.4L660.5,422.6ZM723.9,429.6L722.9,420.8L721.7,420L711,421L709.5,424.3L713,428.2L723.4,430.4ZM667.7,411.5L658.7,412.8L658.6,412.9L658.7,420.7L660.5,422.6L668.4,422.1L668.7,421.8L668.9,412.8ZM658.6,412.9L658.7,412.8L656.9,403.6L651.4,402.7L646.6,405.9L649.2,408L649.2,413.2ZM668.2,404.5L659.1,402L656.9,403.6L658.7,412.8L667.7,411.5L668.3,404.6ZM676.5,402.8L676.1,402.4L668.3,404.6L667.7,411.5L668.9,412.8L678.2,412.8L678.5,412.5ZM714.3,409.8L721.8,409.5L721.8,399.9L713.1,400.9ZM651.4,402.7L650.4,394.3L649.3,393.5L641.6,396.1L640.3,400.9L646.6,405.9ZM685.4,402.6L685.6,402.3L685,394.9L677.5,393.6L676.1,394.7L676.1,402.4L676.5,402.8ZM693.5,392.6L686.6,393.5L685,394.9L685.6,402.3L695.1,402.4ZM712.5,392.4L704.2,392.2L703.6,392.8L703.9,401.3L704.2,401.6L712.8,400.7ZM712.5,392.4L712.8,400.7L713.1,400.9L721.8,399.9L722.1,399.5L717.4,394.6L714.4,390.5ZM649.4,384.4L648.1,385.6L649.3,393.5L650.4,394.3L659,392.7L658.4,385.2ZM678.1,385.3L677.5,393.6L685,394.9L686.6,393.5L684.1,383.6ZM694.3,391.6L694.1,385.3L693,384.1L684.2,383.5L684.1,383.6L686.6,393.5L693.5,392.6ZM704.2,392.2L704.6,383.6L703.1,382.3L694.1,385.3L694.3,391.6L703.6,392.8ZM631.9,376L629.9,377.3L635.1,385.4L638,387.3L640.3,385.2L639.4,377.6ZM658.8,384.8L658.3,374.7L658.1,374.4L649.7,376L649.4,384.4L658.4,385.2ZM667.1,383.7L666.8,376L658.3,374.7L658.8,384.8ZM675.4,383.6L675.2,374.1L668.5,374.6L666.8,376L667.1,383.7L668.7,385ZM675.5,373.8L675.2,374.1L675.4,383.6L678.1,385.3L684.1,383.6L684.2,383.5L684.4,375.7ZM694.1,385.3L703.1,382.3L702.3,376.2L693.4,374.8L693,384.1ZM668.5,374.6L675.2,374.1L675.5,373.8L676,369.2L674.8,369.2L667,369.5ZM685.4,374.8L693.2,374.7L694,368.4L685,368.8ZM693.2,374.7L693.4,374.8L702.3,376.2L706.6,370.3L703.9,367.8L694.2,368.3L694,368.4ZM599.2,538.4L588.9,539.6L587.1,541.7L591.1,544.9L596.3,547L598.5,544.2L601.6,541.6L603.5,542.9ZM645.8,539.7L642.3,543.1L646,547L649.6,548.5L653.8,549.5L653.9,541ZM551.5,529.9L554.6,530.8L556.6,534L559.7,534.1L563.9,536.3L564.6,536.1L565.1,528.1L554.3,526.9ZM577.4,529.5L565.1,528L565.1,528.1L564.6,536.1L567,535.6L569.1,538L572.3,536L576.9,536.5ZM587,528.2L588.9,539.6L599.2,538.4L599,529.6L597.6,528.2L588.1,527.3ZM610.2,539.8L611.7,530L609.8,527.9L599,529.6L599.2,538.4L603.5,542.9L604.8,543.7L605.6,543.9ZM633.6,529.6L633.3,529.2L622.8,528.4L622.2,529L621.9,540.8L624.4,543.6L626.9,543L631.2,542.2L633.8,543ZM645.8,539.7L645.9,529.7L645.6,529.5L633.6,529.6L633.8,543L636.4,543.8L641.7,542.4L642.3,543.1ZM645.9,529.7L645.8,539.7L653.9,541L653.9,534.3L654,529.3ZM538.4,515.3L538.1,524.2L541.1,525.9L544.1,529.1L547.3,528.2L550.4,529.6L551.5,529.9L554.3,526.9L552.9,516.5ZM565.9,516.7L553.4,516L552.9,516.5L554.3,526.9L565.1,528.1L565.1,528L566.8,517.8ZM587,528.2L588.1,527.3L588.1,517.2L577.6,516.3L576.5,517.5L578.1,528.9ZM588.1,517.2L588.1,527.3L597.6,528.2L600.1,517L598.9,515.6L588.9,516.4ZM600.1,517L597.6,528.2L599,529.6L609.8,527.9L609.7,518.6ZM609.7,518.6L609.8,527.9L611.7,530L622.2,529L622.8,528.4L621.3,517.9L610.7,517.8ZM645.5,518L645.6,529.5L645.9,529.7L654,529.3L654,519.2L654.1,517.8ZM555.4,505.7L554.1,504.2L539,502.5L538.8,507.6L538.4,515.3L552.9,516.5L553.4,516ZM565.9,516.7L566.5,506.6L565.2,505.4L555.4,505.7L553.4,516ZM621.3,517.9L622,517.1L621.7,506L621.6,505.9L611.1,506.6L610.7,517.8ZM632.9,506.6L632.2,505.9L621.7,506L622,517.1L632.8,516.6ZM645.5,518L654.1,517.8L654.1,506L644.6,507.3L644.2,516.8ZM554.1,504.2L555.7,493.2L554.7,492.2L544.8,493L539.1,498.7L539,502.5ZM555.4,505.7L565.2,505.4L566.1,494.6L564.9,493.4L555.7,493.2L554.1,504.2ZM575.9,494.2L566.1,494.6L565.2,505.4L566.5,506.6L576.8,506ZM586.9,505.1L588.4,494.5L588.2,494.2L577.1,493L575.9,494.2L576.8,506L577.2,506.4ZM610.7,494.3L610.5,494.1L599,494.3L598.4,494.9L600,506L609.6,505.4ZM621.6,505.9L621.3,495.2L610.7,494.3L609.6,505.4L611.1,506.6ZM621.7,506L632.2,505.9L633.2,494.2L621.4,495.1L621.3,495.2L621.6,505.9ZM643.6,506.3L643.2,495.8L633.3,494.1L633.2,494.2L632.2,505.9L632.9,506.6ZM643.6,506.3L644.6,507.3L654.1,506L654.1,504.1L652.7,494.6L645.4,494L643.2,495.8ZM544.8,493L543.6,481.2L540,478L539.5,490.9L539.1,498.7ZM554.7,492.2L554.6,482.5L543.6,481.2L544.8,493ZM554.6,482.5L554.7,492.2L555.7,493.2L564.9,493.4L566.2,482.4L555.1,482ZM566.2,482.4L564.9,493.4L566.1,494.6L575.9,494.2L577.1,493L576.6,484.2L566.8,481.9ZM577.1,493L588.2,494.2L588.7,483.2L578,482.7L576.6,484.2ZM588.7,483.2L588.2,494.2L588.4,494.5L598.4,494.9L599,494.3L599.8,482.7L590.1,481.5ZM621.3,495.2L621.4,495.1L621.5,483.8L611.3,482.6L610.6,483.3L610.5,494.1L610.7,494.3ZM633.2,494.2L633.3,494.1L633.2,484.2L632,483L622,483.3L621.5,483.8L621.4,495.1ZM652.7,494.6L652,489.9L649.8,475.9L644.5,482.4L645.4,494ZM565.9,471.3L556,470.7L555.1,482L566.2,482.4L566.8,481.9L567.3,472.7ZM566.8,481.9L576.6,484.2L578,482.7L578.5,472.8L577,471.6L567.3,472.7ZM611.3,482.6L611.7,473L610.6,471.8L600.8,472.8L599.9,482.7L610.6,483.3ZM622,483.3L632,483L632.3,473.4L622.9,471.2L621.7,472.3ZM649.8,475.9L649.8,475.7L649.8,473.5L634.1,471.8L632.3,473.4L632,483L633.2,484.2L644.5,482.4ZM489.7,458.4L480.1,457.8L479.1,470.7L489.3,471.4L490.9,471.5ZM490.9,471.5L499.5,472L501,472.1L501.8,459.2L499.5,459.1L489.7,458.4ZM501,472.1L509.6,472.7L511.9,472.8L512.4,459.9L510.2,459.7L501.8,459.2ZM511.9,472.8L519.8,473.2L520.7,473.3L523.4,460.5L520.9,460.3L512.4,459.9ZM520.7,473.3L530,473.7L533.2,473.9L533.7,461L531.6,460.9L523.4,460.5ZM544.5,470.9L544.3,461.4L542.3,461.3L533.7,461L533.2,473.9L540.2,474.2L540.1,475.3ZM567.3,462.2L563.8,462.1L555.7,461.8L556,470.6L556,470.7L565.9,471.3ZM577,471.6L577.6,462.5L574.5,462.4L567.3,462.2L565.9,471.3L567.3,472.7ZM588.5,472.4L588.7,472.1L588.9,462.7L585.2,462.6L577.6,462.5L577,471.6L578.5,472.8ZM599.5,471.4L599.8,462.9L596,462.8L588.9,462.7L588.7,472.1ZM610.6,471.8L610.6,462.9L606.7,462.9L599.8,462.9L599.5,471.4L600.8,472.8ZM610.6,471.8L611.7,473L621.7,472.3L622.9,471.2L622.5,463L617.4,463L610.6,462.9ZM663.3,558.2L663.5,565.3L669.7,565.2L670.4,558.1L670.4,558.1ZM669.7,565.2L675.7,565.1L681.5,565L679.1,558L670.4,558.1ZM700.8,564.5L711.2,564.1L709.7,557.8L701.8,557.9ZM670.4,558.1L679.1,558L679.7,557.2L679.5,547.7L671.7,546.2L669.2,548.1L670.4,558.1ZM703.9,546.4L699.9,549.4L699.3,555.8L701.8,557.9L709.7,557.8L711.3,555.3L709.6,546.8ZM691.8,536.6L680.5,536.3L679.9,537L681.6,545.8L690,546.4L690.6,545.9L692.5,537.3ZM692.5,537.3L690.6,545.9L699.9,549.4L703.9,546.4L699.2,537ZM721.3,536.6L712.1,534.5L710.1,537.2L710.4,546L725.7,543.8L726.4,541.3ZM662.1,537.9L669.3,535.4L669.9,528L660,526.4L659.1,527.5ZM670.2,527.6L669.9,528L669.3,535.4L672.4,538L679.9,537L680.5,536.3L680.1,527.8L680.1,527.7ZM700.5,535.8L702.8,528.5L699,524.8L691,529.2L691.8,536.6L692.5,537.3L699.2,537ZM710.1,537.2L712.1,534.5L710.6,527.4L710.4,527.2L702.8,528.5L700.5,535.8ZM729.1,525.7L720.8,525.5L719.6,526.8L721.3,536.6L726.4,541.3L728.8,532.4L731.1,527.6ZM659.1,527.5L660,526.4L659.6,518.4L654.1,517.8L654,519.2L654,528.9ZM670.4,519.2L670.2,527.6L680.1,527.7L680.5,517.4L680.3,517.3ZM710.4,527.2L710.5,518.8L708,516.4L698.7,518.2L698.6,518.2L699,524.8L702.8,528.5ZM719.6,526.8L720.8,525.5L719,516.9L710.5,518.8L710.4,527.2L710.6,527.4ZM729.1,525.7L727.9,515.3L720.2,515.4L719,516.9L720.8,525.5ZM661.2,516.9L668.2,517.2L671.4,507.2L669.7,505.5L660.4,508.8ZM677.7,508.2L671.4,507.2L668.2,517.2L670.4,519.2L680.3,517.3ZM689.1,518.1L698.6,518.2L698.7,518.2L697.4,507.9L689.7,507.5L687.5,516.9ZM729.4,514L737.8,515L740.1,511.1L744.1,508.3L744.3,507.6L740.2,504.2L729.4,505.8L728.9,506.4ZM659.3,497.9L658.8,497.5L653.1,497.1L654.1,504.1L654.1,507.5L658.3,507.1ZM669.7,505.5L668.7,498.4L668.4,498.1L659.3,497.9L658.3,507.1L660.4,508.8ZM688.7,495.9L679.7,497.8L679.8,506.2L688.5,506.2L689.5,496.6ZM688.5,506.2L689.7,507.5L697.4,507.9L699,506.5L697.7,496.8L697.2,496.3L689.5,496.6ZM697.7,496.8L699,506.5L708.2,506.8L706.9,496.8ZM718.4,504.2L728.9,506.4L729.4,505.8L729.4,495.6L727.3,494.5L719.1,497.2ZM729.4,505.8L740.2,504.2L736.9,494.7L729.4,495.6ZM658.8,497.5L659.5,488.3L659.2,488L651.6,487.2L652,489.9L653.1,497.1ZM668.4,498.1L668.1,488.1L659.5,488.3L658.8,497.5L659.3,497.9ZM687.3,489L679.1,486.6L677.9,487.4L677.5,496.2L679.7,497.8L688.7,495.9ZM697.2,496.3L699,487L698.9,486.7L690.7,485.1L687.3,489L688.7,495.9L689.5,496.6ZM708.2,495.4L717,495.3L716.5,485.2L709,485.8L706.8,488.1ZM748.3,491.7L750.2,484.6L737.1,485.7L737.8,483.1L736.4,484.5L737.3,494.2ZM660.2,475.5L649.8,475.7L651.6,487.2L659.2,488ZM706.8,488.1L709,485.8L705,474.1L701.3,474.3L698.9,486.7L699,487ZM709,485.8L716.5,485.2L718,483.6L717.4,473.5L706.7,474L705,474.1ZM718,483.6L726.5,485.9L729.3,483.7L728.1,473L718.1,473.5L717.4,473.5ZM760,468.2L760,468.4L754.1,471.4L762.7,470.8ZM773.8,465.8L766.1,470.5L768.8,470.3L775.5,469.8ZM765.7,464.7L760.2,461.5L760,468.2L762.7,470.8L765,470.6ZM773.8,465.8L773.5,462.7L771.3,461.5L765.7,464.7L765,470.6L766.1,470.5ZM784.1,459.4L778.2,460.7L783.4,467.9L783.1,464.5L787.2,464.2ZM799.1,458.6L796.2,459.7L795.3,463.7L805.3,463L805.5,463ZM837.1,456.1L831.9,455.8L828.9,459.7L829,461.2L838.5,460.4ZM842.5,454.5L838.2,454.9L837.1,456.1L838.5,460.4L838.6,460.3L844,459.8ZM842.5,454.5L844,459.8L847.7,459.5L848.6,453.4L846.1,451.5ZM856.8,456.4L854.9,453.3L848.6,453.4L847.7,459.5L849.6,459.3L856.7,458.6ZM863.8,454L856.8,456.4L856.7,458.6L860.7,458.2L864.6,457.8ZM869.2,453.9L865.7,451.8L863.8,454L864.6,457.8L869.8,457.3ZM869.8,457.3L871.8,457.1L878.5,453.6L876.6,451.4L869.2,453.9ZM777.8,460.6L778.1,450.5L777,449.7L773.2,455.2L768.6,456.4L771.3,461.5L773.5,462.7ZM812.5,452.5L809.5,450L805.9,454.1L808.4,461.1ZM817.7,455.8L817.2,453.4L812.5,452.5L808.4,461.1L808.6,462.8L808.7,462.8ZM831.9,455.8L837.1,456.1L838.2,454.9L837.7,448.8L833.6,447.3L830.5,448.8L830.2,449.5ZM842.5,446.7L837.7,448.8L838.2,454.9L842.5,454.5L846.1,451.5L846.1,451.2ZM855,452.9L852.2,444.7L852.1,444.7L846.1,451.2L846.1,451.5L848.6,453.4L854.9,453.3ZM865.7,451.8L869.2,453.9L876.6,451.4L876.6,451.2L870.4,444.1L865.3,446.2L864.9,446.7ZM871.8,441.7L870.4,444.1L876.6,451.2L880.6,444.2L879.2,441.8ZM799.5,444.4L797.8,445.7L798.5,451.6L800.1,452.9L801.3,452.7L805.5,445.6ZM818.2,451.6L823.1,450.2L822.5,444.1L819,442.6L816,442.7L815.5,443.9ZM824.9,451L830.2,449.5L830.5,448.8L826.6,442.9L822.5,444.1L823.1,450.2ZM833.6,447.3L834.9,441.3L829.3,438.6L828.1,439L826.6,442.9L830.5,448.8ZM837.7,448.8L842.5,446.7L843.4,441.3L842.6,440.8L838.2,439.6L834.9,441.3L833.6,447.3ZM847.8,439.5L843.4,441.3L842.5,446.7L846.1,451.2L852.1,444.7ZM856.8,443.7L860.7,446.7L864.9,446.7L865.3,446.2L862.8,439.4L857.9,438.7ZM871.2,437.4L868.7,435.9L864.2,437.3L862.8,439.4L865.3,446.2L870.4,444.1L871.8,441.7ZM886.1,437.9L882.1,435.9L880.9,437.4L879.2,441.8L880.6,444.2L887.4,445.8L889.6,443.4ZM893.8,433.6L891.3,432.8L886.1,437.9L889.6,443.4L895.6,436.8ZM778.1,450.5L782.6,451.1L787.1,447.4L785.7,442L781.2,440.9L781.4,443.4L777,449.7ZM790.5,438.2L790.2,438.1L785.7,442L787.1,447.4L790.2,448.1L794.1,444.7L792.3,439.9ZM794.1,444.7L797.8,445.7L799.5,444.4L800,438.6L792.3,439.9ZM807.3,438.1L802.9,434.1L800,438.6L799.5,444.4L805.5,445.6L805.6,445.6ZM819,442.6L823.9,436L823.1,434.5L814.5,437.4L813.8,438.7L816,442.7ZM842.6,440.8L841.2,431.4L836.3,433L838.2,439.6ZM848.2,438.6L847.7,433.9L843,430.1L841.2,431.4L842.6,440.8L843.4,441.3L847.8,439.5ZM856.4,436.4L857,434.3L856.1,432.5L851.1,430.2L847.7,433.9L848.2,438.6ZM881.6,432.2L876.6,429.4L872.2,436.5L880.9,437.4L882.1,435.9ZM896.9,427.9L893.8,433.6L895.6,436.8L897,435.3L902.7,428.2L898.9,425.7ZM785.7,442L790.2,438.1L787.3,433.1L780.7,435.6L781.2,440.9ZM790.2,438.1L790.5,438.2L796.2,433.4L789.5,432.3L787.3,433.1ZM800,438.6L802.9,434.1L802.5,432.9L799.7,434L796.2,433.4L790.5,438.2L792.3,439.9ZM807.3,438.1L813.8,438.7L814.5,437.4L814.7,430.5L810.5,429L809.4,430.4L802.5,432.9L802.9,434.1ZM825.4,430.3L823.2,432L823.1,434.5L823.9,436L828.1,439L829.3,438.6L829.8,437.5L828.9,431.1ZM829.8,437.5L835.6,432.6L834.1,430.1L833,429.7L828.9,431.1ZM851.1,426.9L851.1,430.2L856.1,432.5L857.7,427.4L852.7,425.2ZM857.7,427.4L856.1,432.5L857,434.3L861.5,432.9L863.5,430L861.4,425.9ZM881.1,423L876.5,426.3L876.1,428.5L876.6,429.4L881.6,432.2L886.9,428.6L887.2,427.3ZM889.8,421.9L885,418.1L881.8,420.3L881.1,423L887.2,427.3L887.4,427ZM898.9,425.7L893,421.6L892.6,421L889.8,421.9L887.4,427L896.9,427.9ZM846.5,425.8L846.1,419.2L845.6,418.8L839.9,420L838.3,421.8L838.7,423.8L843.1,428.2ZM853.2,420.2L846.1,419.2L846.5,425.8L851.1,426.9L852.7,425.2ZM857.7,427.4L861.4,425.9L862,423.5L858.1,418.5L856.9,417.8L855.5,418.3L853.2,420.2L852.7,425.2ZM858.1,418.5L862,423.5L864.9,422.6L866,415.7ZM873,418.5L866.5,415.2L866,415.7L864.9,422.6L867.6,423L872.9,419.1ZM885,418.1L884.9,414.1L877.8,414.4L875,416.4L874.9,416.5L881.8,420.3ZM892.6,421L887.7,413.2L887.4,410.5L886.6,410.9L884.9,414.1L885,418.1L889.8,421.9ZM826.3,423.2L829.2,422.6L831.5,420.5L831,415.6L828,413.8L826.2,418.3L824.6,422.4ZM838.3,421.8L839.9,420L838.2,413.7L834.3,412.9L831,415.6L831.5,420.5ZM841.8,410.2L838.2,413.7L839.9,420L845.6,418.8L845.6,418.5L843,411.4ZM843,411.4L845.6,418.5L849.5,412.6L849.5,412.1ZM849.5,412.6L855.5,418.3L856.9,417.8L858.3,411.5L854.4,409.1L850.7,409.5L849.5,412.1ZM866.5,415.2L866,412L861,409.8L858.3,411.5L856.9,417.8L858.1,418.5L866,415.7ZM875,416.4L877.8,414.4L879.1,408L874.9,408.2L872.9,411.2ZM877.8,414.4L884.9,414.1L886.6,410.9L879.7,407.6L879.1,408ZM834.3,412.9L833.1,406L830.9,406.6L828,413.8L831,415.6ZM850.7,409.5L848.3,406.6L843.9,406.7L841.8,407.5L841.8,410.2L843,411.4L849.5,412.1ZM858.3,411.5L861,409.8L862,404.1L855,402.2L854.4,409.1ZM868.7,410.1L872.9,411.2L874.9,408.2L871.8,402.8L869,403.8ZM879.7,407.6L886.6,410.9L887.4,410.5L886.9,407.5L879.9,402.2ZM841.8,407.5L843.9,406.7L847.3,395L841.1,395.8L842.1,403.5L838.5,404.5ZM843.9,406.7L848.3,406.6L851.5,399.2L847.4,395L847.3,395ZM799.7,504.8L794.4,502L790,505.6L789.3,507.5L794.4,507.1L800.1,506.7ZM810.5,504.2L801.9,502.1L799.7,504.8L800.1,506.7L805.2,506.2L811.1,505.7ZM744,508.4L740.1,511.1L741.4,511ZM751,500.9L747,496.1L746.6,497.8L744.1,508.2ZM754.7,502.3L751,500.9L744.1,508.2L744.1,508.3L744,508.4L741.4,511L751,510.4L755.7,510.1ZM770.3,499.6L771.3,509L772.8,508.9L780.4,508.3L780.1,501.3L773.9,498.1L771.5,498.7ZM793.8,497.9L794.4,502L799.7,504.8L801.9,502.1L803.2,495.8L801.4,495.1ZM825.4,493.2L819.2,496.7L821.2,504.7L826.7,504.2L829.2,503.9ZM825.9,492.5L825.4,493.2L829.2,503.9L835.3,503.3L833.6,493.5L830.3,491.8ZM833.6,493.5L835.3,503.3L837.5,503.1L841.2,502.7L843.9,493.8L837.7,490.7ZM849.6,493L847.7,491.7L843.9,493.8L841.2,502.7L850.7,501.6L853.5,501.3ZM860.7,491L858.4,489.7L849.6,493L853.5,501.3L863.9,500L863.7,495.7ZM768.1,487.6L771.5,498.7L773.9,498.1L776.9,491.3L774.5,488.1ZM792.5,496.7L793.8,497.9L801.4,495.1L796.7,487.6L795.8,487.7ZM801.4,495.1L803.2,495.8L808,494.2L807.8,488L798,486.5L796.7,487.6ZM807.8,488L808,494.2L810.5,495.8L816.3,495L817.5,487L813.9,485.6L808.3,487.1ZM816.3,495L819.2,496.7L825.4,493.2L825.9,492.5L822.3,485.8L821.1,485.1L817.5,487ZM829.4,483.6L822.3,485.8L825.9,492.5L830.3,491.8L830.7,485.4ZM838.7,484.7L837.7,490.7L843.9,493.8L847.7,491.7L847.6,485.2L846.4,484.6L838.9,484.4ZM862.2,479L853.9,482.4L858.4,489.7L860.7,491L864.7,481.3ZM860.7,491L863.7,495.7L863.7,494.6L870.8,486L867.4,481.8L864.7,481.3ZM867.4,481.8L870.8,486L870.9,485.9L879.4,481.2L876.6,478.7L870.2,478.8ZM755.4,493L762.1,491.6L762.1,491.5L757.5,483.4L750.1,485L748.8,489.6ZM768.1,487.6L767,482.4L766.4,482L760,481L757.5,483.4L762.1,491.5ZM783.9,490.8L784.9,491.4L791.3,486L789.5,480.2L783.4,479.1L781.1,482.6ZM796.7,487.6L798,486.5L800.4,480.3L797.9,478.4L789.7,480L789.5,480.2L791.3,486L795.8,487.7ZM813.9,485.6L813.8,479.1L811.4,476.7L805.9,478.8L808.3,487.1ZM817.5,487L821.1,485.1L820.9,480.1L813.8,479.1L813.9,485.6ZM836.9,477.5L835.4,476.8L830.1,476.7L829.4,483.6L830.7,485.4L838.7,484.7L838.9,484.4ZM846.4,484.6L844.3,474.3L836.9,477.5L838.9,484.4ZM847.6,485.2L853.6,482.3L852.3,477.2L845,473.3L844.3,474.3L846.4,484.6ZM866.6,471.4L862.2,472.7L862.2,479L864.7,481.3L867.4,481.8L870.2,478.8L870,472.6ZM870.2,478.8L876.6,478.7L874.4,471.6L870,472.6ZM883.5,472.7L875.4,470.5L874.4,471.6L876.6,478.7L879.4,481.2L884.5,478.3ZM757.5,483.4L760,481L759,475.7L755.6,471.3L754.1,471.4L753.5,477.9L750.2,484.6L750.1,485ZM773,470L768.8,470.3L768.4,470.3L765.7,474.4L766.4,482L767,482.4L772.5,478.8L774,474.6ZM772.5,478.8L776.8,483.5L781.1,482.6L783.4,479.1L783.3,478.9L774,474.6ZM789.5,480.2L789.7,480L791.3,473.7L788.7,470.4L783.8,472.3L783.3,478.9L783.4,479.1ZM789.7,480L797.9,478.4L796.8,472.4L791.3,473.7ZM803.4,472.4L797.1,472.1L796.8,472.4L797.9,478.4L800.4,480.3L805.8,478.7ZM811.4,476.7L813.7,471.6L805.3,468.5L803.4,472.4L805.8,478.7L805.9,478.8ZM829,476L828,469.4L817.8,471.3L822.3,477.7ZM835.4,476.8L837,466.5L836,466L828.6,467L828,469.4L829,476L830.1,476.7ZM844.3,474.3L845,473.3L845.3,470.1L842.1,466.5L837,466.5L835.4,476.8L836.9,477.5ZM859.9,469.4L860.4,471.2L862.2,472.7L866.6,471.4L868.7,464L865.8,460ZM874.4,471.6L875.4,470.5L875.6,465.6L868.7,464L866.6,471.4L870,472.6ZM892.4,469.1L889.4,462.1L889,462L883.4,464.9L884.2,471.1ZM897.5,459.5L896.5,459.1L889.4,462.1L892.4,469.1L894.4,470.6L895.7,469.5L900.3,467.6ZM783.8,472.3L788.7,470.4L790,464.1L783.1,464.5L783.5,469.1L780.4,469.4ZM788.7,470.4L791.3,473.7L796.8,472.4L797.1,472.1L796.3,463.7L794.2,463.8L790,464.1ZM797.1,472.1L803.4,472.4L805.3,468.5L803.9,463.1L796.3,463.7ZM815.2,470.4L816.4,470.3L822.3,461.7L816.4,462.2L811.6,462.6ZM816.4,470.3L817.8,471.3L828,469.4L828.6,467L825,461.5L822.3,461.7ZM828.6,467L836,466L835.5,460.6L827.5,461.3L825,461.5ZM836,466L837,466.5L842.1,466.5L844.2,459.8L838.6,460.3L835.5,460.6ZM852.4,464.9L857.6,466.9L860,458.3L851.7,459.1ZM857.6,466.9L859.9,469.4L865.8,460L865.3,457.8L860.7,458.2L860,458.3ZM871.9,457.1L871.8,457.1L865.3,457.8L865.8,460L868.7,464L875.6,465.6L878.1,463ZM878.1,463L878.2,462.9L880.7,456L871.9,457.1ZM878.2,462.9L883.4,464.9L889,462L886.1,455.3L881.9,455.8L880.7,456ZM889,462L889.4,462.1L896.5,459.1L894.3,454.2L892,454.5L886.1,455.3ZM909.9,425.3L906.3,429.3L916.9,432.3L916.9,432.3ZM929.4,420L924.3,429.2L926.5,428.2L936,424L936,423.9ZM914.8,416.5L912.8,421.2L918.8,424.9L920.7,419.2L919.4,416.7ZM929.4,420L929.1,419.1L920.7,419.2L918.8,424.9L920.6,430.8L924.3,429.2ZM900.5,421.3L897.6,415.9L892.2,413.7L889.3,415.7L893,421.6L898.3,425.3ZM905.2,419.6L907.9,412.6L902,407.6L897.6,415.9L900.5,421.3ZM909.7,422.2L912.8,421.2L914.8,416.5L911.2,411.7L907.9,412.6L905.2,419.6ZM913.2,409.2L911.2,411.7L914.8,416.5L919.4,416.7L922.6,409.1L917.9,408.3ZM922.6,409.1L919.4,416.7L920.7,419.2L929.1,419.1L929.8,415L926.5,410.5L923.1,408.9ZM929.8,415L939.5,412.2L940.4,409.4L932,406L926.5,410.5ZM892.2,413.7L892.8,403.9L891.5,402.8L886.9,407.5L887.7,413.2L889.3,415.7ZM911.8,405.4L908.7,403.7L901.5,406.3L902,407.6L907.9,412.6L911.2,411.7L913.2,409.2ZM915.3,398.7L911.8,405.4L913.2,409.2L917.9,408.3L915.8,399.2ZM926.5,410.5L932,406L931.6,400.5L929.9,399.5L923.7,403.2L923.1,408.9ZM900.4,405.2L903.5,398L901,395.5L892.5,398.7L892.2,402.1L891.5,402.8L892.8,403.9ZM901.5,406.3L908.7,403.7L908.9,396.3L903.5,398L900.4,405.2ZM914.1,395.6L915.3,398.7L915.8,399.2L922.7,401.9L922.9,394.1L916,393.7ZM922.7,401.9L923.7,403.2L929.9,399.5L928.5,393.8L926.1,392.6L922.9,394.1ZM936.8,399.6L936.4,390.3L936,390.1L928.5,393.8L929.9,399.5L931.6,400.5ZM936.4,390.3L936.8,399.6L942.2,402.5L944.2,395.1L946.8,396L944.7,391.4L942.5,389.8ZM906.8,389L910.1,395.3L914.1,395.6L916,393.7L916.7,387.8L910.7,385.2ZM932.9,383.3L936,390.1L936.4,390.3L942.5,389.8L943,385L937.2,381.1L933.2,382.8ZM957.9,379.7L950.5,382L951.4,386.2L956.8,389.1L958.7,386L960.7,381ZM906.8,389L910.7,385.2L910.5,381.3L906.2,378.7L905.7,379.2L901.3,387.2ZM916.7,387.8L918.6,385.8L915.4,378.9L910.5,381.3L910.7,385.2ZM933.2,382.8L937.2,381.1L941.4,374.9L932,373.3L931.5,374.1ZM951.6,369.2L950.8,369.8L946.1,376.1L946.8,379L950.5,382L957.9,379.7ZM910.5,381.3L915.4,378.9L916.3,377.1L912.7,372.7L906.2,378.7ZM917.2,361.6L916.4,367.1L922,375.1L924.8,367.7L922.3,368.1L921.2,361.2ZM921.2,361.2L918.5,344.7L918.4,353.6L917.2,361.6ZM1013,350.9L1018.7,349.7L1019.6,347.4L1016,347.4ZM166.3,632.9L178,630.9L192.2,609.7L184.6,608.4L172.3,605.8L167.1,604.9L160.9,601.4L156.6,604L147.8,607.5L145.1,609.5ZM150.5,652.6L156,650.9L166.3,632.9L145.1,609.5L140.8,612.8L132,619.8L127.8,622.6L131.3,628.5L133.7,632.9L141.4,642L143.4,642.5L143,643.9ZM187.9,645.8L178,630.9L166.3,632.9L156,650.9L171.9,661.5L184.7,654.5ZM171.9,661.5L156,650.9L150.5,652.6L142.5,663.7L142.4,664.9L144.8,673.3L162.6,684.2L170.6,679.4L172.8,674.8ZM135.5,688.2L144.8,673.3L142.4,664.9L142.2,667.4L138.5,670.9L133.8,669.7L127.3,671.6L121.5,677.6L120.1,682.8L122.6,689.8L123,690.6ZM150.2,712.3L153.9,710.9L155.9,711.7L168.1,710.3L169.2,707.3L161.3,691.7L144.7,699.5L143,709.8L143.4,710L148,712.6ZM148,712.6L148.7,713L150.2,712.3ZM155.9,711.7L157.1,712.3L155.2,716.1L149.5,725.2L149.3,725.4L152.1,728.6L154.8,727L160.1,720.5L163.6,716.1L167.9,710.9L168.1,710.3ZM149.3,725.4L142.5,731L137.6,735.4L131.2,738.9L124.2,742.4L125,743.8L132,741L139.9,736.8L146,732.2L152.1,728.6ZM197.9,669.8L184.7,654.5L171.9,661.5L172.8,674.8L198,673.3L198.1,671.3ZM172.8,674.8L170.6,679.4L181.7,688.7L188.1,689.1L190.7,691.6L191.9,686.7L197.2,685.5L198,673.3ZM214.5,642.7L212.6,628.5L210,610.1L202.1,608.4L195.1,610.1L192.2,609.7L178,630.9L187.9,645.8L213.1,643.4ZM112.8,694.7L115.4,694.7L115.4,696.8L112.8,696.8ZM217,694.2L223.1,693.7L230.1,695.4L233.6,693.3L238,697.2L242.4,700L240.6,700.9L233.6,697.2L226.6,696.5L218.7,695.4ZM245.9,702.1L250.3,697.7L253.8,702.1L249.4,704.7ZM270.4,720.5L273,720.5L279.2,727.5L276.5,730.1L271.3,724.9ZM354.3,690L358.1,687.2L359.9,688.9L363.7,694.5L360.6,693.8L357.5,694.3Z" fill="#f08422" stroke="#ffdcb8" stroke-opacity=".58" stroke-width=".8" stroke-linejoin="round"/><path d="M179.7,169.1L190,156.4L187.3,153.9L169.9,154.5L168.5,160.3L174.8,172.2ZM199.6,104.5L200.4,106.4L213.1,120.6L219.8,121.4L224.8,118.4L226.9,105.8L217.9,103.5L208.8,101.2L201.6,99.2ZM291.1,281L289.5,280.7L283.2,289.1L289.3,302.8L294.1,303.7L302.4,305.2L302.8,300.8L295,284.1ZM331.2,284.5L326.4,287.8L328.2,296.8L340.1,302L341.1,295.6L342.8,285.1ZM260.7,269.5L263,277L284.2,274.5L284.5,269.6L276.6,258.3L269.4,255.5ZM287.3,238.3L285.9,237.7L268,249.4L269.4,255.5L276.6,258.3L290.8,252ZM333,255.8L335,259.7L345.8,265.9L346.1,264.1L348.6,248.4L340.8,245.3L340.5,245.2ZM266.8,215.6L267,199.7L262,193.2L253.3,193.2L256.7,204.4L251.2,212.7ZM284,206.8L278.1,199.8L267,199.7L266.8,215.6L266.8,215.6L282.6,215.6ZM256.6,160.9L255.4,166.3L254,172.5L263.9,172.8L264.7,163.2ZM284.8,166.3L268.3,159.2L264.7,163.2L263.9,172.8L266.3,175.8L283.9,168.5ZM284.8,166.3L283.9,168.5L285.9,184.3L289,187.6L297.8,190.5L300.1,183.3L296.6,182.7L293,165L288.7,162.8ZM277.9,144.6L277.8,144.2L280,133.9L271.2,127.9L269.5,128L264,144.6L267.8,146.7ZM306.3,247.2L309.7,235.8L301.1,234.2L287.3,238.3L290.8,252L295.1,255.6ZM246.1,263.7L260.7,269.5L269.4,255.5L268,249.4L259.4,242L256.4,243ZM335.9,222.9L332.9,243.9L340.8,245.3L348.6,248.4L350.7,235.2L357.1,236.2L360,219.6L359.4,219.1ZM436.1,230.4L434,230.3L412.8,237.7L410.3,243.6L413.4,244L422.4,245.1L431.3,246.1L438.4,246.9ZM344.2,201.4L334.3,218.9L335.9,222.9L359.4,219.1L356.9,201.7ZM396,214.8L398.2,220.5L408,224.5L415.9,220.1L418.4,211L415,206.6ZM388.4,166.8L365,168.9L362.2,180.4L380.4,186.7L382,185.6L388.4,166.8ZM401.9,192.1L414.5,196.7L419.4,194.1L426.9,176L410.2,169L405.1,171.3ZM476,184.8L471.9,195.6L480.1,205.7L480.6,199.6L481.7,186.9L482.1,183ZM346.7,142.1L340.1,142.5L333.6,148.3L333.7,154.5L344.8,163.4L353.8,159.8L355,149.5ZM367.9,144.6L366.6,134.5L359.3,133.3L353,132.3L346.7,142.1L355,149.5ZM458,159.6L474.6,163.5L476.5,162.9L475.4,148.2L475.4,148.2L465.8,147.3L460.9,146.8ZM483.5,165.9L483.9,161.6L484.9,149L475.4,148.2L476.5,162.9ZM319.7,141.8L316.8,125.8L308.5,124.2L305,123.4L297.7,130.7L298.9,144.9L305,151L309.7,152ZM306.8,189.4L313.7,174.7L311.5,170.6L293.9,169.5L296.6,182.7L300.1,183.3L298.9,187.2ZM464.6,179.5L476,184.8L482.1,183L482.8,174.2L483.5,165.9L476.5,162.9L474.6,163.5ZM489.9,215.2L488.9,213.9L479.5,213L478.5,225L478.4,226.5L487.9,227.3L488.8,227.4ZM569.5,231.8L573.6,231.9L583.1,232.2L585.1,232.2L585.3,219.8L584.5,219L571.9,219.8ZM504.2,202.3L504.1,215.3L516.4,217.3L517.9,202.9L504.9,201.6ZM599,206.1L599.1,218.5L610.4,219.6L607.6,208L607.5,205ZM532.1,191.3L532.4,204L544,204.4L545.3,203.2L544.6,190.7L534,189.7ZM492.2,187L494.5,174.9L494.1,174.4L482.9,173.4L482.8,174.2L481.9,185.4ZM520.2,177.7L519,176.4L506.4,176.1L506.2,176.3L505.6,189L519.1,189ZM520.2,190.3L532.1,191.3L534,189.7L533,176.8L520.2,177.7L519.1,189ZM558.8,190.3L559.4,191.1L573,191.5L573.1,191.4L573.9,178.8L572.1,177.2L559.8,178.5ZM586.1,178.4L585.5,191.9L585.9,192.3L598.6,191.4L604,185.5L601.9,180.2ZM494.1,174.4L495.3,162.1L494,160.9L483.9,161L483.9,161.6L482.9,173.4ZM519,176.4L519.7,163.2L507.2,162.5L506.4,176.1ZM631.9,273.4L632.5,263.7L630.3,261.2L620.6,260.9L620.5,261L620.6,274.1ZM632.5,263.7L644.1,261.5L644.2,251.8L632.6,250.8L630.3,261.2ZM667.4,238.4L657.7,237.9L656.4,250.6L656.5,250.7L669.1,249.3L669.4,248.9ZM668.5,237.2L667.4,238.4L669.4,248.9L679.2,248.3L678.1,241.7L680.5,238.2ZM680.5,238.2L685.7,230.5L678.8,225.8L669.7,226.9L668.5,237.2ZM632.7,226.9L634.3,216.5L631.3,214L620.5,215.3L621.5,225.5L632,227.5ZM643.4,214.9L634.3,216.5L632.7,226.9L643.1,228.4L646.3,225L643.7,215.1ZM646.3,225L655.8,226.6L657.4,214.8L656,213.3L643.7,215.1ZM607.4,202.8L607.6,208L609.3,215.2L620,214.9L620.3,203.3L620.2,203.2ZM620.3,203.3L620,214.9L620.5,215.3L631.3,214L631.8,204L631.2,203.3ZM631.8,204L631.3,214L634.3,216.5L643.4,214.9L643.1,204ZM679,214.2L679.8,213.4L680.3,198.9L674.3,195.7L668.1,199.7L668.3,214.1ZM656.2,204.8L660.1,200.1L650.7,187L644,190.5L644,202.8ZM620.3,167L620.8,167.6L632.7,169.6L631.5,156.1L629.9,154.8L627.3,154.8L620.9,154.8ZM680.3,198.9L698.7,197.8L692.5,173.6L685,170.8L681.3,168.6L672.5,182L674.3,195.7ZM728.2,304.9L718.1,305.9L718.8,316.2L721.9,318.1L729.8,317.7ZM760.9,303.1L752.2,303.7L750.8,304.9L751.7,316.3L754,316.2L764.1,315.4ZM719.8,292.9L716.8,304.9L718.1,305.9L728.2,304.9L729.3,303.6L727,294.2ZM730,282.7L727.4,280.3L719.3,282.7L717.7,285.1L718.1,291.2L719.8,292.9L727,294.2L727.5,293.8ZM707.5,273.2L706.7,272.4L694.8,273.8L696.6,275.6L706.1,280.8L706.2,281.4ZM706.3,241L705.4,250.3L715,252.8L716.8,251.3L715.3,239.9L714.5,239.5ZM703.9,229.8L705.3,240.1L706.3,241L714.5,239.5L714.1,230ZM714.1,230L714.5,239.5L715.3,239.9L723.1,239.1L725.2,229.6L724.6,228.9L715.9,227.8ZM715.1,218.6L713.8,220.1L715.9,227.8L724.6,228.9L725.5,218.8L724.3,217.6ZM730.5,211.1L726.7,213.3L720,212.5L718.8,212.3L720.1,213.6L726.1,219.4L732.7,220.9ZM773.6,206.1L766.7,201.7L761.7,202.8L756.1,211.7L757.2,215L771.8,217.3ZM793.3,220L782.7,215.5L772.7,218.6L773.8,226.8L782.1,229.6L787.4,226.8L791.3,230.3L793.8,228ZM781.3,442.9L780.7,435.6L781.2,433L770.1,434.5L769.5,435.2L770.7,441.8ZM742.8,427.1L742.3,426.6L734.6,427.1L734.2,428.6L743.4,435.6ZM742.7,418.2L742.3,426.6L742.8,427.1L751.3,426.5L751.6,426.2L749.9,417.7ZM751.1,416.3L749.9,417.7L751.6,426.2L759.2,425.4L759.5,417.8ZM741.5,417L742.5,408.4L741.6,407.5L729.7,410L730.1,410.7L737.2,412.9L736.9,417.3ZM773.3,379.2L774.8,387.4L776.3,388.4L786.7,385L786.2,379.7L786.1,378.6ZM767.2,379.4L773.1,379L774,370.8L773.3,370L765.2,369.3L763.8,371ZM763.8,371L765.2,369.3L764.4,362.2L755.9,363L756.8,372L757.6,372.5ZM772.1,360.1L773.2,353L772,351.6L763.2,352.3L762.2,353.4L764.7,361.8ZM729.8,354.4L736.7,354.1L736.9,345.6L728.9,345.7L727.6,347.3ZM720.8,347.6L727.6,347.3L728.9,345.7L728.2,339.1L718.5,345.5ZM790.1,422.3L790.1,422.3L789.6,415.2L787.7,413.8L783,423.3ZM820.5,412L821.7,425.9L823,426.4L826.2,418.3L828.9,411.5ZM833.6,394.8L841,394.2L840.1,386.5L832.9,386.8L832.4,387.6ZM832.9,386.8L840.1,386.5L839.6,382.4L839.2,378.5L831.9,379.4L831.6,379.7ZM829.6,356.6L830.4,363.1L831.4,363.8L837.5,363.2L836.6,355.7L836.6,355.1ZM822,357.3L822.8,356.2L821.1,350L814.3,351L814.9,358.1L815.1,358.3ZM829.1,356.1L829.3,348.9L828.8,348.5L821.4,349.5L821.1,350L822.8,356.2ZM828.3,341.3L828.8,348.5L829.3,348.9L835.9,348.7L835.1,342.4L835,340.8ZM828.1,333.8L827.8,341L828.3,341.3L835,340.8L834,332.2ZM805.6,315.1L807.2,325.2L807.4,325.3L816.2,323.9L815.5,315.1ZM834.7,312.8L836.6,322.6L836.8,322.7L845.7,321L846.3,320.2L845,311.8L835.3,312.2ZM814.9,304.7L814.9,304.7L824.2,304.5L824.2,304.5L824,294.4L823.1,293.7L814.6,295L814.2,295.5ZM824.2,304.5L833.7,302.6L832.6,294.2L824,294.4ZM843.2,301.6L843.7,302.1L853.8,300.4L852.5,291.6L842.5,292.6L842.3,292.8ZM841.1,272.9L839.5,271.6L830.9,273.7L832.9,283L841.1,282.9ZM851.1,280.6L860.8,279.6L859.2,264.8L854.2,268.1L850.2,275.5ZM802.1,277.3L801.1,267L798.5,265.3L795.8,274.9L796.4,278ZM810.1,266.1L810,266.1L801.1,267L802.1,277.3L802.2,277.4L811.7,276.1L811.7,276.1ZM820.7,274.6L821.9,275.5L830.8,273.6L828.7,264.1L820.2,264.8ZM828.7,264.1L829.3,263.4L828.8,254.2L828.1,253.7L818.9,254.9L818.6,255.2L820,264.6L820.2,264.8ZM838.1,252.7L837.9,253L838.9,262.8L839.5,263.3L850.9,261.5L852.6,256.6L851.9,251.5ZM809.9,255.9L818.6,255.2L818.9,254.9L817.8,245.7L812.9,241.8L812.9,246L810.8,251.9L808.4,246.5L808.2,246.6ZM851.9,251.5L850.7,242.3L836.7,243.4L836.6,243.5L838.1,252.7ZM836.7,243.4L835.8,234.5L826,235.4L826.5,244.2L827.5,245L836.6,243.5ZM883.9,382.1L885.2,383.2L892.7,381.3L890.5,373.6L884.3,373.8ZM850.2,378.6L848.8,370L847.9,369.4L838.5,371.8L839.1,377.9ZM884,373.6L882.4,365.4L882.1,365.2L874.5,366.2L873.9,367L875.2,375.2ZM890.3,363.7L899.2,364L899.8,363.2L896.8,354.7L890.4,356.8ZM871.8,357.7L871.1,350.5L863.5,351.7L864.6,359.9ZM881.4,356.7L889.5,356.2L887.6,347.3L879.7,349.7L880.8,356.2ZM912.1,343.4L905.3,344.5L904.4,345.7L906.5,353.6L914.2,352.2ZM846,344.2L846.5,353.1L847.4,353.8L854,352L853.5,343.7ZM854.1,343.1L853.2,335.3L852.4,334.8L844.7,335.6L844,336.6L845.6,343.9L846,344.2L853.5,343.7ZM902.8,336.8L903.1,336.3L901.6,328.4L894.1,329.7L894.2,337L896.2,338.6ZM851.4,326.3L846.3,327.1L843,327.6L844.7,335.6L852.4,334.8ZM902.1,327.6L909.8,326.7L909.4,317.8L906,315.3L901.1,318.5L900,319.5ZM915.4,326.1L914,317.3L909.4,317.8L909.8,326.7L909.9,326.8ZM928.4,357.3L921.4,351L919.4,350.6L922.3,368.1L928,367.2ZM983.6,346.2L979.4,341.6L979.3,341.6L973.2,347.6L975.7,358.6L982.8,357.2L986.2,356.5ZM1011.7,342.2L1001.9,339.9L1000.5,342.6L1004.5,352.7L1012.9,350.9ZM921.4,351L933.4,345.3L934.1,344.5L933.4,339.9L917.3,337.7L918.5,344.7L919.4,350.6ZM981.3,328.8L986.3,326.3L989.3,319.5L987.2,317.7L976.8,315.8L974.2,319.3L977.1,326.5ZM976.8,315.8L976.7,310L973.9,306.8L967.1,308.5L964.8,312.2L971.5,319.3L974.2,319.3ZM987.2,317.7L989.3,319.5L995.5,318.2L997.7,312.8L994.7,307.4L990.5,307L986.4,307.1ZM1016.5,300.5L1016.5,300.5L1015.6,299.4L1005.5,302.8L1006.6,309.7L1015.2,310.7ZM949.2,312.8L957.1,312.9L956.9,302.2L947.4,304L946,304.3ZM1043.9,312.5L1046,309.5L1046,309.5L1047.6,303.8L1044.9,292.7L1036.4,297.3L1030.8,307.2L1041.3,310.6L1041.2,312.8ZM1023.1,290.4L1023,288.3L1009,285.4L1004.5,289.7L1003.8,292.7L1008.7,291.6L1016.5,300.5L1017.5,301.1ZM968,286.5L962.4,287.9L961.4,289.6L961,297.8L971.4,295.9ZM949,283L946.2,280.5L937.7,280.7L939.4,283.2L935.1,290.5L940.7,293.2L948.3,289.3ZM962.4,287.9L957.5,280.2L956,279.7L949,283L948.3,289.3L948.9,289.7L961.4,289.6ZM1029.4,241.7L1028.1,243.7L1030.3,250.9L1038.8,248.1L1037.8,243.9L1034.8,243.3L1034.4,241ZM1024.7,233.2L1024.7,233.3L1029.4,241.7L1034.4,241L1032.8,232.2ZM1000.4,275.7L998.7,281.8L1004.5,289.7L1009,285.4L1010.2,280.1L1005.7,273.5ZM971.2,283.6L977.2,282.8L978.8,276.7L975.7,270.5L965.8,273L965.4,275.5ZM1006.7,221L1020.2,221L1016.1,210.7L1014.9,210.9L1004.6,213.4ZM1020.2,221L1006.7,221L1007.2,224.7L1014.3,226.9L1021.1,222.5ZM1025.3,283.3L1023,288.3L1023.1,290.4L1036.4,297.3L1044.9,292.7L1043.6,287.3ZM1026.2,268.4L1022.4,279L1025.2,283L1034.6,273.5L1034.9,270.2ZM1055.4,250.4L1057.2,260.8L1067.8,258.5L1069.5,258.1L1068.4,251L1064.6,247.4ZM1082.3,215L1075.2,223.6L1079.4,237.2L1086.7,244L1090.1,235.6L1092,228.4L1098.1,222.7L1104.3,216.9ZM1082.3,215L1083,205L1066.1,193.9L1069.8,206.1L1074.6,221.6L1075.2,223.6ZM1094.7,180.5L1090.2,186.5L1091.7,196.4L1095.3,198.1L1113.3,192.7L1113.9,191.1L1104.2,177.9ZM1110.1,171L1124.1,175.6L1127.6,171.7L1125.5,165.1L1119.3,160.8ZM1107.8,171.6L1098.6,153.1L1077,151.7L1094.7,180.5L1104.2,177.9ZM1092,276.6L1090.5,277.3L1089.5,285.2L1089.5,285.2L1090,285L1095.7,280.8L1098.3,279.5L1098.5,278.1ZM1055.4,279.4L1046.1,274.9L1042.4,274L1042.4,282.5L1052.9,280.2L1055.5,279.6ZM1090.5,277.3L1092,276.6L1095.1,269.8L1092.6,265.6L1088,264.4L1084.4,268.7L1084,272.4ZM1066.9,260.1L1066.1,258.9L1057.2,260.8L1055,261.3L1062.1,271.3L1064.7,271L1067.2,268ZM1088,264.4L1086.3,263.9L1086.9,259.1L1091.3,253.9L1086.2,249.5L1085.9,249.6L1085.6,249.6L1075.4,262.5L1076.3,266L1084.4,268.7ZM1056.4,290.6L1058.8,299.2L1067.8,296.4L1072.4,295L1066,289.5L1057.6,288.7ZM1050.9,291.1L1047.9,284.6L1043.3,286.3L1045.6,295.6ZM1057.6,288.7L1066,289.5L1066,277.2L1063.3,277.9L1056.8,279.3ZM1047.9,284.6L1049.7,280.9L1042.4,282.5L1043.3,286.3ZM1029.2,357.5L1036.8,355.4L1036.1,350.7L1034.7,349.8L1029,351.6ZM1043.5,341.2L1044.4,336.4L1042.7,325.1L1042.7,325.1L1036,334.5L1038.9,339.2ZM1022.5,364.1L1018.1,356.9L1017.9,351.7L1018.7,349.7L1013,350.9L1016.9,365.3ZM1018.7,371.9L1017.3,366.6L1016,362.1L1010.5,362.8L1009.4,364.4L1009.3,366.7L1015.3,372.8ZM978,437.6L975.6,436.8L973,442L975.8,441.5L978.7,440.9ZM908.5,446.9L902.2,444.8L898.1,447.1L900.3,453.3L902,453.1L908.8,452.1ZM1006.1,426.8L1001.7,420.2L999.3,419L996.6,420.7L996.7,425.5L1004.5,427.5ZM1006.8,418L1001.7,420.2L1006.1,426.8L1007,426.9L1007.2,426.8L1010.4,419.4ZM952.9,428.3L953.9,422.2L952.1,420.8L946.4,424L946.2,426.9L948.6,429.1ZM971.5,424L968.2,420.2L962.9,423L963.8,426L969.3,428.5ZM952.1,420.8L953.9,422.2L957.5,423.3L960.8,422.1L960.5,415.4L959.8,414.8L952.2,416ZM1001.2,407.4L1004.2,411.8L1011.7,410.1L1013,408.7L1006.5,405ZM952,411.4L945,408.9L947.3,415.2L952.1,415.8ZM953.9,407.5L952,411.4L952.1,415.8L952.2,416L959.8,414.8L959.7,406.8L957.7,406.4ZM984.6,396.5L983.7,399.9L986.6,403.9L989.9,402.6L991.4,400.4L991.5,396.1L990.9,395.6L985.9,395.6ZM960.8,397.9L958.2,393.7L954.8,392.6L952.6,396.3L953.3,397.8L955.2,399.1ZM963.3,387.3L968.7,384.2L967,379.7L961.6,378.7L958.9,385.4ZM978.5,377.7L984.4,382.2L986.5,382L992,377.7L989.9,376L982.9,370.8L978.1,368.6L977,373.3ZM1023.8,476.2L1020.3,475.3L1016.2,480.3L1016.8,484.9L1022,481.8L1023.7,481.6ZM989.2,474.4L988.2,474.8L984.6,483.6L994,482.9L990.8,475.5ZM977.8,477.8L980.2,474.7L979,469.4L975.3,467.9L970.9,469.5L973.8,477.7ZM927,468.9L925,477L930.3,479.3L936.1,475.5L934.5,468.7ZM934.5,468.7L936.1,475.5L939.4,476.9L944.5,472.2L942.6,466.7L934.5,468.6ZM942.3,549.3L951.8,550.5L954.3,547.6L952.8,541.8L946.3,541.3L945.4,541.9ZM968.3,539.6L954.5,540.1L952.8,541.8L954.3,547.6L958.4,550.1L960,548L968.3,539.7ZM943.5,531.2L943.8,531.3L951.8,527.7L948.6,519.2L943.4,517.4L943.3,517.4L939.8,520L938.2,523.1ZM864.9,609.5L865.7,610.8L873.8,610.3L869.6,605.3ZM905.8,599.8L905.8,603.1L909.7,605.6L915,599.7L913.2,595.5L911.8,595.1ZM887.1,592.1L886.5,597.3L892.7,600.7L896.5,596.9L894,591.6L891.2,590.5ZM924.7,593.6L927.4,594L930.8,590.9L928.4,586.7L921.9,586.3L921,589.3ZM876.5,592.7L876.8,588.2L871.7,583.8L868.2,587.5L872,592L875.2,593.5L875.9,593.4ZM914,576L911.8,582.3L912.5,583.2L913.2,583.4L920.7,582.3L922.4,580L920.1,575ZM905.5,573.3L912.5,573.6L913.7,567.7L909.4,566.1L905.2,570.6L905,573ZM900,559L901.6,559.3L905.5,553.3L905.1,552.8L900.4,551.2L896.1,553.7ZM913,546L912.3,551L916.7,553.4L920.9,549.6L919.2,546.5L914.4,545ZM923.6,550.9L926.4,554.5L933.3,551.9L929.8,542.7L929.2,542ZM866.8,528.9L864,527.9L861.1,529.4L859.2,535.2L864.9,536.9L865.9,535.5ZM882.6,529L874.7,526L872.3,528.2L874,535L875.6,535.1L882.2,532.2L883.1,529.9ZM855.5,511.4L848.3,511L847.8,516.5L849.4,519.6L856.5,514.2ZM944.2,644.9L953.7,643.7L959.6,638.7L958,636L953.8,628.7L941.3,635.5ZM939.2,625L940,634.7L941.3,635.5L953.8,628.7L950,622L950,621.9ZM825,616.3L817.2,616.8L809.1,625.2L808.8,626.5L813,624L820,624L826.4,623.5ZM887.4,620.7L896.5,618.6L896.7,618.2L894.5,609L889,609.4L887.8,609.4ZM905.8,617.2L904.7,608.3L900.7,608.6L894.5,609L896.7,618.2ZM856.5,611.3L865.4,612L866.4,610.8L865.7,610.8L861.8,603.8L850.5,605L849.8,605.1L850.5,605.9ZM934.6,652.2L940.9,651.2L944.2,644.9L941.3,635.5L940,634.7L931.6,635.2L925.2,640L925.1,649.4ZM925.2,640L931.6,635.2L929.1,625L920.1,625.2L918.8,627.9L920.5,635.7ZM972.1,721.1L972.7,716.8L962.3,707.4L957.9,709L954.9,722.9L960,728ZM816.4,608.5L816.5,608.5L827.7,607.4L824.7,596.4L815.5,596.4L814.1,598ZM804.3,599.5L806.2,597.7L804,587.8L794.3,589.2L793.9,589.7L794.3,597.9ZM844.2,563.2L845.1,571.3L845.2,571.5L858.1,573L857.9,570.6L854.3,561.4ZM812.3,565.3L822.1,560.7L821.1,553.5L812.3,552.2ZM829.1,529.6L818.8,530.1L818.7,530.2L819.9,540.8L820.8,541.3L830.3,540.2ZM828.7,520.1L829.6,529L844.4,528L841.2,516.5L828.8,520ZM808.4,509.4L809.9,520.4L817.3,521.7L818.7,520.2L819.3,504.9L816,505.2L810.3,505.7ZM826.3,508L839.9,512L837.5,503.1L826.7,504.2L823.1,504.5ZM751.1,654.3L742,654.1L741.2,655L743.7,663.4L751,662.2ZM751.1,654.3L751,662.2L752,662L758,656L759.1,653.8L752.7,652.5ZM670.8,639.4L669.5,650.2L670,650L675.6,649.3L676.8,640.3ZM705.7,647.3L714.7,646.9L713.8,638.2L705.5,640.3ZM713.8,638.2L714.1,637.8L712.9,629.8L712.5,629.5L704.4,629.1L704.3,629.2L704.2,639.2L705.5,640.3ZM773.9,629.7L786,628L789,627.4L788.5,622.7L776.2,626.3L773.9,629.4ZM757.3,617.4L757.8,616.8L756.9,609.7L750.1,608.2L748.5,610L750.5,619.1ZM767.1,598.7L768.1,608.7L775.1,607.8L777.2,605.7L776,598.3L775.4,597.8ZM677.5,601.4L684.9,603L686.2,595.8L683.7,593.2L676.3,595.7ZM738.2,573.3L737.3,574.2L737.8,582.1L739,583.1L747.1,582.7L746.5,572.8ZM774,572.8L764.1,570.6L762.9,572.2L766.7,581.1L774,579.3ZM673.9,576.5L675.3,577.7L684.3,576.6L684.5,576.1L682.5,565L675.7,565.1L675.4,565.1ZM746.6,572.7L746.2,564.6L738.1,564.6L737.3,565.6L738.2,573.3L746.5,572.8ZM755.1,572.5L754.5,564.3L746.2,564.6L746.2,564.6L746.6,572.7ZM773.3,563.9L775.7,570.4L784.8,569.7L785,562.2L785.1,558.7ZM737.2,556.3L736.3,555.7L724.9,557.8L724.8,560.3L728.4,565.4L737.3,565.6L738.1,564.6ZM746.2,564.6L754.5,564.3L755.2,563.5L752.9,555.4L746.2,556.3ZM752.8,545.9L754.1,554.2L761.8,554L762.2,545.8L761.7,545.4L752.9,545.7ZM779.8,535.4L780.6,543L781.5,543.9L785.3,544.6L785.5,536.3L785.5,534.2ZM770.6,525.7L778.7,524L778.2,517.5L777,515.9L768.3,517.2L767.8,518L770.2,525.4ZM778.2,517.5L778.7,524L778.8,524L785.7,524.5L785.7,523.4L785.9,515.8ZM586.3,732.6L574.9,731.7L567.9,740L568,740L580,743L585.8,745.6ZM560.9,737L567.9,740L574.9,731.7L575.1,721.7L574.6,721.1L561.7,721.7ZM573.2,709.7L574.6,721.1L575.1,721.7L589.5,719.4L590,714L590.1,713.7L587,709.9L573.8,708.9ZM600.3,687.9L587.6,687.4L585.4,697.3L586.8,698.7L596.9,698.4L602,692L603.3,690.9ZM564.2,663.5L551.4,661.2L550.9,661.8L550.2,672.4L551.2,673.4L562.5,674.3ZM538.8,661.1L550.9,661.8L551.4,661.2L552.1,650.8L551.3,649.8L539.9,649.5L538.5,660.8ZM636.2,663.1L639.2,665.9L646,660L653.1,656.5L646.4,650.8L635.7,652.9ZM515,637.2L515.1,648.3L526.5,648.6L527.4,637.8ZM588.8,615.6L577.4,614.5L576.2,615.4L575.2,624.6L577.9,627.2L586.8,626.5ZM473.4,587.5L469.3,597.9L477.2,605.4L482.2,599.6L482,588.6ZM532.7,567.6L530.8,565.8L519.5,567.6L520.3,575.8L530.4,578.2ZM556.2,568.5L565.1,567.5L566,557.3L555.5,556.2L553.4,565.7ZM647,556.6L645.9,555.6L637.2,556.5L635.3,567.7L647.7,568.9L648.4,568.2ZM521.5,554.6L530.1,554.8L532.2,543.9L531.1,542.4L520.6,542.3ZM500.1,518.7L500.1,518.7L488.4,515.3L487.3,516.1L488.5,528.3L498.7,528.2L499.3,527.6ZM511.7,507.2L500.3,505.3L500.3,505.4L500.1,518.7L500.1,518.7L510.6,516.9L510.9,516.6ZM524.7,496.1L522.2,505.5L523.5,507.1L538.6,510.7L538.8,507.6L539.3,494.9ZM512.8,481.9L513.9,472.9L509.6,472.7L502.5,472.2L500.9,480.5L501.1,480.7ZM477.1,606.9L465.3,615.7L473.4,629.7L480.4,630.2L486,627.4L487.8,623.5L488.2,617.4ZM416.4,576.6L412.4,581.3L414.7,581.5L425.7,582.6L436.7,583.6L444.7,584.3L445.3,580L436.5,570.7ZM420.8,540.1L416.4,576.6L436.5,570.7L439.6,558.2ZM405.4,500.8L405.2,481.6L403.1,478.6L389.4,475.9L379.8,493.9L384.4,508.3L395.3,508.5ZM384.4,508.3L378,515.1L376,532.6L403.9,542.3L414.8,537.7L395.3,508.5ZM284.3,542L304.7,554.7L329,519.8L310.1,505.7L288.4,518.4ZM267.8,487L238.2,495.1L238.4,495.7L242.9,497.7L240.2,500L250.5,525.5L275,512.2ZM310.1,505.7L306.7,490.6L272.8,481.4L267.8,487L275,512.2L288.4,518.4ZM314.5,475L312.9,468.4L289.6,454.5L271.2,458.2L272.8,481.4L306.7,490.6ZM329,519.8L347.7,521.1L349.2,510.8L351,497.6L352.8,484.4L353.4,480.2L346.1,475L314.5,475L306.7,490.6L310.1,505.7ZM346.1,475L341.5,442.5L338.2,442L328.2,440.5L323.9,439.8L312.9,468.4L314.5,475ZM222.9,519.2L226.6,519.1L226.9,516.9L231.6,513.9L235.2,504.1L238.8,501.1L207.7,500.6L207.7,506.4ZM173.5,422.9L179,413L161.9,397.8L154.8,414.2ZM132.5,370.1L144.2,370.8L147.2,367.3L141,350.8L132.4,357.4L130.2,367.7ZM141.6,348.7L147.5,346.7L152.5,326.9L136.5,326.7L134,341.6ZM153.7,293.5L152.7,297L164.1,312L166.7,301.9L169.9,289.4L171.2,284.5ZM97.2,281.1L113.3,275.7L112.7,260.2L106.1,258.2L96.6,255.3L94.8,268.3L91.3,277.8ZM137.7,284.3L143.5,283.4L153.5,271.7L144.3,269.2L134.8,266.5L132.7,266L133.5,281.5ZM97.9,322.8L85.2,316.6L85.4,319.4L83.1,330.8L94.7,334.7L100.5,332.6ZM119.1,299.6L133.2,305.9L135.2,304.7L137.7,284.3L133.5,281.5L117.7,285.1ZM161,394.2L163.5,388L146.3,379.1L136,392.5L151,396ZM140,439.6L127,429.4L107.7,429.7L107.4,429.9L112.5,437.2L115.9,444.8L114.5,449.9L130.9,448.1L139.5,441.7ZM238.2,229.1L245.5,220.8L238.8,206.2L224.4,206L221,208.6L222.2,223.8ZM153.7,186.1L155.3,185.5L160.3,178.3L158,177.8L149.1,173.1L149.6,163.7L141.5,170.8L139.6,178.3L142.4,182.4ZM141.5,170.8L149.6,163.7L149.7,161.3L145,158.6L140.6,154.6L132.2,152.1L132,154L131.9,152.5L131.1,158.4L130.1,161.7ZM159.4,250.2L157.5,247.1L135.7,247.7L133.1,266.1L134.8,266.5L144.3,269.2L153.9,271.8L155.9,272.3ZM190.1,409.3L193.7,414.8L202.1,427.3L210.6,439.7L211.2,440.6L237.6,426.2L241.1,415.8L233.2,404.8L196,404.9ZM241.1,415.8L237.6,426.2L247.3,448.6L254.5,448.7L258.4,428.4L260.9,415.7L261,414.8ZM171.6,361.1L174,340.9L160,327.6L157,339.4L153.8,351.9L161.5,364.5L162.9,366.7ZM174,340.9L184.1,331.7L179.8,312.3L165.2,307.8L163.5,314.4L160.2,326.9L160,327.6ZM241.1,415.8L261,414.8L263.3,403L265.8,390.3L267.8,380L238.7,380L233.2,404.8ZM331.8,441L338.2,442L348.2,443.5L358.3,444.9L360,432.1L361.8,419.3L363.1,409.7L350.7,408.5L342.7,413.7ZM277.4,383.5L286.2,371L280.8,361.4L271.5,360.7L270.7,364.9L268.2,377.6L267.6,380.8ZM307.1,363.5L300.8,374.7L302,384.3L320.7,386.3L330.2,371.6ZM344.7,368.5L337,373L343.7,389L367,381.6L367.1,380.9L368.3,371.9ZM280.8,361.4L289.7,353.1L281,328.9L278,327.2L275.6,339.6L273.1,352.3L271.5,360.7ZM345.4,345.6L347.3,349.7L370.2,358.5L370.6,355.3L372.4,342.5L362.9,341.1L353.4,339.8L347.2,338.8ZM314.3,340.5L314.1,338.6L307.5,330.7L281,328.9L289.7,353.1L305.6,356.3ZM436.6,322.8L470,325.5L470.9,314.5L471.2,311.3L455.9,295.3L437.8,298.9L434.2,303L433.8,318.6ZM365.9,289.5L361.8,267.6L345.7,266.9L343.6,279.8L341.7,291.6ZM366.2,262.6L391.7,271.7L395.8,267.6L394,241.5L386.5,240.5L377.6,239.2L370.1,238.2ZM435.5,270.8L458.6,280.5L463.6,276.8L464.2,249.4L458.3,248.9L449.3,248L444,247.5ZM473.9,279.4L474.2,276.1L475.2,263.3L476.3,250.5L467.3,249.7L464.2,249.4L463.6,276.8ZM391.8,436.5L383,435.2L376.2,447.3L378.5,447.6L388.6,448.8L393.9,449.4ZM472.3,417.6L478,412.5L470.6,399L461.7,400.8L459,411.4ZM476.7,382.4L479.9,370.3L475.9,365.5L464.6,367L463.5,380.7L474.4,383.7ZM441.3,426.6L456.2,437.4L462.4,435.3L455.3,414.6L446.6,415.5ZM462.4,435.3L456.2,437.4L446.1,450.9L446.2,455L449.5,455.3L459.7,456.2L467.7,456.8L468.2,443.1L463.2,435.4ZM495.5,432.9L485.9,425.5L479.7,429.3L486.3,443.9ZM540.9,295.2L540.1,294.3L528.2,295.2L528.7,305.6L537.6,306.1L541.9,306.3ZM593.3,296.1L592.1,294.7L579.7,295.9L578.8,297L579.7,310.5L584.3,313.6L590.7,312.2ZM503.1,267L492.9,265.8L492,266.5L489.9,279L490.1,279.2L502.3,281.5L503.2,280.7L503.4,267.3ZM540.8,269.4L529.8,267.6L529.2,268.1L527.7,281.8L540.2,281.6L541.8,270.8ZM591.4,282.9L591.6,271.6L579.5,269.9L579.3,270.1L579.3,283.1ZM553.8,257.5L554.8,269.2L567.6,269.3L566.9,257.9L554.8,256.8ZM591.7,271.5L603.8,271.5L604.6,270.5L605,260L593.1,258ZM613.5,271.1L613.5,264.4L613.5,258.3L607.3,258L605,260L604.6,270.5ZM567.9,256.6L579.8,256.6L580.3,244.5L567.4,244.8ZM605.2,246.2L607.3,258L613.5,258.3L613.6,249L607.9,242.8ZM492.5,227.7L487.9,227.3L478.4,226.5L477.4,237.5L492,242L494.5,240.1ZM556.5,243.3L554.9,231.3L554.5,231.3L545,230.9L544.3,230.8L542.1,242.5L543.7,244.4ZM619.2,374.6L609,373L607.8,374L607.9,385.4L614.9,385.4L619.7,385.4ZM511.6,358.4L512.9,348.7L502.5,347.1L501.2,348.3L501.9,355.7L505.8,355.9L505.7,358.4ZM502.5,337.3L502.5,337.4L502.5,347.1L512.9,348.7L513.7,348L513.4,338.1ZM623.5,351.6L619.8,341.6L619.4,340.5L609.1,341.4L608.8,351.7L608.8,351.7ZM482.1,314.7L483.9,313.3L483.8,302.7L481.3,302.5L472,301.7L471,312.7ZM533.3,317.2L546,317.4L546.1,317.3L546.4,306.5L537.6,306.1L529.3,305.6ZM533.3,317.2L529.3,305.6L528.2,305.6L518.8,305.1L513.7,304.8L511,314.3L511.9,320.3L514.4,322.8L525,326L530.7,323.9ZM655.1,364.8L645.8,365L645.8,370.1L655.2,369.9ZM663.7,355L664.3,364.3L664.4,364.4L673.4,363.9L673.5,354.9L664.2,354.5ZM700.6,354L692.3,354.1L692,363.8L701.6,363ZM701.8,363.2L710.4,362L710.1,353.8L701.3,353.3L700.6,354L701.6,363ZM710.9,352.9L710.3,344.3L710,344L701.3,345.1L701.3,353.3L710.1,353.8ZM710.3,344.3L719.3,343.3L718.5,334.4L718.5,334.4L709.5,334.9L709.2,335.2L710,344ZM627,327.6L614.7,327.1L615.1,328.7L618.1,337L626.7,336.6L627.4,328ZM718.5,334.4L731.3,333.2L731,327.9L728,324.6L718,325.2L718.5,334.4ZM645.4,327.5L654.4,327.6L654.4,327.6L654.8,318.8L654,318L645,318.5ZM691,326L699.8,326.2L699.8,326.2L699.8,316.3L699.6,316.1L690.6,317.1ZM728,324.6L721.9,318.1L717.2,315.2L717.9,325.1L718,325.2ZM645,318.5L654,318L653.9,309.1L653.9,309.1L645.2,308.9L645.1,308.9L644.6,318.1ZM618.2,300.4L617.8,300L611.2,300.1L610.5,301.6L612.9,309.3L617.5,309.6L618.5,308.6ZM627,309.3L627.1,309.3L627.6,299.6L618.2,300.4L618.5,308.6ZM654.3,299.8L649.5,295.2L645.2,299.5L645.2,308.9L653.9,309.1ZM681.2,308.3L689.7,307.9L690,307.6L689.6,293.9L681,294.2L680.4,294.2ZM663.1,299.3L672.1,299.3L676.9,294.3L671.3,294.5L662.9,294.7ZM500.2,446.4L499.5,459.1L505.7,459.5L506.4,447.1L506,446.7ZM506.4,447.1L505.7,459.5L510.2,459.7L516.3,460.1L516.9,447.5L516.8,447.4ZM548.6,449L548.6,449L538.2,448.4L537.7,448.8L537.1,461.1L542.3,461.3L548,461.6ZM539.4,427.5L538,437.2L538.7,438.1L548.7,438.7L549.3,438.2L548.7,427.9ZM591.4,439.2L590.5,428.9L581.5,429L580.1,439.5L580.3,439.7L590.5,440.1ZM590.5,428.9L591.4,439.2L600.8,439.8L601,439.6L601.8,429.3L600.9,428.4L590.9,428.6ZM539.7,406.2L530.1,405.5L529.5,406L529.8,415.8L539.2,416.9L539.6,416.6ZM539.7,406.2L540.3,405.7L540.2,395.3L540.1,395.2L530.4,394.9L530.4,395L530.1,405.5ZM687.7,467.8L679.3,468.6L678.6,475.1L684,474.9L688.6,474.7ZM734.3,465.8L736.4,467.6L744.6,466.1L743.5,456.6L743.3,456.5L736.4,456.6ZM743.3,456.5L743.6,445.9L743.5,445.8L733.8,447.7L736.2,456.4L736.4,456.6ZM686.1,449.2L688.1,450.9L696.3,448.8L694.2,440.1L687.7,439.7L686.1,440.7ZM742.1,438.3L733.1,437.9L732.8,438.1L732.9,447L733.8,447.7L743.5,445.8ZM734.2,427.7L734.6,427.2L736.1,422.3L731.8,419.5L722.9,420.8L723.9,429.6ZM658.7,420.7L658.6,412.9L649.2,413.2L649.3,421.7L649.3,422.4ZM668.7,421.8L677,422.1L678.7,420.4L678.2,412.8L668.9,412.8ZM678.2,412.8L678.7,420.4L686.6,421.7L687.7,420.9L685.7,411.5L685.2,411.2L678.5,412.5ZM714.3,409.8L709.6,414.3L711,421L721.7,420L722.7,410.2L721.8,409.5ZM722.7,410.2L721.7,420L722.9,420.8L731.8,419.5L729.9,410.3L729.7,409.9ZM658.1,374.4L658.3,374.7L666.8,376L668.5,374.6L667,369.5L665,369.6L658.4,369.8ZM675.5,373.8L684.4,375.7L685.4,374.8L685,368.8L684.5,368.8L676,369.2ZM622.8,528.4L633.3,529.2L634.7,518.4L632.8,516.6L622,517.1L621.3,517.9ZM711.3,555.3L709.7,557.8L711.2,564.1L712.4,564.1L724.7,563.6L724.9,555.7ZM680.1,527.7L680.1,527.8L689.2,527.5L689.1,518.1L687.5,516.9L680.5,517.4ZM677.7,508.2L680.3,517.3L680.5,517.4L687.5,516.9L689.7,507.5L688.5,506.2L679.8,506.2ZM729.4,514L728.9,506.4L718.4,504.2L717.1,505.8L720.2,515.4L727.9,515.3ZM677.9,487.4L669.5,486.4L668.1,488.1L668.4,498.1L668.7,498.4L677.5,496.2ZM736.4,484.5L737.8,483.1L740.8,472.2L729.5,472.9L728.1,473L729.3,483.7ZM796.2,459.7L791.5,456.9L789.1,464.1L794.2,463.8L795.3,463.7ZM880.9,437.4L872.2,436.5L871.2,437.4L871.8,441.7L879.2,441.8ZM891.3,432.8L886.9,428.6L881.6,432.2L882.1,435.9L886.1,437.9ZM841.2,431.4L843,430.1L843.1,428.2L838.7,423.8L834.1,430.1L835.6,432.6L836.3,433ZM833,429.7L834.1,430.1L838.7,423.8L838.3,421.8L831.5,420.5L829.2,422.6ZM770.3,499.6L764.5,499.3L764.3,499.4L762.4,509.6L771.3,509ZM773.9,498.1L780.1,501.3L784.7,498L786,495.5L784.9,491.4L783.9,490.8L776.9,491.3ZM774.5,488.1L776.9,491.3L783.9,490.8L781.1,482.6L776.8,483.5ZM830.1,476.7L829,476L822.3,477.7L820.9,480.1L821.1,485.1L822.3,485.8L829.4,483.6ZM811.6,462.6L805.3,463L803.9,463.1L805.3,468.5L813.7,471.6L815.2,470.4ZM842.1,466.5L845.3,470.1L849.6,468.3L852.4,464.9L851.7,459.1L849.6,459.3L844.2,459.8ZM161.3,691.7L162.6,684.2L144.8,673.3L135.5,688.2L144.7,699.5ZM144.7,699.5L135.5,688.2L123,690.6L125.6,695.1L132.6,697.7L133.8,704.2L137.6,707.7L143,709.8ZM213.1,643.4L187.9,645.8L184.7,654.5L197.9,669.8L198.2,669.2L198.2,669.2L198.2,669.2ZM253.8,699.5L258.1,702.1L265.1,707.3L270.4,712.6L269,713.5L262.5,708.7L256.4,703.8L252.9,701.2Z" fill="#dda37c" stroke="#ffdcb8" stroke-opacity=".58" stroke-width=".8" stroke-linejoin="round"/><path d="M237,165.9L252.8,177.6L255.4,166.3L257.1,158.8L243.6,152.8L242.9,153.2ZM271.9,292.9L262.1,280.7L243.4,293.5L249.7,294.9L260.8,297.2L271.3,299.3ZM283.2,289.1L271.9,292.9L271.3,299.3L271.9,299.4L283,301.6L289.3,302.8ZM284.5,269.6L284.2,274.5L289.5,280.7L291.1,281L305.2,266.7L295.8,258.8ZM266.8,185.7L262,193.2L267,199.7L278.1,199.8L289,187.6L285.9,184.3ZM283.9,168.5L266.3,175.8L266.8,185.7L285.9,184.3ZM289,187.6L278.1,199.8L284,206.8L294.3,202.1L295.4,198L297.8,190.5ZM290.8,252L276.6,258.3L284.5,269.6L295.8,258.8L295.1,255.6ZM308.3,192.3L306.8,189.4L298.9,187.2L295.4,198L292.1,210.4L300.6,208.9ZM305,151L298.9,144.9L279.6,152.4L281,158.7L292.5,164.7ZM335.9,129.3L333.9,129L325.4,127.4L317,125.8L316.8,125.8L319.7,141.8L333.6,148.3L340.1,142.5ZM459.2,180.7L459.8,195.7L471.9,195.6L476,184.8L464.6,179.5ZM460,227.6L471.7,220.2L457.9,205.9L438.8,215.4L439.4,225.8ZM391.9,210.2L383.2,209.2L373,221.3L379.7,239.5L386.5,240.5L387.4,240.6L398.2,220.5L396,214.8ZM503.2,216L489.9,215.2L488.8,227.4L497.4,228L502.1,228.4ZM557.1,217.3L556.7,216.9L544.8,217.5L544.7,217.6L543.9,230.8L545,230.9L554.5,231.3L557.8,231.4ZM545.3,203.2L544,204.4L544.8,217.5L556.7,216.9L558.5,204.1L558.3,203.8ZM598.6,191.4L598.2,205.3L599,206.1L607.5,205L606.9,192.8L604,185.5ZM695,284.4L694.9,284.6L694.2,293.7L700.3,293.4L710,293L706.8,283.2ZM669.4,248.9L669.1,249.3L669.6,259.9L679.8,261.4L680.4,255.7L679.2,248.3ZM679.8,213.4L679,214.2L678.8,225.8L685.7,230.5L687.6,227.7L687.1,214.8ZM620.6,180.4L620.7,180.5L632.2,179.3L635.3,172.5L632.7,169.6L620.8,167.6ZM728.2,304.9L729.8,317.7L732.6,317.5L739.6,317.1L740.3,303.5L740,303.1L729.3,303.6ZM739.6,292.3L738.9,283.6L730,282.7L727.5,293.8ZM740.9,294L750.9,292.7L752.9,290.7L750.5,282.2L748.2,280.7L739.9,282.5L738.9,283.6L739.6,292.3ZM760.5,434.5L751.7,435.8L748.1,440.2L751,443.2L760.7,443.6L761.6,435.5ZM805.8,421.3L813.6,420.4L812.4,412.8L812,412.5L805,413.3L804.6,413.8L805.3,420.9ZM799.9,367.1L800,367.1L807.7,365.8L806.7,359L799.8,358.8ZM845.7,321L836.8,322.7L836.9,328.6L846.3,327.1L847.1,327ZM818.6,255.2L809.9,255.9L809.3,256.6L810,266.1L810.1,266.1L820,264.6ZM900.8,379.2L892.8,381.4L894.7,390L896.6,391.3L901,387.7L904.2,381.8ZM912.7,342.5L918.1,342.2L916.7,334L911.5,335.2ZM997.7,312.8L1005,311.1L1006.6,309.7L1005.5,302.8L1000,297.2L995.4,305.4L994.7,307.4ZM997.7,312.8L1005,311.1L1006.6,309.7L1005.5,302.8L1000,297.2L995.4,305.4L994.7,307.4ZM1049.9,216.7L1048.5,204.2L1047.3,202.9L1043.3,203.9L1040.1,216.6L1042.2,219.6ZM1044.1,235.3L1034,238.7L1034.8,243.3L1037.8,243.9L1039.1,249.7L1040.4,249.6L1048.7,241.3ZM1048.7,241.3L1040.4,249.6L1055.9,253.7L1054.7,246.3L1054.8,243.1ZM1050.2,262.3L1042.4,264L1042.4,274L1046.1,274.9L1051.9,269.1ZM1051.9,269.1L1046.1,274.9L1055.4,279.4L1055.7,278.5ZM967.8,407.7L972,407.7L975.5,400L975.3,399.4L971.7,395.7L966.7,396.3L964.6,399L964,405ZM967.8,407.7L972,407.7L975.5,400L975.3,399.4L971.7,395.7L966.7,396.3L964.6,399L964,405ZM930.2,441.7L925.8,436.2L921.2,438.6L919.7,442.6L922.8,450.1L927.1,449.5ZM914.8,463L925.5,459.1L923,453.5L917.8,455.6L913.7,462.2ZM1006,444.5L1008.2,452.9L1015,455L1015.9,454.6L1015.6,444.3L1006.2,444.1ZM974.6,459.3L975.1,453.8L974.3,453.1L962,454.5L965.3,462.4L965.7,462.7L974.5,459.4ZM843.5,509.8L841.4,502.6L837.5,503.1L839.9,511.9ZM823.3,572.4L814.7,573L813.5,575.4L817,584.9L824.7,585L825.6,584.4ZM792.9,578.3L794,577.1L793.4,566.9L784.9,567L784.7,575.2L784.6,578.8ZM804.1,577.9L813.5,575.4L814.7,573L812.3,565.4L803.3,564.1L802.3,564.9ZM779.3,553.6L781.5,543.9L780.6,543L771.3,545.8L772.8,552.9ZM771.8,535.3L779.4,535.2L778.8,524L778.7,524L770.6,525.7ZM443.1,644.8L444.9,632.6L444.5,632.3L430.2,629.5L431,634L438,644L440.5,646.8ZM528,603.1L529.9,614.5L540.1,613.7L540.5,613.4L542,602.6L531.2,600.6ZM566.2,612.5L566.4,603.5L553.6,602.8L554.6,614.2L562.1,615.6ZM531,590.8L529,588.7L519.2,589.6L519.2,601.5L528,603.1L531.2,600.6ZM542,602.6L542.7,602L542.2,590.5L542.2,590.5L531,590.8L531.2,600.6ZM531.5,579.8L530.4,578.2L520.3,575.8L518.2,578.3L518.6,589.1L519.2,589.6L529,588.7ZM485.3,562.9L496.1,565.6L497.7,564.1L496.6,552.6L487.2,552.2ZM496.6,552.6L497.7,564.1L507,564L508,553.1L498.6,551.3ZM523.5,507.1L521.9,519.6L522.1,519.8L534.4,519L538.4,514.9L538.6,510.7ZM369.3,539L373.4,562.7L392.7,564.1L403.9,542.3L376,532.6ZM213.5,232.5L222.2,223.8L221,208.6L206.7,203.1L205.7,203.6L199,227.2ZM314.1,338.6L314.3,340.5L329.3,350.4L345.4,345.6L347.2,338.8L344,338.3L334.5,336.8L336.3,325.9ZM343.2,391.6L350.7,408.5L363.1,409.7L363.6,406.5L365.3,393.7L367,381.6L343.7,389ZM317,407.5L302.8,403.2L302.4,403.5L291.1,434.4L298.2,435.6L308.2,437.3L317,438.7ZM342.7,413.7L322.4,403.7L317,407.5L317,438.7L318.2,438.9L328.2,440.5L331.8,441ZM455.9,295.3L471.2,311.3L472,301.7L473.1,288.9L473.9,279.4L463.6,276.8L458.6,280.5ZM361.8,267.6L366.2,262.6L370.1,238.2L368.6,237.9L359.7,236.6L350.7,235.2L348.6,248.4L346.1,264.1L345.7,266.9ZM395.8,267.6L416.4,270.7L416.3,244.4L413.4,244L404.4,242.9L395.5,241.7L394,241.5ZM416.4,270.7L419.4,273.2L433.9,272L435.5,270.8L444,247.5L440.3,247.1L431.3,246.1L422.4,245.1L416.3,244.4ZM451,366.2L461.8,365.1L462.2,352.6L458.1,352.3L448.5,351.4L447.3,351.2L450,365.3ZM505,369.4L505,368.8L505.8,355.9L496.3,355.3L491.9,355L493.2,369.4ZM376.8,373L387.6,379.6L398.9,373.7L399.1,365.7L396.5,360.5L381.2,362.1ZM413.6,393.2L422.6,380.4L417.8,375.1L404.2,380.1L404.8,389ZM382,405.5L392.2,413.9L393.5,414L398.8,407.5L397.2,394.4L388.7,392.1ZM418.1,400.4L413.6,393.2L404.8,389L397.2,394.4L398.8,407.5L418.7,407.5L418.7,407.5ZM369.7,429.1L379.6,430.3L382.2,421.9L363.8,406.1ZM391.8,436.5L393.9,449.4L398.8,450L408.9,451.2L410.6,451.4L411.3,442.6L397.5,433.3ZM418.7,407.5L398.8,407.5L393.5,414L400.2,424.3L407.7,423.2ZM429.4,432.3L431.5,437.5L446.1,450.9L456.2,437.4L441.3,426.6ZM501.5,292.8L489.6,292.2L487.4,303L490.7,303.2L500.1,303.9L501.3,304ZM604.3,298.3L593.3,296.1L590.7,312.2L595.6,311.2L603.7,314.3ZM540.2,281.6L541.1,282.6L553.8,283.9L555.4,282.6L553.5,270.7L541.8,270.8ZM605.1,283L603.8,271.5L591.7,271.5L591.6,271.6L591.4,282.9L593.4,285.3ZM492.4,253.6L490.8,251.9L476.1,253.5L475.2,263.3L475.1,264.4L492,266.5L492.9,265.8ZM543.7,244.4L542.1,242.5L530.5,242.6L530.1,255.1L543.4,256.1L543.5,256ZM556.5,243.3L543.7,244.4L543.5,256L553.8,257.5L554.8,256.8L557.2,243.9ZM544.3,230.8L535.4,230.4L529.8,230.1L530.4,242.6L530.5,242.6L542.1,242.5ZM522.5,371L512,368.5L510.3,369.9L510.7,382.1L514.2,382.3L520.7,382.7ZM586.4,374.2L576.4,372.8L576.4,372.8L575.2,384.9L584.7,385.1L586.2,385.1ZM544.6,361L543.6,359.9L534,359.6L533.7,360L533.5,370.6L543.3,371.6L543.8,371.2ZM577.4,362L565.9,362.1L565.3,371.9L576.4,372.8L576.4,372.8L577.6,362.2ZM576.4,372.8L586.4,374.2L588,372.8L587.7,362.8L587,362.2L577.6,362.2ZM523,359.4L523.3,359.7L533.7,360L534,359.6L533.8,349.6L523.3,349.3ZM470.1,324.2L469.8,327.4L469.3,333.7L481.3,334.4L482.3,324ZM598.6,340.1L599.1,330.1L598.1,329.2L587.8,329.7L588.1,339.4L597.9,340.7ZM609.3,329.8L608.7,341L609.1,341.4L619.4,340.5L615.4,329.6ZM494,315.5L492.7,314.1L483.9,313.3L482.1,314.7L482.5,323.8L492.9,324.9ZM598,319.3L598.1,329.2L599.1,330.1L608.6,329.3L608,318.5L603.9,314.4L603.3,314.2ZM494.5,303.5L490.7,303.2L483.8,302.7L483.9,313.3L492.7,314.1ZM636.7,364.8L636.6,364.9L636.5,370.3L645.6,370.1L645.8,370.1L645.8,365L645.3,364.5ZM664.3,364.3L663.7,355L654.9,355.2L654.6,355.5L655.2,364.8ZM636.4,355L645.4,355.3L645.7,346.3L645.6,346.1L636.2,346.3ZM708.4,307L699.3,307.6L699.6,316.1L699.8,316.3L708.5,316.5L712.7,312.5L712.3,312.2L712.4,310.2ZM643.3,439.2L642.8,438.7L633.1,439.7L633.5,449.9L643.4,450.4ZM643.8,450.7L649.5,450.1L649.5,449.1L649.4,439.2L643.3,439.2L643.4,450.4ZM506.7,436L507,436.4L517.5,437.3L517.7,426.8L507.8,425.7ZM649.4,439.2L649.4,435.4L649.4,428.9L643.3,428.5L642.9,428.9L642.8,438.7L643.3,439.2ZM592,397L591.3,396.3L581.4,396.5L581.7,407.5L590.6,407.4ZM591.6,408.3L601.7,407.5L601.3,398L592,397L590.6,407.4ZM551.5,384.1L544.4,383.8L541.7,383.7L540.1,395.2L540.2,395.3L550.1,396.1L550.8,395.4ZM623,397.2L623.1,397.3L632.4,397.2L633.6,385.4L625,385.4L621.8,385.4ZM716.8,467L715.7,465.6L706.6,466.1L707.9,474L715.9,473.6ZM669,459.2L670.2,467.7L678.3,467.5L678.3,459.8L669.9,458.4ZM678.5,430.3L677,422.1L668.7,421.8L668.4,422.1L669.4,431.3L677,432.1ZM695.3,402.6L694.8,410.8L696.9,413.4L706,412L704.2,401.6L703.9,401.3ZM667.5,393.9L668.2,404.5L668.3,404.6L676.1,402.4L676.1,394.7L668.3,393.2ZM649.3,393.5L648.1,385.6L640.3,385.2L638,387.3L643.1,390.5L641.6,396.1ZM639.4,377.6L640.3,385.2L648.1,385.6L649.4,384.4L649.7,376L649.2,375.6L642,374.7ZM695.3,420.9L699.2,426.4L703.9,427.1L709.5,424.3L711,421L709.6,414.3L706,412L696.9,413.4ZM679.7,557.2L679.1,558L681.5,565L688,564.8L691.8,564.7L692.1,558.1L688.9,555.2ZM708,516.4L708.7,507.1L708.2,506.8L699,506.5L697.4,507.9L698.7,518.2ZM791.5,456.9L790.9,456L786,456L784.1,459.4L787.2,464.2L789.1,464.1ZM925.2,384.2L932.9,383.3L933.2,382.8L931.5,374.1L923.6,376.9ZM926.1,392.6L928.5,393.8L936,390.1L932.9,383.3L925.2,384.2L924.8,384.8ZM961.5,373.5L962.7,375.9L965.2,369.8ZM966.7,368.3L965.9,369.1L969.8,370.8ZM167.1,724.9L173.7,721.4L175.1,724L168.8,728.4Z" fill="#afc4fb" stroke="#ffdcb8" stroke-opacity=".58" stroke-width=".8" stroke-linejoin="round"/><path d="M295.8,258.8L305.2,266.7L312.2,267.2L314.4,262.2L306.3,247.2L295.1,255.6ZM249.8,242.3L256.4,243L259.4,242L261.1,231L243.9,222.7L241.4,225.5ZM340.1,142.5L346.7,142.1L353,132.3L350.9,131.9L342.4,130.5L335.9,129.3ZM382,185.6L401.4,192.4L401.9,192.1L405.1,171.3L388.4,166.8ZM408,224.5L412.8,237.7L434,230.3L415.9,220.1ZM585.3,219.8L598.1,219.5L599.1,218.5L599,206.1L598.2,205.3L586.1,205L584.7,206.2L584.5,219ZM558.5,204.1L571,205.8L573,204.3L573,191.5L559.4,191.1L558.3,203.8ZM669.3,287.4L669.3,294.5L671.3,294.5L681,294.2L683.6,294.1L681.5,284.8L681,284.4L671,285.4ZM683.6,294.1L690.7,293.8L694.2,293.7L694.9,284.6L681.5,284.8ZM656.2,262.7L658,260.6L656.5,250.7L656.4,250.6L645.7,250.1L644.2,251.8L644.1,261.5L644.6,262.2ZM632.1,250.1L632.6,250.8L644.2,251.8L645.7,250.1L644.3,239L631.3,239L631.2,239.1ZM643.1,204L643.4,214.9L643.7,215.1L656,213.3L656.2,204.8L644,202.8ZM656,213.3L657.4,214.8L667.1,215.3L668.3,214.1L668.1,199.7L660.1,200.1L656.2,204.8ZM668.1,199.7L674.3,195.7L672.5,182L653.3,182L650.7,187L660.1,200.1ZM717.7,285.1L719.3,282.7L715.3,272.2L707.5,273.2L706.2,281.4L706.6,282.4ZM715.3,272.2L719.3,282.7L727.4,280.3L728.2,272.2L728.1,272L716.7,270.7ZM748.2,280.7L750.5,282.2L759.1,278.7L758.9,271.6L749.8,269.6L748.6,270.9ZM693.5,252.8L695.3,250.6L693.3,242.7L678.3,242.4L680.1,253.6ZM706.3,241L705.3,240.1L695.2,240.3L693.3,242.7L695.3,250.6L704.4,251.1L705.4,250.3ZM703.3,229.1L693.2,229.7L695.2,240.3L705.3,240.1L703.9,229.8ZM746.1,238.7L747.2,227.3L735.1,229.5L734.7,230.1L736.1,236.9ZM704.3,218.5L703.5,206.6L699,208L690.8,210.8L693.3,208.3L690.3,210.5L687.1,213L687.3,220.2ZM760,426.1L760.5,434.5L761.6,435.5L769.5,435.2L770.1,434.5L769,425.8L768.7,425.5ZM760.9,325.9L752.8,325.6L751.7,326.7L754.9,335.2L761,334.1L761.4,326.4ZM796.2,406.9L796.5,406.6L796.1,399.3L795.2,398.6L786.1,400.3L785.8,401.5L787.7,406.1ZM803.1,398.4L803.7,406.1L811.8,404.6L810.8,397.8ZM787.3,392.3L787.5,394.8L786.1,400.3L795.2,398.6L794.9,391.2ZM802.1,390.8L802.8,390.2L802.3,383L801,382L794,383.4L793.9,383.6L795.4,390.5ZM801.3,374.8L801,374.6L793.7,375.4L793.4,375.8L794,383.4L801,382ZM799.6,358.6L798.8,352.4L797.8,351.6L791.4,352.6L792.1,360.1L792.3,360.2ZM829.1,356.1L829.6,356.6L836.6,355.1L835.9,348.7L829.3,348.9ZM821.4,349.5L828.8,348.5L828.3,341.3L827.8,341L820.5,341.5L820.5,341.5ZM856,319.8L859.9,322.9L863.3,314.9L865.9,310.1L865.1,309.4L854.8,309.5ZM811.7,276.1L811.7,276.1L813,285.1L822.8,284.4L821.9,275.5L820.7,274.6ZM810,266.1L809.3,256.6L798.6,257L799.2,263L798.5,265.3L801.1,267ZM847.9,369.4L848.8,370L857.1,369.2L857.1,369.2L856.3,361.5L848.1,361.5ZM847.4,353.8L847.7,361.2L848.1,361.5L856.3,361.5L856.7,361L856,353.4L854,352ZM861.5,343.3L861.9,342.9L861.6,333.8L860.4,333.1L853.2,335.3L854.1,343.1ZM937.4,314.7L946.6,315.9L949.2,312.8L946,304.3L937.2,305.9L937,305.9ZM995.4,305.4L990.5,300.5L990.5,307L994.7,307.4ZM986.3,326.3L986.6,326.5L999.4,326.5L999.8,323.5L995.5,318.2L989.3,319.5ZM963.8,328L963.6,330L969.9,335L970.4,335L974.9,328ZM963.7,342.5L967.3,347.4L973.2,347.6L979.3,341.6L978.3,341L965.4,341ZM1000,297.2L999.4,293.6L998.5,293.8L988.3,296L988.2,296L990.5,300.5L995.4,305.4ZM986.6,326.5L993.7,332.9L999,332.2L999.4,326.5ZM965.4,341L978.3,341L970.4,335L969.9,335ZM984.4,262.6L989.5,257.5L985.5,253.5L984.3,253.8L984.7,256L982.8,257.1ZM977.2,282.8L978.4,284.2L981,285L990.9,280.1L990,276.7L983.8,275.2L978.8,276.7ZM1020.2,221L1021.1,222.5L1024.3,223.8L1030.3,220.7L1027.2,207.9L1016.1,210.7ZM992.7,266.1L996.8,261.5L995.3,257.5L989.5,257.5L989.5,265.6ZM976.2,267.4L975.7,270.5L978.8,276.7L983.8,275.2L987.7,265.4L984.6,263.7ZM992.7,266.1L989.5,265.6L987.7,265.4L983.8,275.2L990,276.7L994.1,271.6L993.7,269ZM990.9,280.1L981,285L989.8,291.3L992.6,282ZM984.6,263.7L987.7,265.4L989.5,265.6L989.5,257.5L984.4,262.6ZM994.8,252.6L991.5,250.2L985.5,253.5L989.5,257.5L995.3,257.5ZM1040.4,249.6L1039.1,249.7L1042.4,264L1057.2,260.8L1055.9,253.7ZM1048.5,204.2L1049.9,216.7L1056.1,220.9L1061.2,212.8L1060.8,209.6ZM1041.6,223.6L1047.8,229.8L1055.1,228.5L1055.2,222.3L1056.1,220.9L1049.9,216.7L1042.2,219.6ZM1059.8,215L1055.2,222.3L1055.1,232.9L1055,233.4L1064.2,237.4L1064.9,237L1073.9,219.3L1073.3,217.2ZM1113.3,192.7L1114.2,202.3L1122.3,200.9L1131.2,192.8L1133.1,190.9L1125.5,187.6L1113.9,191.1ZM1107.8,171.6L1104.2,177.9L1113.9,191.1L1125.5,187.6L1124.1,175.6L1110.1,171ZM1081.8,285.5L1084.2,288.5L1084.7,287.2L1089.5,285.2L1089.4,285.2L1086.9,281L1086,280.2ZM971.6,433.4L976.8,429.7L974.3,423.7L971.5,424L969.3,428.5L970.3,433.3ZM968.4,525.5L961.1,525.3L959.5,527.2L968.3,539.6L968.3,539.7L970,538L975.5,533.3ZM896.2,492.7L889.1,496.5L885.7,503.4L902.6,506L904.4,496.8ZM932.5,591L940.2,591.7L940,590L940.9,585.4L935.3,585.4L932.1,590.8ZM865.4,612L867.4,621.3L878.4,620.7L878.7,610L877.4,610.1L866.4,610.8ZM975.6,724.6L972.1,721.1L960,728L968,733L973,739L978.1,737.5ZM824.7,585L825,596L836.4,593.4L836.9,592.1L833.9,583.7L825.6,584.4ZM834.8,582.2L833.9,583.7L836.9,592.1L847.1,592L846.4,581.7L845,580.8ZM744.9,555.3L744.9,547.3L744,546.5L736.5,546.6L736,547.2L736.3,555.7L737.2,556.3ZM781.5,543.9L779.3,553.6L785.1,558L785.2,549.3L785.3,544.6ZM745,527.1L744,527.9L744.2,537.7L744.3,537.8L752.1,537.5L752.7,536.8L751.8,528ZM761.7,528.1L760.6,518.7L758.9,517.7L754,519L752.5,527.4ZM600.1,673.7L598.6,675.4L600.3,687.9L603.3,690.9L612,684L612.5,683.8L612.1,675.7L611,674.7ZM611.7,661.9L611.5,652.3L599.8,651.7L598.5,663.1L599.7,664.4ZM539,638.6L539,648.5L539.9,649.5L551.3,649.8L552.4,638.3L541.2,636.9ZM611.5,652.3L611.5,652.3L610.5,639.8L599.9,639L598.6,650.4L599.8,651.7ZM623.6,604.5L613,605L611.7,615.4L612.8,616.8L623.8,616.9L624.5,616L623.7,604.6ZM498.8,539.6L486.6,540L486.2,551L487.2,552.2L496.6,552.6L498.6,551.3L498.8,539.6ZM645.9,555.6L647,556.6L659.2,556.3L663.2,553L663.2,551.6L653.8,549.5L650.2,548.8L649.6,548.5L647.2,547.5ZM532.6,531.8L533,531.5L534.4,519L522.1,519.8L521,529.6ZM117.5,284.8L101.2,290.5L97.9,298.2L107.9,307.1L119.1,299.6L117.7,285.1ZM179,413L173.5,422.9L173.5,430.4L195.1,442.9L203.2,445.9L212.8,442.9L210.6,439.7L202.1,427.3L193.7,414.8L188.8,407.4ZM224.4,206L238.8,206.2L253.2,192.6L252.5,190.3L250,189.8L238.7,187.2L228.7,184.8ZM157,231.3L157.5,247.1L159.4,250.2L184.5,247.4L184.5,235.5L163.5,224ZM159.4,250.2L155.9,272.3L163.5,274.4L173.1,276.9L183,279.4L185.3,248.6L184.5,247.4ZM407.7,423.2L400.2,424.3L397.5,433.3L411.3,442.6L420.6,433.5ZM475.9,365.5L479.9,370.3L491.8,370.6L493.2,369.4L491.9,355L486.7,354.6L478.6,354ZM528.2,295.2L527.4,294.5L516.3,295.5L514.3,304.8L518.8,305.1L528.2,305.6L528.7,305.6ZM604.6,270.5L603.8,271.5L605.1,283L606,283.7L613.4,283.1L613.4,279.8L613.5,271.1ZM592.6,257.4L593.1,258L605,260L607.3,258L605.2,246.2L593.7,246.8ZM580.3,244.5L580.7,244L580.4,232.1L573.6,231.9L568.6,231.8L566.8,244.2L567.4,244.8ZM554.4,371.7L565.2,372.1L565.3,371.9L565.9,362.1L565.3,361.3L554.8,361.7ZM480.6,345.9L480.2,354.1L486.7,354.6L490.6,354.9L491.9,348.2L491.4,347.6ZM543.6,359.9L544.6,361L554.3,361.2L554.8,350.9L545.2,351ZM576.4,351.3L577.4,362L577.6,362.2L587,362.2L588,351.4L587.8,351.2ZM587,362.2L587.7,362.8L597.8,362.2L598.7,352.2L597.3,350.9L588,351.4ZM543.3,348.7L545.2,351L554.8,350.9L555.8,349.9L554.3,339.6L545.7,339.2L545,339.7ZM566.8,318.8L557,318.8L555.7,328.9L556.7,330.2L567.1,329.5L567.3,329.3ZM587,329L587.3,318.8L583.3,314L577.2,318.2L577.4,329.9ZM701.8,363.2L701.6,363L692,363.8L688,368.1L688,368.6L694.2,368.3L702.1,367.9ZM673.5,345.2L673.3,345L664.1,346L664,346.1L664.2,354.5L673.5,354.9L673.6,354.9ZM673.1,327.3L672.7,326.9L663.9,327.7L664,336.1L672.8,336.6L673.2,336.1ZM717.2,315.2L712.7,312.5L708.5,316.5L708.6,325.7L708.8,325.9L717.9,325.1ZM627,309.3L618.5,308.6L617.5,309.6L617.9,318.4L626.6,318ZM636.2,318.2L635.5,309.6L627.1,309.3L627,309.3L626.6,318L626.9,318.3L635.9,318.6ZM672.1,299.3L672,308.1L672.3,308.4L681.1,308.4L681.2,308.3L680.4,294.2L676.9,294.3ZM527.1,448.5L516.9,447.5L516.3,460.1L520.9,460.3L526.8,460.6ZM612.7,450.5L611.9,449.7L601.7,450.3L602.1,462.9L606.7,462.9L611.9,462.9ZM611.8,439.6L611.9,449.7L612.7,450.5L622.2,450.1L622.5,449.8L622.6,439.8L622.2,439.4L612.2,439.2ZM601.8,429.3L611.6,429.4L611.9,429.1L611.4,418.7L602,418.3L601.8,418.5L600.9,428.4ZM622.2,428.5L622,418.3L612,418.2L611.4,418.7L611.9,429.1ZM508.2,415.2L508.6,415.6L518.8,415.7L519.6,405.7L519.1,405.2L509,404.9ZM591.9,417.7L601.8,418.5L602,418.3L602,407.8L601.7,407.5L591.6,408.3ZM622.4,417.9L622.3,408L612.4,407.2L611.9,407.6L612,418.2L622,418.3ZM643.6,418.6L643.3,407.6L633.6,408.5L632.8,418.2L643,419.2ZM541.7,383.7L534.4,383.4L531,383.2L530.4,394.9L540.1,395.2ZM602.4,397L611.5,397L612.8,385.4L604.9,385.4L601.6,385.3ZM611.5,397L612.2,397.7L623,397.2L621.8,385.4L614.9,385.4L612.8,385.4ZM610.6,483.3L599.9,482.7L599.8,482.7L599,494.3L610.5,494.1ZM645.4,494L644.5,482.4L633.2,484.2L633.3,494.1L643.2,495.8ZM543.6,481.2L554.6,482.5L555.1,482L556,470.7L556,470.6L544.5,470.9L540.1,475.3L540,478ZM701.8,557.9L699.3,555.8L692.1,558.1L691.8,564.7L700.2,564.5L700.8,564.5ZM679.5,547.7L681.6,545.8L679.9,537L672.4,538L671.7,546.2ZM834.9,441.3L838.2,439.6L836.3,433L835.6,432.6L829.8,437.5L829.3,438.6ZM874.9,416.5L875,416.4L872.9,411.2L868.7,410.1L866,412L866.5,415.2L873,418.5ZM790.2,448.1L787.1,447.4L782.6,451.1L786,456L790.9,456L792.4,452.8ZM778.2,460.7L777.8,460.6L773.5,462.7L773.8,465.8L775.5,469.8L783.5,469.1L783.4,467.9ZM845.6,418.5L845.6,418.8L846.1,419.2L853.2,420.2L855.5,418.3L849.5,412.6ZM884.5,478.3L886.4,477.3L894.4,470.6L892.4,469.1L884.2,471.1L883.5,472.7ZM857.6,466.9L852.4,464.9L849.6,468.3L855,473.1L860.4,471.2L859.9,469.4ZM751,500.9L754.7,502.3L756.5,500.5L755.4,493L748.8,489.6L747,496.1ZM764.3,499.4L756.5,500.5L754.7,502.3L755.7,510.1L761.9,509.7L762.4,509.6ZM916.3,377.1L922,375.6L922,375.1L916.4,367.1L916.1,369.7L912.7,372.7ZM962.8,364.2L956.9,365.3L955.2,366.5L961.5,373.5L965.2,369.8L965.5,368.9L965.9,369.1L966.7,368.3ZM198.1,671.3L198.2,669.2L197.9,669.8ZM213.1,643.4L198.2,669.2L202.1,668.8L209.1,669.7L215.2,672.3L221.4,677.6L218.7,663.6L215.2,647.8L214.5,642.7ZM162.6,684.2L161.3,691.7L169.2,707.3L170.9,702.1L173.7,698.2L175.8,695.1L177.6,690.7L178.4,688.4L181.7,688.7L170.6,679.4ZM182,695.4L186.3,693.7L191.6,693.7L190.9,698.9L184.6,704.7L181.4,702.1ZM249.7,694.7L252,693.7L254.3,697.2L252.5,698.9ZM252,707.7L256.4,707L259.9,712.6L257.3,714ZM275.7,716.1L282.7,715.2L287,720.5L286.2,724.9L281.8,723.1L276.5,719.6ZM383.2,707.2L385,707.2L385,708.9L383.2,708.9Z" fill="#bfb5d0" stroke="#ffdcb8" stroke-opacity=".58" stroke-width=".8" stroke-linejoin="round"/><path d="M471.9,195.6L459.8,195.7L457.7,198.6L457.9,205.9L471.7,220.2L478.9,220.2L479.6,212.3L480.1,205.7ZM599.1,218.5L598.1,219.5L599,232.5L602.2,232.5L611.7,232.6L611,222.1L610.4,219.6ZM494,160.9L495.3,162.1L506.3,161.7L507.4,150.7L502.1,150.4L494.6,149.8ZM712.6,189.6L716.7,185.8L726.7,177.5L711.5,173.4ZM979.8,388.8L979.9,387.9L975.9,383.6L969.8,384.5L973.3,392L979.4,389.4ZM979.8,388.8L979.9,387.9L975.9,383.6L969.8,384.5L973.3,392L979.4,389.4ZM543.8,578.8L553.3,579.5L554.5,578.7L556.2,568.5L553.4,565.7L543.3,566.1L542.2,567.4ZM525,326L524.4,337.9L524.8,338.4L533.3,339.5L535.6,337.6L535.4,328.6L530.7,323.9Z" fill="#82a6f8" stroke="#ffdcb8" stroke-opacity=".58" stroke-width=".8" stroke-linejoin="round"/><path d="M952.6,396.3L951.7,397.7L944.2,395.1L941.8,404.1L949.7,404.1L953.3,397.8ZM565.8,283.2L578.1,284.4L579.3,283.1L579.3,270.1L568.2,269.9L565.7,283.2Z" fill="#4f7fe6" stroke="#ffdcb8" stroke-opacity=".58" stroke-width=".8" stroke-linejoin="round"/><path d="M305.9,559.3L301,584.2L305.6,584.9L316.5,586.6L327.4,588.2L338.3,589.7L340.1,576.6L341.9,563.5L342.2,561.1Z" fill="#b9bee8" stroke="#ffdcb8" stroke-opacity=".58" stroke-width=".8" stroke-linejoin="round"/><path d="M262,120.9L258.8,119.9L256,122.7L258,127.3L260.9,127.5L264.4,124ZM615.7,282.8L619.4,284.1L620.6,282.1L620,278.6L617.3,278.4L614.7,279.8ZM1033.4,265.5L1031.8,263.6L1029.5,263.5L1028.4,266.6L1030.2,268.4L1032.2,268ZM1031.3,268.5L1032.7,266.3L1031.7,263.8L1029.2,263.5L1027.1,266.1L1028.6,268.6ZM413.6,480.3L411.5,478.5L408.9,479.3L408.6,482.3L410.9,483.9L413.1,482.6ZM304.3,581.7L308.5,575L305.7,570.7L297.2,570L295.1,577.4L297.4,581.5ZM98.2,260.9L96.5,265.7L99.3,269.2L103.4,266.6L102.6,262.8ZM110.1,345.1L109.8,350.7L117,354.9L120,349.5L117.7,344.4ZM165.3,181.4L166.1,183.9L168.1,184.5L170.2,183L170.8,181.2L170.2,180.6L166.7,179.8L166.6,179.8ZM130.4,193.8L127.9,192.7L125.2,194.3L125,198L128.1,199.4L130.7,196.8ZM162.8,353.7L164.4,351.5L164.3,349.9L162.2,348.6L160.3,349.7L159.7,351.7L160,353ZM551.2,246.4L552.6,244.1L550.7,241.3L547.6,242.5L547.7,246ZM623.2,368L620.3,364.8L617.1,366.8L617.9,369.8L621.6,370.5ZM563.8,345.7L564.3,343.3L562.3,341.1L560,342L559.8,345.1L561,346.4Z" fill="#bfb5d0" stroke="#ffdcb8" stroke-opacity=".58" stroke-width=".8" stroke-linejoin="round"/><path d="M244.9,171.6L241.8,171.4L241.3,174.8L242.8,176.1L245.9,175.8L246.8,173.2ZM340.3,158.5L339.2,154.1L335.4,152.9L331.2,156.3L332.9,162.4L337,162.4ZM351.5,205.4L355.4,200.9L352.9,195.1L345.5,196.6L345.9,202.3ZM389.2,425.3L386,427.5L385.8,430.2L388.7,432.5L390.9,431.1L392,428.3ZM548.9,233.1L546.9,235L548.7,239L553,238.5L552.4,234.4Z" fill="#82a6f8" stroke="#ffdcb8" stroke-opacity=".58" stroke-width=".8" stroke-linejoin="round"/><path d="M136.5,141L134.8,144.2L134.2,148.4L139.3,151.3L142.1,148.3L143.3,144.3L141.8,142.4ZM297.5,280.3L296.9,283.5L298.9,286.2L302.7,284.7L303.2,282.4L300.6,279.9ZM309.1,163.6L314.2,160.8L314.4,156.2L312.1,152.7L305.8,154.1L305.4,159.8ZM331,199.6L328.6,202.9L330.8,207.3L334.2,210.2L338.9,206.3L339.2,201.4L334.9,199.1ZM345,202.7L343.7,198.9L340.1,198.7L338.3,201.3L340.2,204.7L343,204.3ZM911.8,486.4L910.8,483.9L908,483.2L906.6,485.5L907.4,488L909.2,488.7L909.5,488.7ZM396.7,242.8L395.4,248L398.9,252.7L404.7,251L405.1,245.5L401.5,242.5L398.9,242.2ZM355.8,250.2L357.8,248.9L356.8,246L353.8,245.4L352.7,247.9L353.6,249.9ZM482.1,248.7L484.6,250.1L487.6,247.7L486.6,245.1L483.4,243.6L480.9,246.3ZM582.7,294.2L586.1,292L586.2,287.2L581,286.5L579.6,290.2ZM606.1,306.2L602.7,306.5L601.4,309.1L603.9,312.3L606.8,311.3L608,308.3ZM619.5,379L615,380.2L615.1,383.3L618.4,385.2L621.1,382.7Z" fill="#afc4fb" stroke="#ffdcb8" stroke-opacity=".58" stroke-width=".8" stroke-linejoin="round"/><path d="M267.0,115.4L264.1,128.1L261.2,140.8L258.3,153.5L255.4,166.3L252.5,179.1M283.2,119.0L280.5,131.6L277.8,144.2L281.0,158.7L293.0,165.0L296.6,182.7L300.1,183.3L295.4,198.0L292.1,210.4L302.5,208.5L308.2,226.5L313.3,239.2L315.8,245.7L326.5,242.8L340.8,245.3L348.6,248.4M132.1,152.1L140.6,154.6L145.0,158.6L149.7,161.3L149.1,173.1L158.0,177.8L166.7,179.8L175.5,181.8L188.2,182.6L205.2,181.2L216.1,181.8L227.4,184.5L238.7,187.2L250.0,189.8M252.5,179.1L253.1,186.0L252.5,190.3L256.7,204.4L246.9,219.3L238.2,229.1L242.1,236.6L238.0,244.1L234.6,259.4L231.1,274.7L227.7,290.1M96.6,255.3L106.1,258.2L115.6,261.0L125.2,263.8L134.8,266.5L144.3,269.2L153.9,271.8L163.5,274.4L173.1,276.9M173.1,276.9L184.0,279.7L194.9,282.4L205.8,285.0L216.7,287.6L227.7,290.1L238.7,292.5L249.7,294.9L260.8,297.2L271.9,299.4L283.0,301.6M283.0,301.6L294.1,303.7L305.2,305.7L316.3,307.7L327.4,309.5L338.6,311.4M173.1,276.9L169.9,289.4L166.7,301.9L163.5,314.4L160.2,326.9L157.0,339.4L153.8,351.9L161.5,364.5L169.4,377.1L177.4,389.7L185.5,402.3L193.7,414.8L202.1,427.3L210.6,439.7L219.2,452.1L227.9,464.5L236.8,476.8M236.8,476.8L237.0,482.1L238.0,495.5L242.9,497.7L235.2,504.1L231.6,513.9L226.9,516.9L225.5,525.8L228.7,531.7L223.5,534.1M236.8,476.8L238.4,462.6L239.9,448.5L254.5,448.7L258.4,428.4M258.4,428.4L260.9,415.7L263.3,403.0L265.8,390.3L268.2,377.6L270.7,364.9L273.1,352.3L275.6,339.6L278.1,326.9L280.5,314.2L283.0,301.6M258.4,428.4L268.3,430.3L278.3,432.1L288.3,433.9L298.2,435.6L308.2,437.3L318.2,438.9L328.2,440.5L338.2,442.0L348.2,443.5L358.3,444.9M348.6,248.4L346.1,264.1L343.6,279.8L341.1,295.6L338.6,311.4M338.6,311.4L336.5,324.1L334.5,336.8L344.0,338.3L353.4,339.8L362.9,341.1L372.4,342.5M372.4,342.5L370.6,355.3L368.9,368.1L367.1,380.9L365.3,393.7L363.6,406.5L361.8,419.3L360.0,432.1L358.3,444.9M358.3,444.9L356.4,458.1L354.6,471.3L352.8,484.4L351.0,497.6L349.2,510.8L347.3,524.0L345.5,537.1L343.7,550.3L341.9,563.5L340.1,576.6L338.3,589.7M348.6,248.4L350.7,235.2L359.7,236.6L368.6,237.9L377.6,239.2L386.5,240.5L395.5,241.7L404.4,242.9L413.4,244.0L422.4,245.1L431.3,246.1L440.3,247.1L449.3,248.0L458.3,248.9L467.3,249.7L476.3,250.5M484.9,149.0L483.9,161.6L482.8,174.2L481.7,186.9L480.6,199.6L479.6,212.3L478.5,225.0L477.4,237.8L476.3,250.5M476.3,250.5L475.2,263.3L474.2,276.1L473.1,288.9L472.0,301.7L470.9,314.5L469.8,327.4L468.7,340.2L467.6,353.1M372.4,342.5L381.9,343.8L391.4,345.0L400.9,346.2L410.4,347.3L419.9,348.4L429.5,349.4L439.0,350.4L448.5,351.4L458.1,352.3L467.6,353.1L477.2,353.9L486.7,354.6L496.3,355.3L505.8,355.9M478.4,226.5L487.9,227.3L497.4,228.0L506.9,228.7L516.4,229.3L525.9,229.9L535.4,230.4L545.0,230.9L554.5,231.3L564.0,231.6L573.6,231.9L583.1,232.2L592.6,232.4L602.2,232.5L611.7,232.6M600.8,154.7L602.8,167.3L601.8,180.0L606.9,192.8L607.6,208.0L611.0,222.1L611.7,232.6M611.7,232.6L606.4,241.2L613.6,249.0L613.5,264.4L613.4,279.8L613.4,295.2M472.0,301.7L481.3,302.5L490.7,303.2L500.1,303.9L509.4,304.5L518.8,305.1L528.2,305.6L537.6,306.1L547.0,306.5L556.4,306.9L565.7,307.2L575.1,307.4L584.3,313.6L595.6,311.2L603.9,314.4L610.4,320.9L613.2,321.2M613.4,295.2L610.5,301.6L613.3,310.6L610.4,317.0L613.2,321.2M613.4,295.2L623.0,295.2L632.7,295.2L642.4,295.1L652.0,294.9L661.7,294.7L671.3,294.5L681.0,294.2L690.7,293.8L700.3,293.4L710.0,293.0M505.8,355.9L505.0,368.8L504.2,381.7M504.2,381.7L514.2,382.3L524.3,382.9L534.4,383.4L544.4,383.8L554.5,384.2L564.6,384.6L574.6,384.8L584.7,385.1L594.8,385.2L604.9,385.4L614.9,385.4L625.0,385.4L635.1,385.4M613.2,321.2L615.1,328.7L619.8,341.6L623.6,351.9L624.6,366.1L628.4,375.1L635.1,385.4M504.2,381.7L503.4,394.6L502.6,407.5L501.8,420.4L501.0,433.3L500.2,446.2L499.5,459.1M358.3,444.9L368.4,446.2L378.5,447.6L388.6,448.8L398.8,450.0L408.9,451.2L419.1,452.3L429.2,453.3L439.4,454.3L449.5,455.3L459.7,456.2L469.9,457.0L480.1,457.8L499.5,459.1M499.5,459.1L510.2,459.7L520.9,460.3L531.6,460.9L542.3,461.3L553.0,461.8L563.8,462.1L574.5,462.4L585.2,462.6L596.0,462.8L606.7,462.9L617.4,463.0L628.2,463.0L638.9,462.9L649.6,462.8M480.1,457.8L479.1,470.7L478.1,483.5L477.0,496.4L476.0,509.3L474.9,522.1L473.9,535.0L472.9,547.8L471.8,560.7L470.8,573.5L469.7,586.3L458.7,585.5L447.7,584.6L436.7,583.6L425.7,582.6L414.7,581.5L403.7,580.4L392.7,579.2L394.0,585.0M479.1,470.7L489.3,471.4L499.5,472.0L509.6,472.7L519.8,473.2L530.0,473.7L540.2,474.2L539.5,490.9L538.8,507.6L538.1,524.2M538.1,524.2L541.1,525.9L544.1,529.1L547.3,528.2L550.4,529.6L554.6,530.8L556.6,534.0L559.7,534.1L563.9,536.3L567.0,535.6L569.1,538.0L572.3,536.0L577.5,536.6L578.5,540.0L580.5,543.1L585.9,540.7L591.1,544.9L596.3,547.0L598.5,544.2L601.6,541.6L604.8,543.7L609.0,544.8L613.2,546.4L618.5,544.6L622.7,544.1L626.9,543.0L631.2,542.2L636.4,543.8L641.7,542.4L646.0,547.0L650.2,548.8L653.8,549.5M649.6,462.8L649.8,475.7L652.0,489.9L654.1,504.1L654.0,519.2L653.9,534.3L653.8,549.5M653.8,549.5L663.2,551.6L663.5,565.3L663.7,578.4L664.0,591.5L668.4,601.7L675.1,611.9L672.2,627.3L671.3,635.0L669.5,650.5M635.1,385.4L643.1,390.5L640.3,400.9L649.2,408.0L649.3,421.7L649.4,435.4L649.5,449.1L649.6,462.8M626.1,370.5L635.8,370.3L645.6,370.1L655.3,369.9L665.0,369.6L674.8,369.2L684.5,368.8L694.2,368.3L703.9,367.8L710.2,373.5M649.8,475.7L661.2,475.5L672.6,475.2L684.0,474.9L695.3,474.5L706.7,474.0L718.1,473.5L729.5,472.9L740.8,472.2L737.1,485.7L750.2,484.6M663.5,565.3L675.7,565.1L688.0,564.8L700.2,564.5L712.4,564.1L724.7,563.6M690.3,210.5L687.1,213.0L687.6,227.7L678.1,241.7L680.4,255.7L679.7,262.1L689.0,268.2L696.6,275.6L706.1,280.8L710.0,293.0M710.0,293.0L712.7,303.1L712.3,312.2L721.9,318.1L731.0,327.9L731.6,336.9L717.8,346.0L715.2,352.0L717.6,359.7L710.2,373.5L709.1,383.4L717.4,394.6L725.8,403.2L730.1,410.7L737.2,412.9L736.7,420.7L734.2,428.6L743.6,435.8L752.2,444.3L752.6,450.7L760.3,458.5M760.3,458.5L760.0,468.4L754.1,471.4L753.5,477.9L750.2,484.6L746.6,497.8L744.1,508.3L740.1,511.1L735.4,519.1L728.8,532.4L725.2,545.5L724.7,563.6L726.7,573.8L730.3,581.4L721.5,599.8L717.9,615.4L731.5,614.8L745.1,614.0L758.7,613.2L756.7,622.3L762.6,634.2M721.9,318.1L732.6,317.5L743.3,316.9L754.0,316.2L764.6,315.4L775.3,314.6M720.1,213.6L726.1,219.4L735.2,221.5L744.2,223.6L749.7,225.7L762.3,227.0L768.1,241.4L773.1,247.4M782.3,334.4L783.6,349.5L784.9,364.6L786.2,379.7L787.5,394.8L785.8,401.5L789.5,410.2L782.7,423.8L780.7,435.6M760.3,458.5L773.2,455.2L781.4,443.4L780.7,435.6L789.5,432.3L799.7,434.0L809.4,430.4L814.7,423.4L823.0,426.4L826.2,418.3L830.9,406.6L842.1,403.5L841.1,395.8M841.1,395.8L839.6,382.4L838.1,369.1L836.6,355.7L835.1,342.4L833.6,329.1M788.2,332.3L799.5,331.2L810.9,330.0L822.2,328.8L833.5,327.5L833.6,329.1L846.3,327.1L859.0,325.1M841.1,395.8L847.4,395.0L854.2,402.0L865.6,405.0L878.0,400.7L886.9,407.5L892.2,402.1L893.0,394.1L901.0,387.7L905.7,379.2L916.1,369.7L918.4,353.6L918.5,344.7M918.5,344.7L915.7,327.8L912.9,310.8M754.1,471.4L768.8,470.3L783.5,469.1L783.1,464.5L794.2,463.8L805.3,463.0L816.4,462.2L827.5,461.3L838.6,460.3L849.6,459.3L860.7,458.2L871.8,457.1L881.9,455.8L892.0,454.5L902.0,453.1L912.1,451.7M912.1,451.7L922.8,450.1L933.4,448.5L944.0,446.8L954.6,445.1L965.2,443.3L975.8,441.5L986.4,439.6L997.0,437.6L1007.6,435.6L1018.1,433.5L1028.7,431.3M740.1,511.1L751.0,510.4L761.9,509.7L772.8,508.9L783.7,508.0L794.4,507.1L805.2,506.2L816.0,505.2L826.7,504.2L837.5,503.1L850.7,501.6L863.9,500.0L876.5,498.3L889.1,496.5M783.7,508.0L785.9,510.4L785.7,523.4L785.5,536.3L785.2,549.3L785.0,562.2L784.7,575.2L784.4,588.1L785.9,601.3L787.5,614.5L789.1,627.7M837.5,503.1L841.2,516.4L844.9,529.8L848.6,543.1L852.4,556.4L857.9,570.6L859.1,589.9L861.8,603.8M805.2,609.6L816.5,608.5L827.8,607.4L839.2,606.3L850.5,605.0L861.8,603.8M805.2,609.6L810.4,618.1L808.6,627.8M861.8,603.8L865.7,610.8L877.4,610.1L889.0,609.4L900.7,608.6L912.4,607.7L924.1,606.7L928.1,611.3L927.8,601.5L939.8,600.5M889.1,496.5L884.9,504.8L895.0,509.2L903.0,520.6L912.6,528.3L918.4,531.4L929.8,542.7L933.5,552.5L940.4,561.9L947.4,564.7M889.1,496.5L902.7,489.3L916.7,487.9L930.6,486.4L931.0,489.0L933.3,487.3L937.5,494.0L949.0,492.3L960.4,490.6L974.0,500.4L987.8,510.1M863.9,500.0L863.7,494.6L870.9,485.9L886.4,477.3L895.7,469.5L905.5,465.4L912.1,451.7M871.8,457.1L881.9,451.8L897.0,435.3L902.7,428.2M902.7,428.2L893.0,421.6L887.7,413.2L886.9,407.5M902.7,428.2L916.9,432.3L926.5,428.2L936.0,424.0L940.5,408.9L944.2,395.1L951.7,397.7L958.7,386.0L965.5,368.9L976.9,373.9L978.1,368.6M944.6,378.0L950.8,369.8L956.9,365.3L963.6,364.0L967.1,361.3L974.2,362.0L978.1,368.6L982.9,370.8L989.9,376.0L993.8,379.2L991.5,388.9L997.1,391.7L1005.7,393.9M944.6,378.0L942.3,364.7M922.3,368.1L932.4,366.4L942.5,364.7L952.6,362.9L962.7,361.0L972.8,359.1L982.8,357.2L992.9,355.1L1002.9,353.1L1013.0,350.9M918.5,344.7L922.3,368.1M1013.0,350.9L1016.0,347.4L1019.6,347.4M1013.0,350.9L1017.3,366.6L1021.6,382.4L1034.2,379.8M1020.5,396.1L1025.1,393.8L1032.8,391.6M925.8,300.8L926.9,307.7L937.2,305.9L947.4,304.0L957.7,302.1L967.9,300.1L978.1,298.1L988.3,296.0L998.5,293.8L1008.7,291.6M1008.7,291.6L1016.5,300.5L1024.3,305.0L1021.1,312.6L1018.6,317.2L1019.0,325.0L1023.2,330.7L1030.3,335.7L1025.1,343.5L1019.6,347.4L1017.9,351.7M1024.3,305.0L1041.3,310.6L1040.8,318.7M1046.0,309.5L1047.6,303.8L1042.4,282.5M1042.4,282.5L1042.4,264.0L1037.8,243.9L1034.8,243.3L1032.1,228.1L1027.2,207.9M1042.4,282.5L1052.9,280.2L1063.3,277.9L1073.7,275.4L1081.4,273.4M1073.7,275.4L1077.8,290.9L1077.2,293.5M1081.4,273.4L1082.2,276.4L1086.9,281.0L1089.4,285.2M1042.4,264.0L1057.2,260.8L1067.8,258.5L1078.4,256.1L1082.6,250.4L1085.9,249.6M1057.2,260.8L1054.7,246.3L1055.1,232.9L1055.2,222.3L1061.2,212.8L1059.6,199.7M1086.7,244.0L1079.4,237.2L1074.6,221.6L1069.8,206.1L1065.0,190.5" fill="none" stroke="#fff" stroke-width="2.7" stroke-linejoin="round" stroke-linecap="round"/><rect x="610" y="10" width="370" height="18" rx="3" fill="url(#lg)"/></svg>
<div class="t" id="title">Local Journalist Equivalents (LJEs) per 100k people</div>
<div class="t tick" style="left:605px">0</div>
<div class="t tick" style="left:658px">40</div>
<div class="t tick" style="left:967.5px">257</div>
<div class="t logo" id="mr" style="left:758px;color:#1d4f91;letter-spacing:.05px">MUCK RACK</div>
<div style="position:absolute;left:910px;top:815px;width:1px;height:21px;background:#c4c4c4"></div>
<div class="t logo" id="rb" style="left:923px;color:#1c1c1c;transform:scaleX(.975)">REBUILD</div>
<div class="t logo" id="ln" style="left:1026px;color:#b3232c;transform:scaleX(.957)">LOCAL NEWS</div>
</body></html>
